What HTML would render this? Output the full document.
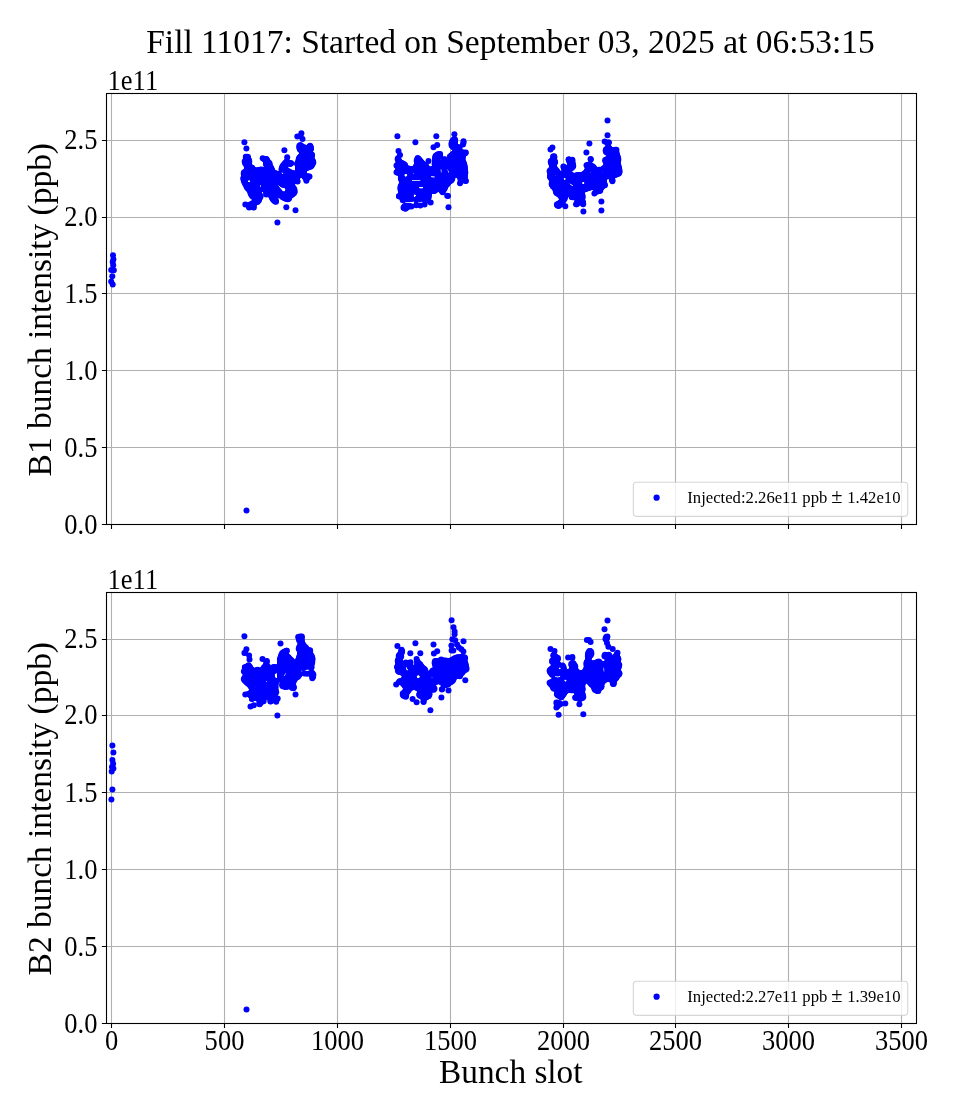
<!DOCTYPE html>
<html><head><meta charset="utf-8"><title>Fill 11017</title>
<style>html,body{margin:0;padding:0;background:#fff}svg{display:block;will-change:transform}text{font-family:"Liberation Serif",serif;fill:#000}</style>
</head><body>
<svg width="960" height="1120" viewBox="0 0 960 1120">
<rect width="960" height="1120" fill="#fff"/>
<text x="510.5" y="52.8" text-anchor="middle" font-size="33.48">Fill 11017: Started on September 03, 2025 at 06:53:15</text>
<path d="M111.5 93.5V524.5M224.5 93.5V524.5M337.5 93.5V524.5M450.5 93.5V524.5M563.5 93.5V524.5M675.5 93.5V524.5M788.5 93.5V524.5M901.5 93.5V524.5M106.5 447.5H916.5M106.5 370.5H916.5M106.5 293.5H916.5M106.5 217.5H916.5M106.5 140.5H916.5" stroke="#b0b0b0" stroke-width="1.1" fill="none"/>
<g fill="#0000ff"><circle cx="244.4" cy="142.3" r="3.00"/><circle cx="246.4" cy="148.4" r="3.00"/><circle cx="284.4" cy="150.3" r="3.00"/><circle cx="301.4" cy="133.2" r="3.00"/><circle cx="297.3" cy="136.4" r="3.00"/><circle cx="302.5" cy="139.1" r="3.00"/><circle cx="286.3" cy="207.3" r="3.00"/><circle cx="295.5" cy="210.3" r="3.00"/><circle cx="277.4" cy="222.5" r="3.00"/><circle cx="300.5" cy="136.0" r="3.00"/><circle cx="287.2" cy="157.3" r="3.00"/><circle cx="245.3" cy="204.5" r="3.00"/><circle cx="249.1" cy="207.5" r="3.00"/><circle cx="253.8" cy="207.5" r="3.00"/><circle cx="309.5" cy="176.4" r="3.00"/><circle cx="306.4" cy="180.8" r="3.00"/><circle cx="297.6" cy="181.5" r="3.00"/><circle cx="262.7" cy="158.3" r="3.00"/><circle cx="266.4" cy="158.9" r="3.00"/><circle cx="243.9" cy="172.6" r="3.00"/><circle cx="243.7" cy="173.8" r="3.00"/><circle cx="244.0" cy="175.1" r="3.00"/><circle cx="244.0" cy="176.4" r="3.00"/><circle cx="243.6" cy="177.6" r="3.00"/><circle cx="243.3" cy="178.8" r="3.00"/><circle cx="243.7" cy="180.1" r="3.00"/><circle cx="244.0" cy="181.3" r="3.00"/><circle cx="244.6" cy="182.5" r="3.00"/><circle cx="245.2" cy="183.7" r="3.00"/><circle cx="245.8" cy="184.8" r="3.00"/><circle cx="246.4" cy="186.0" r="3.00"/><circle cx="246.9" cy="187.2" r="3.00"/><circle cx="247.6" cy="188.2" r="3.00"/><circle cx="248.6" cy="189.2" r="3.00"/><circle cx="249.5" cy="190.1" r="3.00"/><circle cx="250.1" cy="191.2" r="3.00"/><circle cx="250.4" cy="192.5" r="3.00"/><circle cx="250.8" cy="193.7" r="3.00"/><circle cx="251.4" cy="194.8" r="3.00"/><circle cx="252.1" cy="195.9" r="3.00"/><circle cx="253.1" cy="196.8" r="3.00"/><circle cx="254.1" cy="197.6" r="3.00"/><circle cx="255.0" cy="198.6" r="3.00"/><circle cx="255.3" cy="199.8" r="3.00"/><circle cx="255.1" cy="201.1" r="3.00"/><circle cx="254.4" cy="202.2" r="3.00"/><circle cx="253.4" cy="202.9" r="3.00"/><circle cx="252.2" cy="203.6" r="3.00"/><circle cx="251.1" cy="204.2" r="3.00"/><circle cx="249.9" cy="204.7" r="3.00"/><circle cx="248.7" cy="205.2" r="3.00"/><circle cx="248.8" cy="205.9" r="3.00"/><circle cx="249.5" cy="207.1" r="3.00"/><circle cx="250.6" cy="207.0" r="3.00"/><circle cx="251.9" cy="206.9" r="3.00"/><circle cx="253.1" cy="207.3" r="3.00"/><circle cx="253.5" cy="206.1" r="3.00"/><circle cx="253.6" cy="204.8" r="3.00"/><circle cx="254.0" cy="203.6" r="3.00"/><circle cx="254.9" cy="202.7" r="3.00"/><circle cx="256.1" cy="202.2" r="3.00"/><circle cx="257.4" cy="201.9" r="3.00"/><circle cx="258.3" cy="201.0" r="3.00"/><circle cx="259.0" cy="199.9" r="3.00"/><circle cx="259.4" cy="198.7" r="3.00"/><circle cx="259.9" cy="197.5" r="3.00"/><circle cx="260.6" cy="196.4" r="3.00"/><circle cx="260.3" cy="195.7" r="3.00"/><circle cx="259.4" cy="194.7" r="3.00"/><circle cx="258.9" cy="193.5" r="3.00"/><circle cx="258.8" cy="192.2" r="3.00"/><circle cx="259.2" cy="191.0" r="3.00"/><circle cx="260.0" cy="189.9" r="3.00"/><circle cx="259.1" cy="189.6" r="3.00"/><circle cx="258.0" cy="189.0" r="3.00"/><circle cx="257.1" cy="188.0" r="3.00"/><circle cx="256.6" cy="186.8" r="3.00"/><circle cx="256.5" cy="185.5" r="3.00"/><circle cx="256.8" cy="184.3" r="3.00"/><circle cx="257.6" cy="183.2" r="3.00"/><circle cx="258.6" cy="182.5" r="3.00"/><circle cx="259.9" cy="182.1" r="3.00"/><circle cx="261.2" cy="182.2" r="3.00"/><circle cx="262.4" cy="182.7" r="3.00"/><circle cx="263.3" cy="183.6" r="3.00"/><circle cx="263.9" cy="184.7" r="3.00"/><circle cx="264.2" cy="186.0" r="3.00"/><circle cx="263.9" cy="187.2" r="3.00"/><circle cx="263.3" cy="188.4" r="3.00"/><circle cx="263.4" cy="188.9" r="3.00"/><circle cx="264.6" cy="189.4" r="3.00"/><circle cx="265.6" cy="190.2" r="3.00"/><circle cx="266.3" cy="191.4" r="3.00"/><circle cx="266.5" cy="192.6" r="3.00"/><circle cx="266.3" cy="193.9" r="3.00"/><circle cx="266.3" cy="194.4" r="3.00"/><circle cx="267.5" cy="193.8" r="3.00"/><circle cx="268.8" cy="193.8" r="3.00"/><circle cx="270.0" cy="194.3" r="3.00"/><circle cx="270.9" cy="195.2" r="3.00"/><circle cx="271.4" cy="196.4" r="3.00"/><circle cx="271.9" cy="197.6" r="3.00"/><circle cx="272.5" cy="198.7" r="3.00"/><circle cx="273.3" cy="199.8" r="3.00"/><circle cx="274.2" cy="200.7" r="3.00"/><circle cx="275.2" cy="201.5" r="3.00"/><circle cx="276.0" cy="201.8" r="3.00"/><circle cx="275.5" cy="200.5" r="3.00"/><circle cx="275.1" cy="199.3" r="3.00"/><circle cx="275.3" cy="198.0" r="3.00"/><circle cx="275.7" cy="196.8" r="3.00"/><circle cx="276.4" cy="195.7" r="3.00"/><circle cx="277.4" cy="194.9" r="3.00"/><circle cx="278.7" cy="194.7" r="3.00"/><circle cx="279.9" cy="195.0" r="3.00"/><circle cx="281.0" cy="195.7" r="3.00"/><circle cx="282.1" cy="196.4" r="3.00"/><circle cx="283.0" cy="197.3" r="3.00"/><circle cx="284.2" cy="197.9" r="3.00"/><circle cx="285.4" cy="198.4" r="3.00"/><circle cx="286.5" cy="198.9" r="3.00"/><circle cx="287.8" cy="199.2" r="3.00"/><circle cx="288.9" cy="198.8" r="3.00"/><circle cx="289.2" cy="197.6" r="3.00"/><circle cx="289.7" cy="196.4" r="3.00"/><circle cx="290.7" cy="195.5" r="3.00"/><circle cx="291.8" cy="194.8" r="3.00"/><circle cx="292.9" cy="194.1" r="3.00"/><circle cx="293.8" cy="193.2" r="3.00"/><circle cx="294.5" cy="192.2" r="3.00"/><circle cx="294.6" cy="190.9" r="3.00"/><circle cx="294.3" cy="189.6" r="3.00"/><circle cx="293.9" cy="188.4" r="3.00"/><circle cx="293.1" cy="187.4" r="3.00"/><circle cx="292.3" cy="186.3" r="3.00"/><circle cx="292.0" cy="185.1" r="3.00"/><circle cx="292.2" cy="183.8" r="3.00"/><circle cx="292.6" cy="182.6" r="3.00"/><circle cx="293.3" cy="181.5" r="3.00"/><circle cx="294.4" cy="180.8" r="3.00"/><circle cx="295.7" cy="180.6" r="3.00"/><circle cx="296.9" cy="181.0" r="3.00"/><circle cx="297.1" cy="180.6" r="3.00"/><circle cx="296.7" cy="179.4" r="3.00"/><circle cx="296.8" cy="178.1" r="3.00"/><circle cx="297.4" cy="176.9" r="3.00"/><circle cx="298.3" cy="176.0" r="3.00"/><circle cx="299.3" cy="175.1" r="3.00"/><circle cx="300.4" cy="174.6" r="3.00"/><circle cx="301.7" cy="174.6" r="3.00"/><circle cx="302.9" cy="175.1" r="3.00"/><circle cx="303.9" cy="176.0" r="3.00"/><circle cx="304.8" cy="176.9" r="3.00"/><circle cx="305.6" cy="177.9" r="3.00"/><circle cx="306.1" cy="179.1" r="3.00"/><circle cx="306.6" cy="178.7" r="3.00"/><circle cx="307.5" cy="177.8" r="3.00"/><circle cx="308.5" cy="176.9" r="3.00"/><circle cx="308.4" cy="176.4" r="3.00"/><circle cx="307.1" cy="176.3" r="3.00"/><circle cx="305.8" cy="176.1" r="3.00"/><circle cx="304.7" cy="175.5" r="3.00"/><circle cx="303.9" cy="174.4" r="3.00"/><circle cx="303.7" cy="173.1" r="3.00"/><circle cx="303.9" cy="171.8" r="3.00"/><circle cx="304.2" cy="170.6" r="3.00"/><circle cx="304.6" cy="169.4" r="3.00"/><circle cx="305.5" cy="168.4" r="3.00"/><circle cx="306.7" cy="167.9" r="3.00"/><circle cx="308.0" cy="167.5" r="3.00"/><circle cx="309.2" cy="167.1" r="3.00"/><circle cx="310.5" cy="166.7" r="3.00"/><circle cx="311.4" cy="166.1" r="3.00"/><circle cx="312.0" cy="164.9" r="3.00"/><circle cx="312.7" cy="163.8" r="3.00"/><circle cx="313.3" cy="162.6" r="3.00"/><circle cx="313.0" cy="161.4" r="3.00"/><circle cx="312.3" cy="160.3" r="3.00"/><circle cx="311.6" cy="159.2" r="3.00"/><circle cx="311.2" cy="158.0" r="3.00"/><circle cx="311.4" cy="156.7" r="3.00"/><circle cx="312.0" cy="155.6" r="3.00"/><circle cx="311.8" cy="154.6" r="3.00"/><circle cx="310.7" cy="153.9" r="3.00"/><circle cx="310.0" cy="152.8" r="3.00"/><circle cx="309.8" cy="151.6" r="3.00"/><circle cx="310.2" cy="150.3" r="3.00"/><circle cx="310.8" cy="149.2" r="3.00"/><circle cx="310.9" cy="148.0" r="3.00"/><circle cx="310.6" cy="146.7" r="3.00"/><circle cx="310.1" cy="145.7" r="3.00"/><circle cx="309.3" cy="146.8" r="3.00"/><circle cx="308.3" cy="147.7" r="3.00"/><circle cx="307.1" cy="148.1" r="3.00"/><circle cx="305.9" cy="148.0" r="3.00"/><circle cx="304.6" cy="147.6" r="3.00"/><circle cx="303.4" cy="147.2" r="3.00"/><circle cx="302.2" cy="146.7" r="3.00"/><circle cx="301.3" cy="145.7" r="3.00"/><circle cx="300.3" cy="145.0" r="3.00"/><circle cx="299.4" cy="145.7" r="3.00"/><circle cx="299.4" cy="147.0" r="3.00"/><circle cx="299.5" cy="148.2" r="3.00"/><circle cx="299.9" cy="149.5" r="3.00"/><circle cx="300.9" cy="150.3" r="3.00"/><circle cx="301.9" cy="151.1" r="3.00"/><circle cx="302.6" cy="152.3" r="3.00"/><circle cx="302.7" cy="153.5" r="3.00"/><circle cx="302.2" cy="154.8" r="3.00"/><circle cx="301.3" cy="155.7" r="3.00"/><circle cx="300.4" cy="156.6" r="3.00"/><circle cx="299.5" cy="157.6" r="3.00"/><circle cx="298.8" cy="158.7" r="3.00"/><circle cx="298.6" cy="159.9" r="3.00"/><circle cx="298.5" cy="161.2" r="3.00"/><circle cx="298.1" cy="162.5" r="3.00"/><circle cx="297.3" cy="163.5" r="3.00"/><circle cx="297.5" cy="164.4" r="3.00"/><circle cx="298.0" cy="165.6" r="3.00"/><circle cx="298.0" cy="166.9" r="3.00"/><circle cx="298.0" cy="168.2" r="3.00"/><circle cx="298.0" cy="169.5" r="3.00"/><circle cx="298.0" cy="170.8" r="3.00"/><circle cx="297.7" cy="172.0" r="3.00"/><circle cx="296.9" cy="173.0" r="3.00"/><circle cx="295.8" cy="173.6" r="3.00"/><circle cx="294.5" cy="173.7" r="3.00"/><circle cx="293.2" cy="173.3" r="3.00"/><circle cx="292.0" cy="172.9" r="3.00"/><circle cx="290.8" cy="172.5" r="3.00"/><circle cx="289.6" cy="171.9" r="3.00"/><circle cx="288.4" cy="171.3" r="3.00"/><circle cx="287.3" cy="170.8" r="3.00"/><circle cx="286.3" cy="170.0" r="3.00"/><circle cx="285.6" cy="168.9" r="3.00"/><circle cx="284.9" cy="167.8" r="3.00"/><circle cx="284.5" cy="166.5" r="3.00"/><circle cx="284.7" cy="165.2" r="3.00"/><circle cx="285.4" cy="164.2" r="3.00"/><circle cx="286.4" cy="163.4" r="3.00"/><circle cx="287.7" cy="163.3" r="3.00"/><circle cx="289.0" cy="163.6" r="3.00"/><circle cx="290.1" cy="163.9" r="3.00"/><circle cx="291.2" cy="163.2" r="3.00"/><circle cx="290.1" cy="163.0" r="3.00"/><circle cx="288.9" cy="162.7" r="3.00"/><circle cx="287.7" cy="162.2" r="3.00"/><circle cx="286.8" cy="161.3" r="3.00"/><circle cx="285.9" cy="162.3" r="3.00"/><circle cx="285.0" cy="163.2" r="3.00"/><circle cx="284.1" cy="164.2" r="3.00"/><circle cx="283.3" cy="165.2" r="3.00"/><circle cx="282.5" cy="166.2" r="3.00"/><circle cx="282.1" cy="167.5" r="3.00"/><circle cx="281.7" cy="168.7" r="3.00"/><circle cx="281.6" cy="169.6" r="3.00"/><circle cx="282.8" cy="169.4" r="3.00"/><circle cx="284.1" cy="169.7" r="3.00"/><circle cx="285.2" cy="170.3" r="3.00"/><circle cx="286.1" cy="171.3" r="3.00"/><circle cx="286.6" cy="172.5" r="3.00"/><circle cx="286.6" cy="173.8" r="3.00"/><circle cx="286.2" cy="175.0" r="3.00"/><circle cx="285.5" cy="176.1" r="3.00"/><circle cx="284.4" cy="176.8" r="3.00"/><circle cx="283.1" cy="177.1" r="3.00"/><circle cx="281.9" cy="177.0" r="3.00"/><circle cx="280.7" cy="176.5" r="3.00"/><circle cx="279.7" cy="175.6" r="3.00"/><circle cx="279.1" cy="174.4" r="3.00"/><circle cx="278.6" cy="173.7" r="3.00"/><circle cx="277.4" cy="173.9" r="3.00"/><circle cx="276.1" cy="173.6" r="3.00"/><circle cx="274.9" cy="173.1" r="3.00"/><circle cx="273.7" cy="172.6" r="3.00"/><circle cx="272.7" cy="171.8" r="3.00"/><circle cx="272.2" cy="170.6" r="3.00"/><circle cx="271.9" cy="169.4" r="3.00"/><circle cx="271.2" cy="168.3" r="3.00"/><circle cx="270.5" cy="167.2" r="3.00"/><circle cx="269.8" cy="166.1" r="3.00"/><circle cx="269.5" cy="164.8" r="3.00"/><circle cx="269.6" cy="163.5" r="3.00"/><circle cx="268.8" cy="162.6" r="3.00"/><circle cx="267.9" cy="161.7" r="3.00"/><circle cx="267.2" cy="160.6" r="3.00"/><circle cx="266.5" cy="159.5" r="3.00"/><circle cx="265.3" cy="159.0" r="3.00"/><circle cx="264.0" cy="158.9" r="3.00"/><circle cx="264.9" cy="159.4" r="3.00"/><circle cx="265.7" cy="160.4" r="3.00"/><circle cx="266.0" cy="161.7" r="3.00"/><circle cx="266.0" cy="163.0" r="3.00"/><circle cx="266.2" cy="164.3" r="3.00"/><circle cx="266.6" cy="165.5" r="3.00"/><circle cx="267.0" cy="166.7" r="3.00"/><circle cx="266.8" cy="168.0" r="3.00"/><circle cx="266.1" cy="169.1" r="3.00"/><circle cx="265.0" cy="169.8" r="3.00"/><circle cx="263.7" cy="170.0" r="3.00"/><circle cx="262.5" cy="169.7" r="3.00"/><circle cx="261.2" cy="169.4" r="3.00"/><circle cx="260.0" cy="169.7" r="3.00"/><circle cx="258.7" cy="170.1" r="3.00"/><circle cx="257.5" cy="170.4" r="3.00"/><circle cx="256.2" cy="170.4" r="3.00"/><circle cx="254.9" cy="170.2" r="3.00"/><circle cx="253.7" cy="169.7" r="3.00"/><circle cx="252.8" cy="168.8" r="3.00"/><circle cx="252.1" cy="167.7" r="3.00"/><circle cx="250.9" cy="167.3" r="3.00"/><circle cx="249.7" cy="166.7" r="3.00"/><circle cx="249.0" cy="165.6" r="3.00"/><circle cx="248.7" cy="164.4" r="3.00"/><circle cx="249.0" cy="163.1" r="3.00"/><circle cx="249.3" cy="161.9" r="3.00"/><circle cx="249.1" cy="160.6" r="3.00"/><circle cx="248.5" cy="159.5" r="3.00"/><circle cx="248.0" cy="158.3" r="3.00"/><circle cx="248.0" cy="157.0" r="3.00"/><circle cx="247.1" cy="156.7" r="3.00"/><circle cx="245.8" cy="156.8" r="3.00"/><circle cx="245.9" cy="158.0" r="3.00"/><circle cx="245.9" cy="159.3" r="3.00"/><circle cx="245.4" cy="160.5" r="3.00"/><circle cx="244.7" cy="161.6" r="3.00"/><circle cx="245.0" cy="162.9" r="3.00"/><circle cx="245.8" cy="163.9" r="3.00"/><circle cx="246.6" cy="164.9" r="3.00"/><circle cx="246.9" cy="166.2" r="3.00"/><circle cx="246.9" cy="167.5" r="3.00"/><circle cx="246.9" cy="168.8" r="3.00"/><circle cx="246.7" cy="170.1" r="3.00"/><circle cx="246.0" cy="171.2" r="3.00"/><circle cx="245.0" cy="171.9" r="3.00"/><circle cx="279.4" cy="191.9" r="3.00"/><circle cx="278.6" cy="190.9" r="3.00"/><circle cx="277.7" cy="189.9" r="3.00"/><circle cx="276.9" cy="188.9" r="3.00"/><circle cx="276.1" cy="187.9" r="3.00"/><circle cx="275.3" cy="186.8" r="3.00"/><circle cx="274.7" cy="185.6" r="3.00"/><circle cx="274.7" cy="184.3" r="3.00"/><circle cx="275.3" cy="183.1" r="3.00"/><circle cx="276.3" cy="182.3" r="3.00"/><circle cx="277.6" cy="182.0" r="3.00"/><circle cx="278.9" cy="182.2" r="3.00"/><circle cx="280.1" cy="182.7" r="3.00"/><circle cx="281.2" cy="183.4" r="3.00"/><circle cx="282.2" cy="184.3" r="3.00"/><circle cx="283.2" cy="184.8" r="3.00"/><circle cx="284.6" cy="184.9" r="3.00"/><circle cx="285.8" cy="185.3" r="3.00"/><circle cx="286.9" cy="186.0" r="3.00"/><circle cx="287.8" cy="187.0" r="3.00"/><circle cx="288.4" cy="188.1" r="3.00"/><circle cx="288.6" cy="189.4" r="3.00"/><circle cx="288.5" cy="190.8" r="3.00"/><circle cx="288.0" cy="192.0" r="3.00"/><circle cx="287.3" cy="193.1" r="3.00"/><circle cx="286.2" cy="193.9" r="3.00"/><circle cx="285.0" cy="194.4" r="3.00"/><circle cx="283.7" cy="194.6" r="3.00"/><circle cx="282.4" cy="194.4" r="3.00"/><circle cx="281.2" cy="193.8" r="3.00"/><circle cx="280.2" cy="193.0" r="3.00"/><circle cx="252.4" cy="183.8" r="3.00"/><circle cx="251.5" cy="184.7" r="3.00"/><circle cx="250.3" cy="185.3" r="3.00"/><circle cx="249.0" cy="185.5" r="3.00"/><circle cx="247.7" cy="185.2" r="3.00"/><circle cx="246.5" cy="184.6" r="3.00"/><circle cx="245.6" cy="183.6" r="3.00"/><circle cx="245.0" cy="182.5" r="3.00"/><circle cx="244.8" cy="181.1" r="3.00"/><circle cx="245.1" cy="179.9" r="3.00"/><circle cx="245.7" cy="178.7" r="3.00"/><circle cx="246.7" cy="177.8" r="3.00"/><circle cx="247.9" cy="177.2" r="3.00"/><circle cx="249.2" cy="177.0" r="3.00"/><circle cx="250.5" cy="177.3" r="3.00"/><circle cx="251.6" cy="177.9" r="3.00"/><circle cx="252.5" cy="178.9" r="3.00"/><circle cx="253.1" cy="180.0" r="3.00"/><circle cx="253.3" cy="181.4" r="3.00"/><circle cx="253.0" cy="182.6" r="3.00"/><circle cx="299.7" cy="147.1" r="3.00"/><circle cx="302.1" cy="147.1" r="3.00"/><circle cx="309.3" cy="147.1" r="3.00"/><circle cx="300.9" cy="149.1" r="3.00"/><circle cx="303.3" cy="149.1" r="3.00"/><circle cx="305.7" cy="149.1" r="3.00"/><circle cx="308.1" cy="149.1" r="3.00"/><circle cx="310.5" cy="149.1" r="3.00"/><circle cx="302.1" cy="151.2" r="3.00"/><circle cx="304.5" cy="151.2" r="3.00"/><circle cx="306.9" cy="151.2" r="3.00"/><circle cx="309.3" cy="151.2" r="3.00"/><circle cx="303.3" cy="153.3" r="3.00"/><circle cx="305.7" cy="153.3" r="3.00"/><circle cx="308.1" cy="153.3" r="3.00"/><circle cx="302.1" cy="155.4" r="3.00"/><circle cx="304.5" cy="155.4" r="3.00"/><circle cx="306.9" cy="155.4" r="3.00"/><circle cx="309.3" cy="155.4" r="3.00"/><circle cx="311.7" cy="155.4" r="3.00"/><circle cx="300.9" cy="157.4" r="3.00"/><circle cx="303.3" cy="157.4" r="3.00"/><circle cx="305.7" cy="157.4" r="3.00"/><circle cx="308.1" cy="157.4" r="3.00"/><circle cx="310.5" cy="157.4" r="3.00"/><circle cx="246.9" cy="159.5" r="3.00"/><circle cx="266.1" cy="159.5" r="3.00"/><circle cx="299.7" cy="159.5" r="3.00"/><circle cx="302.1" cy="159.5" r="3.00"/><circle cx="304.5" cy="159.5" r="3.00"/><circle cx="306.9" cy="159.5" r="3.00"/><circle cx="309.3" cy="159.5" r="3.00"/><circle cx="311.7" cy="159.5" r="3.00"/><circle cx="245.7" cy="161.6" r="3.00"/><circle cx="248.1" cy="161.6" r="3.00"/><circle cx="267.3" cy="161.6" r="3.00"/><circle cx="298.5" cy="161.6" r="3.00"/><circle cx="300.9" cy="161.6" r="3.00"/><circle cx="303.3" cy="161.6" r="3.00"/><circle cx="305.7" cy="161.6" r="3.00"/><circle cx="308.1" cy="161.6" r="3.00"/><circle cx="310.5" cy="161.6" r="3.00"/><circle cx="312.9" cy="161.6" r="3.00"/><circle cx="246.9" cy="163.7" r="3.00"/><circle cx="266.1" cy="163.7" r="3.00"/><circle cx="268.5" cy="163.7" r="3.00"/><circle cx="285.3" cy="163.7" r="3.00"/><circle cx="290.1" cy="163.7" r="3.00"/><circle cx="297.3" cy="163.7" r="3.00"/><circle cx="299.7" cy="163.7" r="3.00"/><circle cx="302.1" cy="163.7" r="3.00"/><circle cx="304.5" cy="163.7" r="3.00"/><circle cx="306.9" cy="163.7" r="3.00"/><circle cx="309.3" cy="163.7" r="3.00"/><circle cx="311.7" cy="163.7" r="3.00"/><circle cx="248.1" cy="165.8" r="3.00"/><circle cx="267.3" cy="165.8" r="3.00"/><circle cx="284.1" cy="165.8" r="3.00"/><circle cx="298.5" cy="165.8" r="3.00"/><circle cx="300.9" cy="165.8" r="3.00"/><circle cx="303.3" cy="165.8" r="3.00"/><circle cx="305.7" cy="165.8" r="3.00"/><circle cx="308.1" cy="165.8" r="3.00"/><circle cx="310.5" cy="165.8" r="3.00"/><circle cx="249.3" cy="167.8" r="3.00"/><circle cx="251.7" cy="167.8" r="3.00"/><circle cx="268.5" cy="167.8" r="3.00"/><circle cx="270.9" cy="167.8" r="3.00"/><circle cx="282.9" cy="167.8" r="3.00"/><circle cx="299.7" cy="167.8" r="3.00"/><circle cx="302.1" cy="167.8" r="3.00"/><circle cx="304.5" cy="167.8" r="3.00"/><circle cx="306.9" cy="167.8" r="3.00"/><circle cx="248.1" cy="169.9" r="3.00"/><circle cx="250.5" cy="169.9" r="3.00"/><circle cx="252.9" cy="169.9" r="3.00"/><circle cx="260.1" cy="169.9" r="3.00"/><circle cx="262.5" cy="169.9" r="3.00"/><circle cx="264.9" cy="169.9" r="3.00"/><circle cx="267.3" cy="169.9" r="3.00"/><circle cx="269.7" cy="169.9" r="3.00"/><circle cx="298.5" cy="169.9" r="3.00"/><circle cx="300.9" cy="169.9" r="3.00"/><circle cx="303.3" cy="169.9" r="3.00"/><circle cx="246.9" cy="172.0" r="3.00"/><circle cx="249.3" cy="172.0" r="3.00"/><circle cx="251.7" cy="172.0" r="3.00"/><circle cx="254.1" cy="172.0" r="3.00"/><circle cx="256.5" cy="172.0" r="3.00"/><circle cx="258.9" cy="172.0" r="3.00"/><circle cx="261.3" cy="172.0" r="3.00"/><circle cx="263.7" cy="172.0" r="3.00"/><circle cx="266.1" cy="172.0" r="3.00"/><circle cx="268.5" cy="172.0" r="3.00"/><circle cx="270.9" cy="172.0" r="3.00"/><circle cx="287.7" cy="172.0" r="3.00"/><circle cx="299.7" cy="172.0" r="3.00"/><circle cx="302.1" cy="172.0" r="3.00"/><circle cx="245.7" cy="174.1" r="3.00"/><circle cx="248.1" cy="174.1" r="3.00"/><circle cx="250.5" cy="174.1" r="3.00"/><circle cx="252.9" cy="174.1" r="3.00"/><circle cx="255.3" cy="174.1" r="3.00"/><circle cx="257.7" cy="174.1" r="3.00"/><circle cx="260.1" cy="174.1" r="3.00"/><circle cx="262.5" cy="174.1" r="3.00"/><circle cx="264.9" cy="174.1" r="3.00"/><circle cx="267.3" cy="174.1" r="3.00"/><circle cx="269.7" cy="174.1" r="3.00"/><circle cx="272.1" cy="174.1" r="3.00"/><circle cx="274.5" cy="174.1" r="3.00"/><circle cx="276.9" cy="174.1" r="3.00"/><circle cx="288.9" cy="174.1" r="3.00"/><circle cx="291.3" cy="174.1" r="3.00"/><circle cx="293.7" cy="174.1" r="3.00"/><circle cx="296.1" cy="174.1" r="3.00"/><circle cx="298.5" cy="174.1" r="3.00"/><circle cx="300.9" cy="174.1" r="3.00"/><circle cx="303.3" cy="174.1" r="3.00"/><circle cx="244.5" cy="176.1" r="3.00"/><circle cx="246.9" cy="176.1" r="3.00"/><circle cx="249.3" cy="176.1" r="3.00"/><circle cx="251.7" cy="176.1" r="3.00"/><circle cx="254.1" cy="176.1" r="3.00"/><circle cx="256.5" cy="176.1" r="3.00"/><circle cx="258.9" cy="176.1" r="3.00"/><circle cx="261.3" cy="176.1" r="3.00"/><circle cx="263.7" cy="176.1" r="3.00"/><circle cx="266.1" cy="176.1" r="3.00"/><circle cx="268.5" cy="176.1" r="3.00"/><circle cx="270.9" cy="176.1" r="3.00"/><circle cx="273.3" cy="176.1" r="3.00"/><circle cx="275.7" cy="176.1" r="3.00"/><circle cx="278.1" cy="176.1" r="3.00"/><circle cx="287.7" cy="176.1" r="3.00"/><circle cx="290.1" cy="176.1" r="3.00"/><circle cx="292.5" cy="176.1" r="3.00"/><circle cx="294.9" cy="176.1" r="3.00"/><circle cx="297.3" cy="176.1" r="3.00"/><circle cx="304.5" cy="176.1" r="3.00"/><circle cx="245.7" cy="178.2" r="3.00"/><circle cx="252.9" cy="178.2" r="3.00"/><circle cx="255.3" cy="178.2" r="3.00"/><circle cx="257.7" cy="178.2" r="3.00"/><circle cx="260.1" cy="178.2" r="3.00"/><circle cx="262.5" cy="178.2" r="3.00"/><circle cx="264.9" cy="178.2" r="3.00"/><circle cx="267.3" cy="178.2" r="3.00"/><circle cx="269.7" cy="178.2" r="3.00"/><circle cx="272.1" cy="178.2" r="3.00"/><circle cx="274.5" cy="178.2" r="3.00"/><circle cx="276.9" cy="178.2" r="3.00"/><circle cx="279.3" cy="178.2" r="3.00"/><circle cx="281.7" cy="178.2" r="3.00"/><circle cx="284.1" cy="178.2" r="3.00"/><circle cx="286.5" cy="178.2" r="3.00"/><circle cx="288.9" cy="178.2" r="3.00"/><circle cx="291.3" cy="178.2" r="3.00"/><circle cx="293.7" cy="178.2" r="3.00"/><circle cx="296.1" cy="178.2" r="3.00"/><circle cx="244.5" cy="180.3" r="3.00"/><circle cx="254.1" cy="180.3" r="3.00"/><circle cx="256.5" cy="180.3" r="3.00"/><circle cx="258.9" cy="180.3" r="3.00"/><circle cx="261.3" cy="180.3" r="3.00"/><circle cx="263.7" cy="180.3" r="3.00"/><circle cx="266.1" cy="180.3" r="3.00"/><circle cx="268.5" cy="180.3" r="3.00"/><circle cx="270.9" cy="180.3" r="3.00"/><circle cx="273.3" cy="180.3" r="3.00"/><circle cx="275.7" cy="180.3" r="3.00"/><circle cx="278.1" cy="180.3" r="3.00"/><circle cx="280.5" cy="180.3" r="3.00"/><circle cx="282.9" cy="180.3" r="3.00"/><circle cx="285.3" cy="180.3" r="3.00"/><circle cx="287.7" cy="180.3" r="3.00"/><circle cx="290.1" cy="180.3" r="3.00"/><circle cx="292.5" cy="180.3" r="3.00"/><circle cx="294.9" cy="180.3" r="3.00"/><circle cx="255.3" cy="182.4" r="3.00"/><circle cx="257.7" cy="182.4" r="3.00"/><circle cx="262.5" cy="182.4" r="3.00"/><circle cx="264.9" cy="182.4" r="3.00"/><circle cx="267.3" cy="182.4" r="3.00"/><circle cx="269.7" cy="182.4" r="3.00"/><circle cx="272.1" cy="182.4" r="3.00"/><circle cx="274.5" cy="182.4" r="3.00"/><circle cx="281.7" cy="182.4" r="3.00"/><circle cx="284.1" cy="182.4" r="3.00"/><circle cx="286.5" cy="182.4" r="3.00"/><circle cx="288.9" cy="182.4" r="3.00"/><circle cx="291.3" cy="182.4" r="3.00"/><circle cx="254.1" cy="184.5" r="3.00"/><circle cx="256.5" cy="184.5" r="3.00"/><circle cx="266.1" cy="184.5" r="3.00"/><circle cx="268.5" cy="184.5" r="3.00"/><circle cx="270.9" cy="184.5" r="3.00"/><circle cx="273.3" cy="184.5" r="3.00"/><circle cx="282.9" cy="184.5" r="3.00"/><circle cx="285.3" cy="184.5" r="3.00"/><circle cx="287.7" cy="184.5" r="3.00"/><circle cx="290.1" cy="184.5" r="3.00"/><circle cx="248.1" cy="186.5" r="3.00"/><circle cx="250.5" cy="186.5" r="3.00"/><circle cx="252.9" cy="186.5" r="3.00"/><circle cx="255.3" cy="186.5" r="3.00"/><circle cx="264.9" cy="186.5" r="3.00"/><circle cx="267.3" cy="186.5" r="3.00"/><circle cx="269.7" cy="186.5" r="3.00"/><circle cx="272.1" cy="186.5" r="3.00"/><circle cx="274.5" cy="186.5" r="3.00"/><circle cx="288.9" cy="186.5" r="3.00"/><circle cx="291.3" cy="186.5" r="3.00"/><circle cx="249.3" cy="188.6" r="3.00"/><circle cx="251.7" cy="188.6" r="3.00"/><circle cx="254.1" cy="188.6" r="3.00"/><circle cx="256.5" cy="188.6" r="3.00"/><circle cx="263.7" cy="188.6" r="3.00"/><circle cx="266.1" cy="188.6" r="3.00"/><circle cx="268.5" cy="188.6" r="3.00"/><circle cx="270.9" cy="188.6" r="3.00"/><circle cx="273.3" cy="188.6" r="3.00"/><circle cx="275.7" cy="188.6" r="3.00"/><circle cx="290.1" cy="188.6" r="3.00"/><circle cx="292.5" cy="188.6" r="3.00"/><circle cx="250.5" cy="190.7" r="3.00"/><circle cx="252.9" cy="190.7" r="3.00"/><circle cx="255.3" cy="190.7" r="3.00"/><circle cx="257.7" cy="190.7" r="3.00"/><circle cx="267.3" cy="190.7" r="3.00"/><circle cx="269.7" cy="190.7" r="3.00"/><circle cx="272.1" cy="190.7" r="3.00"/><circle cx="274.5" cy="190.7" r="3.00"/><circle cx="276.9" cy="190.7" r="3.00"/><circle cx="288.9" cy="190.7" r="3.00"/><circle cx="291.3" cy="190.7" r="3.00"/><circle cx="293.7" cy="190.7" r="3.00"/><circle cx="251.7" cy="192.8" r="3.00"/><circle cx="254.1" cy="192.8" r="3.00"/><circle cx="256.5" cy="192.8" r="3.00"/><circle cx="268.5" cy="192.8" r="3.00"/><circle cx="270.9" cy="192.8" r="3.00"/><circle cx="273.3" cy="192.8" r="3.00"/><circle cx="275.7" cy="192.8" r="3.00"/><circle cx="278.1" cy="192.8" r="3.00"/><circle cx="287.7" cy="192.8" r="3.00"/><circle cx="290.1" cy="192.8" r="3.00"/><circle cx="292.5" cy="192.8" r="3.00"/><circle cx="252.9" cy="194.9" r="3.00"/><circle cx="255.3" cy="194.9" r="3.00"/><circle cx="257.7" cy="194.9" r="3.00"/><circle cx="272.1" cy="194.9" r="3.00"/><circle cx="274.5" cy="194.9" r="3.00"/><circle cx="276.9" cy="194.9" r="3.00"/><circle cx="281.7" cy="194.9" r="3.00"/><circle cx="284.1" cy="194.9" r="3.00"/><circle cx="286.5" cy="194.9" r="3.00"/><circle cx="288.9" cy="194.9" r="3.00"/><circle cx="291.3" cy="194.9" r="3.00"/><circle cx="254.1" cy="196.9" r="3.00"/><circle cx="256.5" cy="196.9" r="3.00"/><circle cx="258.9" cy="196.9" r="3.00"/><circle cx="273.3" cy="196.9" r="3.00"/><circle cx="282.9" cy="196.9" r="3.00"/><circle cx="285.3" cy="196.9" r="3.00"/><circle cx="287.7" cy="196.9" r="3.00"/><circle cx="255.3" cy="199.0" r="3.00"/><circle cx="257.7" cy="199.0" r="3.00"/><circle cx="274.5" cy="199.0" r="3.00"/><circle cx="256.5" cy="201.1" r="3.00"/><circle cx="275.7" cy="201.1" r="3.00"/><circle cx="249.3" cy="205.2" r="3.00"/><circle cx="251.7" cy="205.2" r="3.00"/><circle cx="397.4" cy="136.3" r="3.00"/><circle cx="415.4" cy="142.2" r="3.00"/><circle cx="436.3" cy="136.3" r="3.00"/><circle cx="437.2" cy="145.0" r="3.00"/><circle cx="433.5" cy="147.3" r="3.00"/><circle cx="448.5" cy="207.3" r="3.00"/><circle cx="428.5" cy="160.9" r="3.00"/><circle cx="454.4" cy="134.2" r="3.00"/><circle cx="398.5" cy="151.1" r="3.00"/><circle cx="448.0" cy="195.9" r="3.00"/><circle cx="430.7" cy="202.6" r="3.00"/><circle cx="403.5" cy="207.8" r="3.00"/><circle cx="405.3" cy="208.7" r="3.00"/><circle cx="463.5" cy="141.2" r="3.00"/><circle cx="463.0" cy="144.5" r="3.00"/><circle cx="465.8" cy="152.5" r="3.00"/><circle cx="400.0" cy="155.0" r="3.00"/><circle cx="411.4" cy="206.4" r="3.00"/><circle cx="416.1" cy="205.2" r="3.00"/><circle cx="420.3" cy="205.4" r="3.00"/><circle cx="424.6" cy="204.5" r="3.00"/><circle cx="396.5" cy="172.2" r="3.00"/><circle cx="397.7" cy="172.7" r="3.00"/><circle cx="399.0" cy="173.0" r="3.00"/><circle cx="400.1" cy="173.5" r="3.00"/><circle cx="401.0" cy="174.5" r="3.00"/><circle cx="401.3" cy="174.6" r="3.00"/><circle cx="401.6" cy="173.4" r="3.00"/><circle cx="402.3" cy="172.3" r="3.00"/><circle cx="403.3" cy="171.4" r="3.00"/><circle cx="404.5" cy="170.9" r="3.00"/><circle cx="405.7" cy="170.7" r="3.00"/><circle cx="407.0" cy="170.8" r="3.00"/><circle cx="408.2" cy="171.3" r="3.00"/><circle cx="409.2" cy="172.2" r="3.00"/><circle cx="409.9" cy="172.7" r="3.00"/><circle cx="410.4" cy="171.5" r="3.00"/><circle cx="411.3" cy="170.6" r="3.00"/><circle cx="412.5" cy="170.1" r="3.00"/><circle cx="413.8" cy="170.0" r="3.00"/><circle cx="415.0" cy="170.4" r="3.00"/><circle cx="416.0" cy="171.3" r="3.00"/><circle cx="416.7" cy="172.4" r="3.00"/><circle cx="416.9" cy="173.7" r="3.00"/><circle cx="416.6" cy="174.9" r="3.00"/><circle cx="415.9" cy="176.0" r="3.00"/><circle cx="414.8" cy="176.8" r="3.00"/><circle cx="413.6" cy="177.1" r="3.00"/><circle cx="412.3" cy="177.0" r="3.00"/><circle cx="411.2" cy="176.4" r="3.00"/><circle cx="410.4" cy="175.8" r="3.00"/><circle cx="410.0" cy="177.0" r="3.00"/><circle cx="409.4" cy="178.1" r="3.00"/><circle cx="408.4" cy="179.0" r="3.00"/><circle cx="407.3" cy="179.6" r="3.00"/><circle cx="406.0" cy="179.8" r="3.00"/><circle cx="404.7" cy="179.7" r="3.00"/><circle cx="403.5" cy="179.2" r="3.00"/><circle cx="402.5" cy="178.4" r="3.00"/><circle cx="401.7" cy="177.3" r="3.00"/><circle cx="401.3" cy="176.1" r="3.00"/><circle cx="400.9" cy="177.3" r="3.00"/><circle cx="400.9" cy="178.5" r="3.00"/><circle cx="401.4" cy="179.8" r="3.00"/><circle cx="401.8" cy="181.0" r="3.00"/><circle cx="402.2" cy="182.2" r="3.00"/><circle cx="402.2" cy="183.5" r="3.00"/><circle cx="401.7" cy="184.7" r="3.00"/><circle cx="400.9" cy="185.7" r="3.00"/><circle cx="400.5" cy="187.0" r="3.00"/><circle cx="400.5" cy="188.2" r="3.00"/><circle cx="400.6" cy="189.5" r="3.00"/><circle cx="400.8" cy="190.8" r="3.00"/><circle cx="401.1" cy="192.1" r="3.00"/><circle cx="401.3" cy="193.4" r="3.00"/><circle cx="401.0" cy="194.6" r="3.00"/><circle cx="400.2" cy="195.6" r="3.00"/><circle cx="399.0" cy="196.2" r="3.00"/><circle cx="399.0" cy="196.3" r="3.00"/><circle cx="400.3" cy="196.4" r="3.00"/><circle cx="401.5" cy="196.9" r="3.00"/><circle cx="402.3" cy="197.9" r="3.00"/><circle cx="402.7" cy="199.1" r="3.00"/><circle cx="402.8" cy="200.3" r="3.00"/><circle cx="403.8" cy="199.8" r="3.00"/><circle cx="404.9" cy="199.1" r="3.00"/><circle cx="406.2" cy="199.0" r="3.00"/><circle cx="407.5" cy="199.0" r="3.00"/><circle cx="408.8" cy="199.0" r="3.00"/><circle cx="410.1" cy="199.0" r="3.00"/><circle cx="411.4" cy="199.0" r="3.00"/><circle cx="411.6" cy="198.5" r="3.00"/><circle cx="410.8" cy="197.5" r="3.00"/><circle cx="410.5" cy="196.2" r="3.00"/><circle cx="410.5" cy="194.9" r="3.00"/><circle cx="410.8" cy="193.7" r="3.00"/><circle cx="411.6" cy="192.6" r="3.00"/><circle cx="412.6" cy="191.8" r="3.00"/><circle cx="413.8" cy="191.4" r="3.00"/><circle cx="415.1" cy="191.3" r="3.00"/><circle cx="416.4" cy="191.6" r="3.00"/><circle cx="417.5" cy="192.3" r="3.00"/><circle cx="418.3" cy="193.3" r="3.00"/><circle cx="418.9" cy="194.4" r="3.00"/><circle cx="419.0" cy="195.7" r="3.00"/><circle cx="418.8" cy="197.0" r="3.00"/><circle cx="418.2" cy="198.1" r="3.00"/><circle cx="417.3" cy="199.1" r="3.00"/><circle cx="416.1" cy="199.7" r="3.00"/><circle cx="416.4" cy="200.2" r="3.00"/><circle cx="417.3" cy="199.3" r="3.00"/><circle cx="418.5" cy="198.8" r="3.00"/><circle cx="419.8" cy="198.8" r="3.00"/><circle cx="421.1" cy="198.8" r="3.00"/><circle cx="422.4" cy="198.8" r="3.00"/><circle cx="423.7" cy="198.8" r="3.00"/><circle cx="425.0" cy="199.1" r="3.00"/><circle cx="426.0" cy="199.9" r="3.00"/><circle cx="426.8" cy="200.6" r="3.00"/><circle cx="427.7" cy="200.3" r="3.00"/><circle cx="427.8" cy="199.0" r="3.00"/><circle cx="428.4" cy="197.8" r="3.00"/><circle cx="428.7" cy="196.7" r="3.00"/><circle cx="428.7" cy="195.4" r="3.00"/><circle cx="428.9" cy="194.2" r="3.00"/><circle cx="429.2" cy="192.9" r="3.00"/><circle cx="429.8" cy="191.7" r="3.00"/><circle cx="430.8" cy="191.0" r="3.00"/><circle cx="432.1" cy="190.7" r="3.00"/><circle cx="433.4" cy="191.0" r="3.00"/><circle cx="434.3" cy="191.1" r="3.00"/><circle cx="435.2" cy="190.2" r="3.00"/><circle cx="436.4" cy="189.6" r="3.00"/><circle cx="437.6" cy="189.0" r="3.00"/><circle cx="438.8" cy="188.9" r="3.00"/><circle cx="440.1" cy="189.2" r="3.00"/><circle cx="441.0" cy="190.1" r="3.00"/><circle cx="441.8" cy="191.1" r="3.00"/><circle cx="442.6" cy="192.2" r="3.00"/><circle cx="442.8" cy="191.0" r="3.00"/><circle cx="443.4" cy="189.9" r="3.00"/><circle cx="444.3" cy="189.0" r="3.00"/><circle cx="444.8" cy="187.8" r="3.00"/><circle cx="445.2" cy="186.6" r="3.00"/><circle cx="445.9" cy="185.5" r="3.00"/><circle cx="446.8" cy="184.6" r="3.00"/><circle cx="447.7" cy="183.6" r="3.00"/><circle cx="448.5" cy="182.6" r="3.00"/><circle cx="449.3" cy="181.6" r="3.00"/><circle cx="450.4" cy="180.9" r="3.00"/><circle cx="451.5" cy="180.2" r="3.00"/><circle cx="452.2" cy="179.1" r="3.00"/><circle cx="452.4" cy="177.8" r="3.00"/><circle cx="452.6" cy="176.5" r="3.00"/><circle cx="453.2" cy="175.4" r="3.00"/><circle cx="454.3" cy="174.6" r="3.00"/><circle cx="455.5" cy="174.3" r="3.00"/><circle cx="456.8" cy="174.6" r="3.00"/><circle cx="457.9" cy="175.2" r="3.00"/><circle cx="459.1" cy="175.8" r="3.00"/><circle cx="460.0" cy="176.7" r="3.00"/><circle cx="460.4" cy="178.0" r="3.00"/><circle cx="460.6" cy="179.3" r="3.00"/><circle cx="460.8" cy="180.5" r="3.00"/><circle cx="460.9" cy="181.4" r="3.00"/><circle cx="461.8" cy="180.4" r="3.00"/><circle cx="463.0" cy="180.0" r="3.00"/><circle cx="464.3" cy="180.1" r="3.00"/><circle cx="465.4" cy="180.7" r="3.00"/><circle cx="465.9" cy="181.1" r="3.00"/><circle cx="465.2" cy="180.0" r="3.00"/><circle cx="464.7" cy="178.8" r="3.00"/><circle cx="464.7" cy="177.5" r="3.00"/><circle cx="464.7" cy="176.2" r="3.00"/><circle cx="464.7" cy="174.9" r="3.00"/><circle cx="465.1" cy="173.6" r="3.00"/><circle cx="465.3" cy="172.4" r="3.00"/><circle cx="465.1" cy="171.1" r="3.00"/><circle cx="464.8" cy="169.8" r="3.00"/><circle cx="464.7" cy="168.5" r="3.00"/><circle cx="464.7" cy="167.2" r="3.00"/><circle cx="464.6" cy="165.9" r="3.00"/><circle cx="464.2" cy="164.7" r="3.00"/><circle cx="463.9" cy="163.4" r="3.00"/><circle cx="463.4" cy="162.2" r="3.00"/><circle cx="462.8" cy="161.1" r="3.00"/><circle cx="462.4" cy="159.8" r="3.00"/><circle cx="462.4" cy="158.6" r="3.00"/><circle cx="462.6" cy="157.3" r="3.00"/><circle cx="462.8" cy="156.0" r="3.00"/><circle cx="463.2" cy="154.7" r="3.00"/><circle cx="464.1" cy="153.8" r="3.00"/><circle cx="465.2" cy="153.2" r="3.00"/><circle cx="464.5" cy="152.7" r="3.00"/><circle cx="463.2" cy="152.4" r="3.00"/><circle cx="461.9" cy="152.2" r="3.00"/><circle cx="460.7" cy="151.9" r="3.00"/><circle cx="459.7" cy="151.0" r="3.00"/><circle cx="459.1" cy="149.9" r="3.00"/><circle cx="459.1" cy="148.6" r="3.00"/><circle cx="459.6" cy="147.4" r="3.00"/><circle cx="458.3" cy="147.2" r="3.00"/><circle cx="457.0" cy="146.9" r="3.00"/><circle cx="455.9" cy="146.3" r="3.00"/><circle cx="455.1" cy="145.3" r="3.00"/><circle cx="454.8" cy="144.0" r="3.00"/><circle cx="455.0" cy="142.7" r="3.00"/><circle cx="455.1" cy="141.4" r="3.00"/><circle cx="455.1" cy="140.1" r="3.00"/><circle cx="454.5" cy="139.0" r="3.00"/><circle cx="453.8" cy="139.6" r="3.00"/><circle cx="452.9" cy="140.6" r="3.00"/><circle cx="452.1" cy="141.6" r="3.00"/><circle cx="451.7" cy="142.8" r="3.00"/><circle cx="451.5" cy="144.1" r="3.00"/><circle cx="451.7" cy="145.4" r="3.00"/><circle cx="452.4" cy="146.3" r="3.00"/><circle cx="453.4" cy="147.2" r="3.00"/><circle cx="454.3" cy="148.1" r="3.00"/><circle cx="455.2" cy="149.0" r="3.00"/><circle cx="455.7" cy="150.2" r="3.00"/><circle cx="455.5" cy="151.5" r="3.00"/><circle cx="454.9" cy="152.6" r="3.00"/><circle cx="453.8" cy="153.4" r="3.00"/><circle cx="452.7" cy="153.9" r="3.00"/><circle cx="452.0" cy="155.0" r="3.00"/><circle cx="451.0" cy="155.8" r="3.00"/><circle cx="450.0" cy="156.6" r="3.00"/><circle cx="449.8" cy="157.3" r="3.00"/><circle cx="450.7" cy="158.1" r="3.00"/><circle cx="451.3" cy="159.3" r="3.00"/><circle cx="451.5" cy="160.6" r="3.00"/><circle cx="451.1" cy="161.8" r="3.00"/><circle cx="450.3" cy="162.8" r="3.00"/><circle cx="449.2" cy="163.5" r="3.00"/><circle cx="447.9" cy="163.7" r="3.00"/><circle cx="446.7" cy="163.4" r="3.00"/><circle cx="445.6" cy="162.7" r="3.00"/><circle cx="444.8" cy="161.7" r="3.00"/><circle cx="444.5" cy="160.4" r="3.00"/><circle cx="444.7" cy="159.2" r="3.00"/><circle cx="443.5" cy="159.7" r="3.00"/><circle cx="443.2" cy="160.9" r="3.00"/><circle cx="442.5" cy="162.0" r="3.00"/><circle cx="441.4" cy="162.7" r="3.00"/><circle cx="440.1" cy="163.0" r="3.00"/><circle cx="438.8" cy="162.8" r="3.00"/><circle cx="437.7" cy="162.1" r="3.00"/><circle cx="436.9" cy="161.1" r="3.00"/><circle cx="436.6" cy="159.8" r="3.00"/><circle cx="436.7" cy="158.5" r="3.00"/><circle cx="437.3" cy="157.4" r="3.00"/><circle cx="438.3" cy="156.5" r="3.00"/><circle cx="439.5" cy="156.1" r="3.00"/><circle cx="440.1" cy="155.2" r="3.00"/><circle cx="440.1" cy="154.0" r="3.00"/><circle cx="438.9" cy="154.1" r="3.00"/><circle cx="437.6" cy="154.6" r="3.00"/><circle cx="436.5" cy="155.2" r="3.00"/><circle cx="435.6" cy="156.0" r="3.00"/><circle cx="435.2" cy="157.3" r="3.00"/><circle cx="435.1" cy="158.5" r="3.00"/><circle cx="435.1" cy="159.8" r="3.00"/><circle cx="435.1" cy="161.1" r="3.00"/><circle cx="435.1" cy="162.4" r="3.00"/><circle cx="434.7" cy="163.7" r="3.00"/><circle cx="434.8" cy="164.9" r="3.00"/><circle cx="435.1" cy="166.1" r="3.00"/><circle cx="434.8" cy="167.4" r="3.00"/><circle cx="433.9" cy="168.4" r="3.00"/><circle cx="432.8" cy="169.0" r="3.00"/><circle cx="431.5" cy="169.2" r="3.00"/><circle cx="430.2" cy="169.5" r="3.00"/><circle cx="429.0" cy="169.4" r="3.00"/><circle cx="427.8" cy="168.8" r="3.00"/><circle cx="427.0" cy="167.8" r="3.00"/><circle cx="426.3" cy="166.7" r="3.00"/><circle cx="425.7" cy="165.6" r="3.00"/><circle cx="424.9" cy="164.8" r="3.00"/><circle cx="423.7" cy="164.5" r="3.00"/><circle cx="422.7" cy="163.7" r="3.00"/><circle cx="421.9" cy="162.7" r="3.00"/><circle cx="421.0" cy="161.7" r="3.00"/><circle cx="420.2" cy="160.7" r="3.00"/><circle cx="419.4" cy="159.7" r="3.00"/><circle cx="418.5" cy="158.7" r="3.00"/><circle cx="417.7" cy="158.0" r="3.00"/><circle cx="417.2" cy="159.2" r="3.00"/><circle cx="416.7" cy="160.4" r="3.00"/><circle cx="416.9" cy="161.7" r="3.00"/><circle cx="417.2" cy="162.9" r="3.00"/><circle cx="417.1" cy="164.2" r="3.00"/><circle cx="416.5" cy="165.4" r="3.00"/><circle cx="416.0" cy="166.6" r="3.00"/><circle cx="415.4" cy="167.7" r="3.00"/><circle cx="414.4" cy="168.6" r="3.00"/><circle cx="413.2" cy="169.0" r="3.00"/><circle cx="411.9" cy="169.0" r="3.00"/><circle cx="410.6" cy="168.9" r="3.00"/><circle cx="409.3" cy="168.8" r="3.00"/><circle cx="408.0" cy="168.6" r="3.00"/><circle cx="406.8" cy="168.3" r="3.00"/><circle cx="405.8" cy="167.4" r="3.00"/><circle cx="405.2" cy="166.3" r="3.00"/><circle cx="405.0" cy="165.0" r="3.00"/><circle cx="404.0" cy="164.2" r="3.00"/><circle cx="402.9" cy="163.6" r="3.00"/><circle cx="401.7" cy="163.1" r="3.00"/><circle cx="400.5" cy="162.5" r="3.00"/><circle cx="399.6" cy="161.6" r="3.00"/><circle cx="398.8" cy="160.5" r="3.00"/><circle cx="398.2" cy="159.4" r="3.00"/><circle cx="398.2" cy="158.1" r="3.00"/><circle cx="397.6" cy="159.0" r="3.00"/><circle cx="398.2" cy="160.2" r="3.00"/><circle cx="398.8" cy="161.3" r="3.00"/><circle cx="399.0" cy="162.6" r="3.00"/><circle cx="398.5" cy="163.8" r="3.00"/><circle cx="397.7" cy="164.8" r="3.00"/><circle cx="396.5" cy="165.4" r="3.00"/><circle cx="397.2" cy="166.2" r="3.00"/><circle cx="398.3" cy="166.9" r="3.00"/><circle cx="398.9" cy="168.1" r="3.00"/><circle cx="398.9" cy="169.4" r="3.00"/><circle cx="398.4" cy="170.6" r="3.00"/><circle cx="397.5" cy="171.5" r="3.00"/><circle cx="440.7" cy="176.1" r="3.00"/><circle cx="439.4" cy="175.8" r="3.00"/><circle cx="438.4" cy="175.0" r="3.00"/><circle cx="437.8" cy="173.8" r="3.00"/><circle cx="437.7" cy="172.5" r="3.00"/><circle cx="437.6" cy="171.2" r="3.00"/><circle cx="437.5" cy="169.9" r="3.00"/><circle cx="437.5" cy="168.6" r="3.00"/><circle cx="437.9" cy="167.4" r="3.00"/><circle cx="438.8" cy="166.4" r="3.00"/><circle cx="440.0" cy="165.9" r="3.00"/><circle cx="441.3" cy="165.9" r="3.00"/><circle cx="442.6" cy="166.2" r="3.00"/><circle cx="443.6" cy="167.0" r="3.00"/><circle cx="444.2" cy="168.2" r="3.00"/><circle cx="444.7" cy="167.4" r="3.00"/><circle cx="445.8" cy="166.6" r="3.00"/><circle cx="447.0" cy="166.3" r="3.00"/><circle cx="448.4" cy="166.4" r="3.00"/><circle cx="449.6" cy="166.8" r="3.00"/><circle cx="450.5" cy="167.7" r="3.00"/><circle cx="451.0" cy="168.9" r="3.00"/><circle cx="451.5" cy="170.2" r="3.00"/><circle cx="452.0" cy="171.4" r="3.00"/><circle cx="452.4" cy="172.6" r="3.00"/><circle cx="452.3" cy="173.9" r="3.00"/><circle cx="451.7" cy="175.1" r="3.00"/><circle cx="450.6" cy="175.8" r="3.00"/><circle cx="449.3" cy="176.1" r="3.00"/><circle cx="448.0" cy="176.1" r="3.00"/><circle cx="446.8" cy="175.6" r="3.00"/><circle cx="445.9" cy="174.6" r="3.00"/><circle cx="445.4" cy="173.4" r="3.00"/><circle cx="444.9" cy="172.2" r="3.00"/><circle cx="444.5" cy="170.9" r="3.00"/><circle cx="444.6" cy="172.2" r="3.00"/><circle cx="444.6" cy="173.5" r="3.00"/><circle cx="444.2" cy="174.7" r="3.00"/><circle cx="443.2" cy="175.6" r="3.00"/><circle cx="442.0" cy="176.1" r="3.00"/><circle cx="431.1" cy="180.5" r="3.00"/><circle cx="429.8" cy="180.2" r="3.00"/><circle cx="428.8" cy="179.3" r="3.00"/><circle cx="428.2" cy="178.1" r="3.00"/><circle cx="427.7" cy="176.9" r="3.00"/><circle cx="427.7" cy="175.5" r="3.00"/><circle cx="428.3" cy="174.3" r="3.00"/><circle cx="429.4" cy="173.5" r="3.00"/><circle cx="430.7" cy="173.2" r="3.00"/><circle cx="432.1" cy="173.2" r="3.00"/><circle cx="433.4" cy="173.3" r="3.00"/><circle cx="434.8" cy="173.4" r="3.00"/><circle cx="436.1" cy="173.6" r="3.00"/><circle cx="437.2" cy="174.5" r="3.00"/><circle cx="437.8" cy="175.6" r="3.00"/><circle cx="438.3" cy="176.9" r="3.00"/><circle cx="438.2" cy="178.3" r="3.00"/><circle cx="437.6" cy="179.5" r="3.00"/><circle cx="436.5" cy="180.3" r="3.00"/><circle cx="435.2" cy="180.5" r="3.00"/><circle cx="433.8" cy="180.5" r="3.00"/><circle cx="432.5" cy="180.5" r="3.00"/><circle cx="426.5" cy="187.4" r="3.00"/><circle cx="426.6" cy="188.7" r="3.00"/><circle cx="426.2" cy="190.0" r="3.00"/><circle cx="425.3" cy="190.9" r="3.00"/><circle cx="424.0" cy="191.3" r="3.00"/><circle cx="422.7" cy="191.4" r="3.00"/><circle cx="421.4" cy="191.5" r="3.00"/><circle cx="420.1" cy="191.5" r="3.00"/><circle cx="418.8" cy="191.5" r="3.00"/><circle cx="417.6" cy="191.0" r="3.00"/><circle cx="416.8" cy="190.0" r="3.00"/><circle cx="416.3" cy="188.7" r="3.00"/><circle cx="416.0" cy="187.5" r="3.00"/><circle cx="416.1" cy="186.2" r="3.00"/><circle cx="416.8" cy="185.1" r="3.00"/><circle cx="417.9" cy="184.3" r="3.00"/><circle cx="419.2" cy="184.1" r="3.00"/><circle cx="420.5" cy="184.1" r="3.00"/><circle cx="421.8" cy="184.0" r="3.00"/><circle cx="423.1" cy="184.0" r="3.00"/><circle cx="424.4" cy="184.2" r="3.00"/><circle cx="425.4" cy="185.0" r="3.00"/><circle cx="426.1" cy="186.2" r="3.00"/><circle cx="411.8" cy="183.9" r="3.00"/><circle cx="410.6" cy="183.6" r="3.00"/><circle cx="409.6" cy="182.7" r="3.00"/><circle cx="409.0" cy="181.6" r="3.00"/><circle cx="408.9" cy="180.3" r="3.00"/><circle cx="409.1" cy="179.0" r="3.00"/><circle cx="409.9" cy="177.9" r="3.00"/><circle cx="411.0" cy="177.3" r="3.00"/><circle cx="412.3" cy="177.1" r="3.00"/><circle cx="413.6" cy="177.2" r="3.00"/><circle cx="415.0" cy="177.2" r="3.00"/><circle cx="416.3" cy="177.2" r="3.00"/><circle cx="417.6" cy="177.2" r="3.00"/><circle cx="418.9" cy="177.3" r="3.00"/><circle cx="420.2" cy="177.3" r="3.00"/><circle cx="421.5" cy="177.4" r="3.00"/><circle cx="422.7" cy="178.0" r="3.00"/><circle cx="423.5" cy="179.0" r="3.00"/><circle cx="423.8" cy="180.3" r="3.00"/><circle cx="423.8" cy="181.6" r="3.00"/><circle cx="423.3" cy="182.8" r="3.00"/><circle cx="422.3" cy="183.7" r="3.00"/><circle cx="421.1" cy="184.1" r="3.00"/><circle cx="419.7" cy="184.0" r="3.00"/><circle cx="418.4" cy="184.0" r="3.00"/><circle cx="417.1" cy="184.0" r="3.00"/><circle cx="415.8" cy="184.0" r="3.00"/><circle cx="414.5" cy="183.9" r="3.00"/><circle cx="413.2" cy="183.9" r="3.00"/><circle cx="452.8" cy="140.9" r="3.00"/><circle cx="454.0" cy="142.9" r="3.00"/><circle cx="452.8" cy="145.0" r="3.00"/><circle cx="454.0" cy="147.1" r="3.00"/><circle cx="456.4" cy="147.1" r="3.00"/><circle cx="457.6" cy="149.2" r="3.00"/><circle cx="456.4" cy="151.2" r="3.00"/><circle cx="458.8" cy="151.2" r="3.00"/><circle cx="455.2" cy="153.3" r="3.00"/><circle cx="457.6" cy="153.3" r="3.00"/><circle cx="460.0" cy="153.3" r="3.00"/><circle cx="462.4" cy="153.3" r="3.00"/><circle cx="464.8" cy="153.3" r="3.00"/><circle cx="437.2" cy="155.4" r="3.00"/><circle cx="439.6" cy="155.4" r="3.00"/><circle cx="454.0" cy="155.4" r="3.00"/><circle cx="456.4" cy="155.4" r="3.00"/><circle cx="458.8" cy="155.4" r="3.00"/><circle cx="461.2" cy="155.4" r="3.00"/><circle cx="436.0" cy="157.5" r="3.00"/><circle cx="450.4" cy="157.5" r="3.00"/><circle cx="452.8" cy="157.5" r="3.00"/><circle cx="455.2" cy="157.5" r="3.00"/><circle cx="457.6" cy="157.5" r="3.00"/><circle cx="460.0" cy="157.5" r="3.00"/><circle cx="462.4" cy="157.5" r="3.00"/><circle cx="418.0" cy="159.6" r="3.00"/><circle cx="444.4" cy="159.6" r="3.00"/><circle cx="451.6" cy="159.6" r="3.00"/><circle cx="454.0" cy="159.6" r="3.00"/><circle cx="456.4" cy="159.6" r="3.00"/><circle cx="458.8" cy="159.6" r="3.00"/><circle cx="461.2" cy="159.6" r="3.00"/><circle cx="419.2" cy="161.6" r="3.00"/><circle cx="436.0" cy="161.6" r="3.00"/><circle cx="443.2" cy="161.6" r="3.00"/><circle cx="452.8" cy="161.6" r="3.00"/><circle cx="455.2" cy="161.6" r="3.00"/><circle cx="457.6" cy="161.6" r="3.00"/><circle cx="460.0" cy="161.6" r="3.00"/><circle cx="462.4" cy="161.6" r="3.00"/><circle cx="398.8" cy="163.7" r="3.00"/><circle cx="401.2" cy="163.7" r="3.00"/><circle cx="418.0" cy="163.7" r="3.00"/><circle cx="420.4" cy="163.7" r="3.00"/><circle cx="434.8" cy="163.7" r="3.00"/><circle cx="437.2" cy="163.7" r="3.00"/><circle cx="439.6" cy="163.7" r="3.00"/><circle cx="442.0" cy="163.7" r="3.00"/><circle cx="444.4" cy="163.7" r="3.00"/><circle cx="446.8" cy="163.7" r="3.00"/><circle cx="449.2" cy="163.7" r="3.00"/><circle cx="451.6" cy="163.7" r="3.00"/><circle cx="454.0" cy="163.7" r="3.00"/><circle cx="456.4" cy="163.7" r="3.00"/><circle cx="458.8" cy="163.7" r="3.00"/><circle cx="461.2" cy="163.7" r="3.00"/><circle cx="463.6" cy="163.7" r="3.00"/><circle cx="397.6" cy="165.8" r="3.00"/><circle cx="400.0" cy="165.8" r="3.00"/><circle cx="402.4" cy="165.8" r="3.00"/><circle cx="404.8" cy="165.8" r="3.00"/><circle cx="416.8" cy="165.8" r="3.00"/><circle cx="419.2" cy="165.8" r="3.00"/><circle cx="421.6" cy="165.8" r="3.00"/><circle cx="424.0" cy="165.8" r="3.00"/><circle cx="436.0" cy="165.8" r="3.00"/><circle cx="438.4" cy="165.8" r="3.00"/><circle cx="440.8" cy="165.8" r="3.00"/><circle cx="443.2" cy="165.8" r="3.00"/><circle cx="445.6" cy="165.8" r="3.00"/><circle cx="448.0" cy="165.8" r="3.00"/><circle cx="450.4" cy="165.8" r="3.00"/><circle cx="452.8" cy="165.8" r="3.00"/><circle cx="455.2" cy="165.8" r="3.00"/><circle cx="457.6" cy="165.8" r="3.00"/><circle cx="460.0" cy="165.8" r="3.00"/><circle cx="462.4" cy="165.8" r="3.00"/><circle cx="401.2" cy="167.9" r="3.00"/><circle cx="403.6" cy="167.9" r="3.00"/><circle cx="406.0" cy="167.9" r="3.00"/><circle cx="415.6" cy="167.9" r="3.00"/><circle cx="418.0" cy="167.9" r="3.00"/><circle cx="420.4" cy="167.9" r="3.00"/><circle cx="422.8" cy="167.9" r="3.00"/><circle cx="425.2" cy="167.9" r="3.00"/><circle cx="434.8" cy="167.9" r="3.00"/><circle cx="437.2" cy="167.9" r="3.00"/><circle cx="444.4" cy="167.9" r="3.00"/><circle cx="451.6" cy="167.9" r="3.00"/><circle cx="454.0" cy="167.9" r="3.00"/><circle cx="456.4" cy="167.9" r="3.00"/><circle cx="458.8" cy="167.9" r="3.00"/><circle cx="461.2" cy="167.9" r="3.00"/><circle cx="463.6" cy="167.9" r="3.00"/><circle cx="400.0" cy="169.9" r="3.00"/><circle cx="402.4" cy="169.9" r="3.00"/><circle cx="404.8" cy="169.9" r="3.00"/><circle cx="407.2" cy="169.9" r="3.00"/><circle cx="409.6" cy="169.9" r="3.00"/><circle cx="412.0" cy="169.9" r="3.00"/><circle cx="414.4" cy="169.9" r="3.00"/><circle cx="416.8" cy="169.9" r="3.00"/><circle cx="419.2" cy="169.9" r="3.00"/><circle cx="421.6" cy="169.9" r="3.00"/><circle cx="424.0" cy="169.9" r="3.00"/><circle cx="426.4" cy="169.9" r="3.00"/><circle cx="428.8" cy="169.9" r="3.00"/><circle cx="431.2" cy="169.9" r="3.00"/><circle cx="433.6" cy="169.9" r="3.00"/><circle cx="436.0" cy="169.9" r="3.00"/><circle cx="452.8" cy="169.9" r="3.00"/><circle cx="455.2" cy="169.9" r="3.00"/><circle cx="457.6" cy="169.9" r="3.00"/><circle cx="460.0" cy="169.9" r="3.00"/><circle cx="462.4" cy="169.9" r="3.00"/><circle cx="464.8" cy="169.9" r="3.00"/><circle cx="398.8" cy="172.0" r="3.00"/><circle cx="401.2" cy="172.0" r="3.00"/><circle cx="418.0" cy="172.0" r="3.00"/><circle cx="420.4" cy="172.0" r="3.00"/><circle cx="422.8" cy="172.0" r="3.00"/><circle cx="425.2" cy="172.0" r="3.00"/><circle cx="427.6" cy="172.0" r="3.00"/><circle cx="430.0" cy="172.0" r="3.00"/><circle cx="432.4" cy="172.0" r="3.00"/><circle cx="434.8" cy="172.0" r="3.00"/><circle cx="437.2" cy="172.0" r="3.00"/><circle cx="454.0" cy="172.0" r="3.00"/><circle cx="456.4" cy="172.0" r="3.00"/><circle cx="458.8" cy="172.0" r="3.00"/><circle cx="461.2" cy="172.0" r="3.00"/><circle cx="463.6" cy="172.0" r="3.00"/><circle cx="419.2" cy="174.1" r="3.00"/><circle cx="421.6" cy="174.1" r="3.00"/><circle cx="424.0" cy="174.1" r="3.00"/><circle cx="426.4" cy="174.1" r="3.00"/><circle cx="445.6" cy="174.1" r="3.00"/><circle cx="452.8" cy="174.1" r="3.00"/><circle cx="455.2" cy="174.1" r="3.00"/><circle cx="457.6" cy="174.1" r="3.00"/><circle cx="460.0" cy="174.1" r="3.00"/><circle cx="462.4" cy="174.1" r="3.00"/><circle cx="464.8" cy="174.1" r="3.00"/><circle cx="410.8" cy="176.2" r="3.00"/><circle cx="418.0" cy="176.2" r="3.00"/><circle cx="420.4" cy="176.2" r="3.00"/><circle cx="422.8" cy="176.2" r="3.00"/><circle cx="425.2" cy="176.2" r="3.00"/><circle cx="427.6" cy="176.2" r="3.00"/><circle cx="439.6" cy="176.2" r="3.00"/><circle cx="442.0" cy="176.2" r="3.00"/><circle cx="444.4" cy="176.2" r="3.00"/><circle cx="446.8" cy="176.2" r="3.00"/><circle cx="449.2" cy="176.2" r="3.00"/><circle cx="451.6" cy="176.2" r="3.00"/><circle cx="461.2" cy="176.2" r="3.00"/><circle cx="463.6" cy="176.2" r="3.00"/><circle cx="424.0" cy="178.3" r="3.00"/><circle cx="426.4" cy="178.3" r="3.00"/><circle cx="438.4" cy="178.3" r="3.00"/><circle cx="440.8" cy="178.3" r="3.00"/><circle cx="443.2" cy="178.3" r="3.00"/><circle cx="445.6" cy="178.3" r="3.00"/><circle cx="448.0" cy="178.3" r="3.00"/><circle cx="450.4" cy="178.3" r="3.00"/><circle cx="462.4" cy="178.3" r="3.00"/><circle cx="403.6" cy="180.3" r="3.00"/><circle cx="406.0" cy="180.3" r="3.00"/><circle cx="408.4" cy="180.3" r="3.00"/><circle cx="425.2" cy="180.3" r="3.00"/><circle cx="427.6" cy="180.3" r="3.00"/><circle cx="430.0" cy="180.3" r="3.00"/><circle cx="437.2" cy="180.3" r="3.00"/><circle cx="439.6" cy="180.3" r="3.00"/><circle cx="442.0" cy="180.3" r="3.00"/><circle cx="444.4" cy="180.3" r="3.00"/><circle cx="446.8" cy="180.3" r="3.00"/><circle cx="449.2" cy="180.3" r="3.00"/><circle cx="461.2" cy="180.3" r="3.00"/><circle cx="402.4" cy="182.4" r="3.00"/><circle cx="404.8" cy="182.4" r="3.00"/><circle cx="407.2" cy="182.4" r="3.00"/><circle cx="424.0" cy="182.4" r="3.00"/><circle cx="426.4" cy="182.4" r="3.00"/><circle cx="428.8" cy="182.4" r="3.00"/><circle cx="431.2" cy="182.4" r="3.00"/><circle cx="433.6" cy="182.4" r="3.00"/><circle cx="436.0" cy="182.4" r="3.00"/><circle cx="438.4" cy="182.4" r="3.00"/><circle cx="440.8" cy="182.4" r="3.00"/><circle cx="443.2" cy="182.4" r="3.00"/><circle cx="445.6" cy="182.4" r="3.00"/><circle cx="448.0" cy="182.4" r="3.00"/><circle cx="403.6" cy="184.5" r="3.00"/><circle cx="406.0" cy="184.5" r="3.00"/><circle cx="408.4" cy="184.5" r="3.00"/><circle cx="410.8" cy="184.5" r="3.00"/><circle cx="413.2" cy="184.5" r="3.00"/><circle cx="415.6" cy="184.5" r="3.00"/><circle cx="425.2" cy="184.5" r="3.00"/><circle cx="427.6" cy="184.5" r="3.00"/><circle cx="430.0" cy="184.5" r="3.00"/><circle cx="432.4" cy="184.5" r="3.00"/><circle cx="434.8" cy="184.5" r="3.00"/><circle cx="437.2" cy="184.5" r="3.00"/><circle cx="439.6" cy="184.5" r="3.00"/><circle cx="442.0" cy="184.5" r="3.00"/><circle cx="444.4" cy="184.5" r="3.00"/><circle cx="446.8" cy="184.5" r="3.00"/><circle cx="402.4" cy="186.6" r="3.00"/><circle cx="404.8" cy="186.6" r="3.00"/><circle cx="407.2" cy="186.6" r="3.00"/><circle cx="409.6" cy="186.6" r="3.00"/><circle cx="412.0" cy="186.6" r="3.00"/><circle cx="414.4" cy="186.6" r="3.00"/><circle cx="426.4" cy="186.6" r="3.00"/><circle cx="428.8" cy="186.6" r="3.00"/><circle cx="431.2" cy="186.6" r="3.00"/><circle cx="433.6" cy="186.6" r="3.00"/><circle cx="436.0" cy="186.6" r="3.00"/><circle cx="438.4" cy="186.6" r="3.00"/><circle cx="440.8" cy="186.6" r="3.00"/><circle cx="443.2" cy="186.6" r="3.00"/><circle cx="401.2" cy="188.7" r="3.00"/><circle cx="403.6" cy="188.7" r="3.00"/><circle cx="406.0" cy="188.7" r="3.00"/><circle cx="408.4" cy="188.7" r="3.00"/><circle cx="410.8" cy="188.7" r="3.00"/><circle cx="413.2" cy="188.7" r="3.00"/><circle cx="415.6" cy="188.7" r="3.00"/><circle cx="427.6" cy="188.7" r="3.00"/><circle cx="430.0" cy="188.7" r="3.00"/><circle cx="432.4" cy="188.7" r="3.00"/><circle cx="434.8" cy="188.7" r="3.00"/><circle cx="437.2" cy="188.7" r="3.00"/><circle cx="439.6" cy="188.7" r="3.00"/><circle cx="442.0" cy="188.7" r="3.00"/><circle cx="444.4" cy="188.7" r="3.00"/><circle cx="402.4" cy="190.7" r="3.00"/><circle cx="404.8" cy="190.7" r="3.00"/><circle cx="407.2" cy="190.7" r="3.00"/><circle cx="409.6" cy="190.7" r="3.00"/><circle cx="412.0" cy="190.7" r="3.00"/><circle cx="414.4" cy="190.7" r="3.00"/><circle cx="416.8" cy="190.7" r="3.00"/><circle cx="426.4" cy="190.7" r="3.00"/><circle cx="428.8" cy="190.7" r="3.00"/><circle cx="431.2" cy="190.7" r="3.00"/><circle cx="433.6" cy="190.7" r="3.00"/><circle cx="403.6" cy="192.8" r="3.00"/><circle cx="406.0" cy="192.8" r="3.00"/><circle cx="408.4" cy="192.8" r="3.00"/><circle cx="410.8" cy="192.8" r="3.00"/><circle cx="420.4" cy="192.8" r="3.00"/><circle cx="422.8" cy="192.8" r="3.00"/><circle cx="425.2" cy="192.8" r="3.00"/><circle cx="427.6" cy="192.8" r="3.00"/><circle cx="402.4" cy="194.9" r="3.00"/><circle cx="404.8" cy="194.9" r="3.00"/><circle cx="407.2" cy="194.9" r="3.00"/><circle cx="409.6" cy="194.9" r="3.00"/><circle cx="419.2" cy="194.9" r="3.00"/><circle cx="421.6" cy="194.9" r="3.00"/><circle cx="424.0" cy="194.9" r="3.00"/><circle cx="426.4" cy="194.9" r="3.00"/><circle cx="403.6" cy="197.0" r="3.00"/><circle cx="406.0" cy="197.0" r="3.00"/><circle cx="408.4" cy="197.0" r="3.00"/><circle cx="420.4" cy="197.0" r="3.00"/><circle cx="422.8" cy="197.0" r="3.00"/><circle cx="425.2" cy="197.0" r="3.00"/><circle cx="427.6" cy="197.0" r="3.00"/><circle cx="404.8" cy="199.0" r="3.00"/><circle cx="426.4" cy="199.0" r="3.00"/><circle cx="463.5" cy="142.7" r="3.00"/><circle cx="405.1" cy="205.7" r="3.00"/><circle cx="404.1" cy="206.7" r="3.00"/><circle cx="404.2" cy="207.9" r="3.00"/><circle cx="405.5" cy="208.3" r="3.00"/><circle cx="406.7" cy="207.7" r="3.00"/><circle cx="407.8" cy="206.9" r="3.00"/><circle cx="409.0" cy="206.1" r="3.00"/><circle cx="409.3" cy="205.8" r="3.00"/><circle cx="407.9" cy="205.8" r="3.00"/><circle cx="406.5" cy="205.8" r="3.00"/><circle cx="405.0" cy="207.8" r="3.00"/><circle cx="447.2" cy="195.7" r="3.00"/><circle cx="460.0" cy="183.2" r="3.00"/><circle cx="607.5" cy="120.4" r="3.00"/><circle cx="607.5" cy="135.2" r="3.00"/><circle cx="589.4" cy="143.4" r="3.00"/><circle cx="586.4" cy="152.5" r="3.00"/><circle cx="601.4" cy="201.5" r="3.00"/><circle cx="601.4" cy="210.4" r="3.00"/><circle cx="583.4" cy="211.4" r="3.00"/><circle cx="552.4" cy="147.4" r="3.00"/><circle cx="550.5" cy="149.5" r="3.00"/><circle cx="563.4" cy="166.4" r="3.00"/><circle cx="590.6" cy="158.9" r="3.00"/><circle cx="604.7" cy="141.5" r="3.00"/><circle cx="608.9" cy="142.5" r="3.00"/><circle cx="594.4" cy="193.4" r="3.00"/><circle cx="612.4" cy="181.2" r="3.00"/><circle cx="565.3" cy="206.2" r="3.00"/><circle cx="557.3" cy="205.3" r="3.00"/><circle cx="576.1" cy="204.3" r="3.00"/><circle cx="583.1" cy="204.3" r="3.00"/><circle cx="549.6" cy="170.9" r="3.00"/><circle cx="549.9" cy="172.1" r="3.00"/><circle cx="550.3" cy="173.4" r="3.00"/><circle cx="550.5" cy="174.7" r="3.00"/><circle cx="550.1" cy="175.9" r="3.00"/><circle cx="550.0" cy="177.1" r="3.00"/><circle cx="550.8" cy="178.1" r="3.00"/><circle cx="551.7" cy="179.0" r="3.00"/><circle cx="552.3" cy="180.2" r="3.00"/><circle cx="552.3" cy="181.5" r="3.00"/><circle cx="551.9" cy="182.7" r="3.00"/><circle cx="551.6" cy="183.9" r="3.00"/><circle cx="552.2" cy="185.1" r="3.00"/><circle cx="552.9" cy="186.2" r="3.00"/><circle cx="553.8" cy="187.1" r="3.00"/><circle cx="554.7" cy="188.1" r="3.00"/><circle cx="555.4" cy="189.1" r="3.00"/><circle cx="555.7" cy="190.4" r="3.00"/><circle cx="556.0" cy="191.7" r="3.00"/><circle cx="556.5" cy="192.9" r="3.00"/><circle cx="557.6" cy="193.6" r="3.00"/><circle cx="558.6" cy="194.3" r="3.00"/><circle cx="559.7" cy="195.1" r="3.00"/><circle cx="560.7" cy="195.9" r="3.00"/><circle cx="561.3" cy="197.1" r="3.00"/><circle cx="561.9" cy="198.3" r="3.00"/><circle cx="562.2" cy="199.5" r="3.00"/><circle cx="562.0" cy="200.8" r="3.00"/><circle cx="561.3" cy="201.8" r="3.00"/><circle cx="560.2" cy="202.6" r="3.00"/><circle cx="559.2" cy="203.4" r="3.00"/><circle cx="558.0" cy="204.0" r="3.00"/><circle cx="556.9" cy="204.5" r="3.00"/><circle cx="557.6" cy="205.5" r="3.00"/><circle cx="558.6" cy="206.1" r="3.00"/><circle cx="559.5" cy="205.1" r="3.00"/><circle cx="560.4" cy="204.2" r="3.00"/><circle cx="561.6" cy="203.7" r="3.00"/><circle cx="562.5" cy="203.5" r="3.00"/><circle cx="562.3" cy="202.2" r="3.00"/><circle cx="562.7" cy="201.0" r="3.00"/><circle cx="563.6" cy="200.0" r="3.00"/><circle cx="564.5" cy="199.1" r="3.00"/><circle cx="564.8" cy="197.8" r="3.00"/><circle cx="565.2" cy="196.6" r="3.00"/><circle cx="565.7" cy="195.4" r="3.00"/><circle cx="566.4" cy="194.3" r="3.00"/><circle cx="567.5" cy="193.6" r="3.00"/><circle cx="568.8" cy="193.4" r="3.00"/><circle cx="570.0" cy="193.8" r="3.00"/><circle cx="571.0" cy="194.6" r="3.00"/><circle cx="571.5" cy="195.8" r="3.00"/><circle cx="571.6" cy="197.1" r="3.00"/><circle cx="572.3" cy="197.3" r="3.00"/><circle cx="573.5" cy="197.1" r="3.00"/><circle cx="574.8" cy="197.4" r="3.00"/><circle cx="576.1" cy="197.7" r="3.00"/><circle cx="577.2" cy="198.4" r="3.00"/><circle cx="577.9" cy="199.5" r="3.00"/><circle cx="578.1" cy="200.7" r="3.00"/><circle cx="577.8" cy="202.0" r="3.00"/><circle cx="577.1" cy="203.1" r="3.00"/><circle cx="576.5" cy="204.3" r="3.00"/><circle cx="577.2" cy="203.7" r="3.00"/><circle cx="578.1" cy="202.7" r="3.00"/><circle cx="579.2" cy="202.0" r="3.00"/><circle cx="580.5" cy="201.8" r="3.00"/><circle cx="581.7" cy="202.2" r="3.00"/><circle cx="582.7" cy="203.0" r="3.00"/><circle cx="583.2" cy="203.6" r="3.00"/><circle cx="582.9" cy="202.3" r="3.00"/><circle cx="582.5" cy="201.1" r="3.00"/><circle cx="582.1" cy="199.9" r="3.00"/><circle cx="582.1" cy="198.6" r="3.00"/><circle cx="582.6" cy="197.4" r="3.00"/><circle cx="582.6" cy="196.1" r="3.00"/><circle cx="582.2" cy="194.9" r="3.00"/><circle cx="581.7" cy="193.7" r="3.00"/><circle cx="581.5" cy="192.4" r="3.00"/><circle cx="581.9" cy="191.2" r="3.00"/><circle cx="582.8" cy="190.2" r="3.00"/><circle cx="583.9" cy="189.6" r="3.00"/><circle cx="585.1" cy="189.2" r="3.00"/><circle cx="586.4" cy="188.7" r="3.00"/><circle cx="587.6" cy="188.3" r="3.00"/><circle cx="588.8" cy="187.9" r="3.00"/><circle cx="590.1" cy="187.5" r="3.00"/><circle cx="591.3" cy="187.0" r="3.00"/><circle cx="592.6" cy="186.8" r="3.00"/><circle cx="593.8" cy="187.1" r="3.00"/><circle cx="594.9" cy="187.9" r="3.00"/><circle cx="595.8" cy="188.8" r="3.00"/><circle cx="596.4" cy="190.0" r="3.00"/><circle cx="596.4" cy="191.3" r="3.00"/><circle cx="596.6" cy="191.7" r="3.00"/><circle cx="597.8" cy="191.3" r="3.00"/><circle cx="599.1" cy="191.0" r="3.00"/><circle cx="600.2" cy="190.7" r="3.00"/><circle cx="600.3" cy="189.4" r="3.00"/><circle cx="600.8" cy="188.2" r="3.00"/><circle cx="601.7" cy="187.2" r="3.00"/><circle cx="602.6" cy="186.3" r="3.00"/><circle cx="603.7" cy="185.6" r="3.00"/><circle cx="604.9" cy="185.3" r="3.00"/><circle cx="604.7" cy="184.4" r="3.00"/><circle cx="604.0" cy="183.3" r="3.00"/><circle cx="603.6" cy="182.1" r="3.00"/><circle cx="603.7" cy="180.8" r="3.00"/><circle cx="604.0" cy="179.5" r="3.00"/><circle cx="604.3" cy="178.3" r="3.00"/><circle cx="605.1" cy="177.2" r="3.00"/><circle cx="606.2" cy="176.5" r="3.00"/><circle cx="607.3" cy="175.8" r="3.00"/><circle cx="608.5" cy="175.6" r="3.00"/><circle cx="609.8" cy="175.9" r="3.00"/><circle cx="610.8" cy="176.7" r="3.00"/><circle cx="611.4" cy="177.9" r="3.00"/><circle cx="611.9" cy="179.1" r="3.00"/><circle cx="612.3" cy="180.3" r="3.00"/><circle cx="612.3" cy="179.7" r="3.00"/><circle cx="612.0" cy="178.5" r="3.00"/><circle cx="612.2" cy="177.2" r="3.00"/><circle cx="612.8" cy="176.0" r="3.00"/><circle cx="613.9" cy="175.3" r="3.00"/><circle cx="615.1" cy="175.0" r="3.00"/><circle cx="616.4" cy="174.6" r="3.00"/><circle cx="617.6" cy="174.1" r="3.00"/><circle cx="618.8" cy="173.6" r="3.00"/><circle cx="619.4" cy="172.6" r="3.00"/><circle cx="619.4" cy="171.3" r="3.00"/><circle cx="619.4" cy="170.0" r="3.00"/><circle cx="619.1" cy="168.7" r="3.00"/><circle cx="618.8" cy="167.5" r="3.00"/><circle cx="618.5" cy="166.2" r="3.00"/><circle cx="618.2" cy="164.9" r="3.00"/><circle cx="618.0" cy="163.7" r="3.00"/><circle cx="617.8" cy="162.4" r="3.00"/><circle cx="618.1" cy="161.1" r="3.00"/><circle cx="618.3" cy="159.8" r="3.00"/><circle cx="618.2" cy="158.5" r="3.00"/><circle cx="617.9" cy="157.3" r="3.00"/><circle cx="617.3" cy="156.1" r="3.00"/><circle cx="616.8" cy="154.9" r="3.00"/><circle cx="616.6" cy="153.6" r="3.00"/><circle cx="616.3" cy="152.3" r="3.00"/><circle cx="616.2" cy="151.0" r="3.00"/><circle cx="616.4" cy="149.7" r="3.00"/><circle cx="615.4" cy="149.8" r="3.00"/><circle cx="614.2" cy="150.2" r="3.00"/><circle cx="612.9" cy="150.0" r="3.00"/><circle cx="611.6" cy="149.7" r="3.00"/><circle cx="610.4" cy="149.4" r="3.00"/><circle cx="609.4" cy="148.5" r="3.00"/><circle cx="608.7" cy="147.4" r="3.00"/><circle cx="608.2" cy="147.8" r="3.00"/><circle cx="607.3" cy="148.7" r="3.00"/><circle cx="606.1" cy="149.3" r="3.00"/><circle cx="605.7" cy="150.5" r="3.00"/><circle cx="605.9" cy="151.7" r="3.00"/><circle cx="606.9" cy="152.4" r="3.00"/><circle cx="608.1" cy="152.9" r="3.00"/><circle cx="609.0" cy="153.8" r="3.00"/><circle cx="609.6" cy="155.0" r="3.00"/><circle cx="609.6" cy="156.3" r="3.00"/><circle cx="609.2" cy="157.5" r="3.00"/><circle cx="608.4" cy="158.6" r="3.00"/><circle cx="607.3" cy="159.2" r="3.00"/><circle cx="606.1" cy="159.6" r="3.00"/><circle cx="605.1" cy="160.3" r="3.00"/><circle cx="605.6" cy="161.5" r="3.00"/><circle cx="606.3" cy="162.5" r="3.00"/><circle cx="606.7" cy="163.8" r="3.00"/><circle cx="606.6" cy="165.0" r="3.00"/><circle cx="605.9" cy="166.2" r="3.00"/><circle cx="605.1" cy="167.2" r="3.00"/><circle cx="604.3" cy="168.2" r="3.00"/><circle cx="603.2" cy="168.8" r="3.00"/><circle cx="603.0" cy="169.2" r="3.00"/><circle cx="604.2" cy="169.6" r="3.00"/><circle cx="605.1" cy="170.5" r="3.00"/><circle cx="605.6" cy="171.7" r="3.00"/><circle cx="605.7" cy="173.0" r="3.00"/><circle cx="605.2" cy="174.2" r="3.00"/><circle cx="604.3" cy="175.2" r="3.00"/><circle cx="603.2" cy="175.7" r="3.00"/><circle cx="601.9" cy="175.8" r="3.00"/><circle cx="600.6" cy="175.4" r="3.00"/><circle cx="599.7" cy="174.5" r="3.00"/><circle cx="599.0" cy="173.9" r="3.00"/><circle cx="598.1" cy="174.8" r="3.00"/><circle cx="596.9" cy="175.3" r="3.00"/><circle cx="595.6" cy="175.3" r="3.00"/><circle cx="594.4" cy="174.8" r="3.00"/><circle cx="593.5" cy="173.9" r="3.00"/><circle cx="592.8" cy="174.7" r="3.00"/><circle cx="591.8" cy="175.5" r="3.00"/><circle cx="590.6" cy="175.9" r="3.00"/><circle cx="589.3" cy="175.8" r="3.00"/><circle cx="588.1" cy="175.3" r="3.00"/><circle cx="587.2" cy="174.3" r="3.00"/><circle cx="586.7" cy="173.1" r="3.00"/><circle cx="586.8" cy="171.8" r="3.00"/><circle cx="587.2" cy="170.6" r="3.00"/><circle cx="588.1" cy="169.7" r="3.00"/><circle cx="589.3" cy="169.1" r="3.00"/><circle cx="590.6" cy="169.0" r="3.00"/><circle cx="591.8" cy="169.4" r="3.00"/><circle cx="592.8" cy="170.3" r="3.00"/><circle cx="593.5" cy="170.0" r="3.00"/><circle cx="594.5" cy="169.1" r="3.00"/><circle cx="594.5" cy="168.4" r="3.00"/><circle cx="593.7" cy="167.4" r="3.00"/><circle cx="592.8" cy="166.6" r="3.00"/><circle cx="591.6" cy="166.0" r="3.00"/><circle cx="590.5" cy="165.3" r="3.00"/><circle cx="589.7" cy="164.3" r="3.00"/><circle cx="588.8" cy="164.7" r="3.00"/><circle cx="587.6" cy="165.1" r="3.00"/><circle cx="586.5" cy="165.2" r="3.00"/><circle cx="587.3" cy="166.2" r="3.00"/><circle cx="587.9" cy="167.4" r="3.00"/><circle cx="588.0" cy="168.7" r="3.00"/><circle cx="587.5" cy="169.9" r="3.00"/><circle cx="586.8" cy="171.0" r="3.00"/><circle cx="586.2" cy="172.1" r="3.00"/><circle cx="585.3" cy="173.1" r="3.00"/><circle cx="584.2" cy="173.7" r="3.00"/><circle cx="583.1" cy="174.4" r="3.00"/><circle cx="581.9" cy="174.9" r="3.00"/><circle cx="580.6" cy="175.0" r="3.00"/><circle cx="579.3" cy="175.0" r="3.00"/><circle cx="578.0" cy="175.0" r="3.00"/><circle cx="576.7" cy="175.3" r="3.00"/><circle cx="575.5" cy="175.7" r="3.00"/><circle cx="574.2" cy="175.9" r="3.00"/><circle cx="572.9" cy="175.6" r="3.00"/><circle cx="571.7" cy="175.2" r="3.00"/><circle cx="570.5" cy="174.7" r="3.00"/><circle cx="569.5" cy="173.8" r="3.00"/><circle cx="569.0" cy="172.7" r="3.00"/><circle cx="568.9" cy="171.4" r="3.00"/><circle cx="569.5" cy="170.2" r="3.00"/><circle cx="570.2" cy="169.1" r="3.00"/><circle cx="571.1" cy="168.2" r="3.00"/><circle cx="572.2" cy="167.5" r="3.00"/><circle cx="573.1" cy="166.6" r="3.00"/><circle cx="573.2" cy="165.4" r="3.00"/><circle cx="572.9" cy="164.1" r="3.00"/><circle cx="572.4" cy="162.9" r="3.00"/><circle cx="572.2" cy="161.6" r="3.00"/><circle cx="572.4" cy="160.4" r="3.00"/><circle cx="572.3" cy="159.7" r="3.00"/><circle cx="571.0" cy="160.0" r="3.00"/><circle cx="569.7" cy="159.8" r="3.00"/><circle cx="568.6" cy="159.6" r="3.00"/><circle cx="569.1" cy="160.8" r="3.00"/><circle cx="569.6" cy="162.0" r="3.00"/><circle cx="570.1" cy="163.2" r="3.00"/><circle cx="570.1" cy="164.5" r="3.00"/><circle cx="569.7" cy="165.7" r="3.00"/><circle cx="569.2" cy="166.9" r="3.00"/><circle cx="568.4" cy="168.0" r="3.00"/><circle cx="567.3" cy="168.5" r="3.00"/><circle cx="566.0" cy="168.6" r="3.00"/><circle cx="564.8" cy="168.1" r="3.00"/><circle cx="563.9" cy="167.1" r="3.00"/><circle cx="563.8" cy="167.7" r="3.00"/><circle cx="564.2" cy="168.9" r="3.00"/><circle cx="564.5" cy="170.1" r="3.00"/><circle cx="564.7" cy="171.4" r="3.00"/><circle cx="564.4" cy="172.7" r="3.00"/><circle cx="563.5" cy="173.7" r="3.00"/><circle cx="562.4" cy="174.2" r="3.00"/><circle cx="561.1" cy="174.2" r="3.00"/><circle cx="559.9" cy="173.7" r="3.00"/><circle cx="558.7" cy="173.2" r="3.00"/><circle cx="557.7" cy="172.3" r="3.00"/><circle cx="557.1" cy="171.2" r="3.00"/><circle cx="556.2" cy="170.2" r="3.00"/><circle cx="555.2" cy="169.4" r="3.00"/><circle cx="554.5" cy="168.3" r="3.00"/><circle cx="554.2" cy="167.1" r="3.00"/><circle cx="554.0" cy="165.8" r="3.00"/><circle cx="553.9" cy="164.5" r="3.00"/><circle cx="554.4" cy="163.3" r="3.00"/><circle cx="555.1" cy="162.2" r="3.00"/><circle cx="554.7" cy="161.0" r="3.00"/><circle cx="554.1" cy="159.9" r="3.00"/><circle cx="553.9" cy="158.6" r="3.00"/><circle cx="554.3" cy="157.4" r="3.00"/><circle cx="554.2" cy="156.3" r="3.00"/><circle cx="553.1" cy="156.5" r="3.00"/><circle cx="553.3" cy="157.8" r="3.00"/><circle cx="553.1" cy="159.1" r="3.00"/><circle cx="552.3" cy="160.2" r="3.00"/><circle cx="551.3" cy="160.9" r="3.00"/><circle cx="550.8" cy="162.0" r="3.00"/><circle cx="551.2" cy="163.2" r="3.00"/><circle cx="551.7" cy="164.4" r="3.00"/><circle cx="552.1" cy="165.7" r="3.00"/><circle cx="552.3" cy="166.9" r="3.00"/><circle cx="552.2" cy="168.2" r="3.00"/><circle cx="551.6" cy="169.3" r="3.00"/><circle cx="550.5" cy="170.1" r="3.00"/><circle cx="586.7" cy="185.7" r="3.00"/><circle cx="585.8" cy="186.6" r="3.00"/><circle cx="584.5" cy="187.2" r="3.00"/><circle cx="583.2" cy="187.4" r="3.00"/><circle cx="581.9" cy="187.1" r="3.00"/><circle cx="580.7" cy="186.5" r="3.00"/><circle cx="579.8" cy="185.5" r="3.00"/><circle cx="579.2" cy="184.3" r="3.00"/><circle cx="579.0" cy="183.0" r="3.00"/><circle cx="579.2" cy="181.6" r="3.00"/><circle cx="579.9" cy="180.4" r="3.00"/><circle cx="580.9" cy="179.5" r="3.00"/><circle cx="582.1" cy="178.9" r="3.00"/><circle cx="583.4" cy="178.8" r="3.00"/><circle cx="584.7" cy="179.0" r="3.00"/><circle cx="585.9" cy="179.6" r="3.00"/><circle cx="586.9" cy="180.6" r="3.00"/><circle cx="587.4" cy="181.8" r="3.00"/><circle cx="587.6" cy="183.2" r="3.00"/><circle cx="587.4" cy="184.5" r="3.00"/><circle cx="565.7" cy="182.8" r="3.00"/><circle cx="564.4" cy="183.0" r="3.00"/><circle cx="563.1" cy="182.7" r="3.00"/><circle cx="561.9" cy="182.0" r="3.00"/><circle cx="561.0" cy="181.1" r="3.00"/><circle cx="560.5" cy="179.9" r="3.00"/><circle cx="560.3" cy="178.6" r="3.00"/><circle cx="560.6" cy="177.3" r="3.00"/><circle cx="561.2" cy="176.1" r="3.00"/><circle cx="562.2" cy="175.3" r="3.00"/><circle cx="563.4" cy="174.7" r="3.00"/><circle cx="564.7" cy="174.5" r="3.00"/><circle cx="566.0" cy="174.8" r="3.00"/><circle cx="567.1" cy="175.4" r="3.00"/><circle cx="568.0" cy="176.4" r="3.00"/><circle cx="568.6" cy="177.6" r="3.00"/><circle cx="568.8" cy="178.9" r="3.00"/><circle cx="568.5" cy="180.1" r="3.00"/><circle cx="569.4" cy="180.5" r="3.00"/><circle cx="570.7" cy="180.7" r="3.00"/><circle cx="572.0" cy="181.1" r="3.00"/><circle cx="573.1" cy="181.8" r="3.00"/><circle cx="574.2" cy="182.6" r="3.00"/><circle cx="575.2" cy="183.3" r="3.00"/><circle cx="576.0" cy="184.4" r="3.00"/><circle cx="576.3" cy="185.7" r="3.00"/><circle cx="576.0" cy="186.9" r="3.00"/><circle cx="575.1" cy="187.9" r="3.00"/><circle cx="574.1" cy="188.7" r="3.00"/><circle cx="572.9" cy="189.2" r="3.00"/><circle cx="571.6" cy="189.1" r="3.00"/><circle cx="570.4" cy="188.5" r="3.00"/><circle cx="569.3" cy="187.7" r="3.00"/><circle cx="568.3" cy="187.0" r="3.00"/><circle cx="567.2" cy="186.2" r="3.00"/><circle cx="566.2" cy="185.3" r="3.00"/><circle cx="565.7" cy="184.1" r="3.00"/><circle cx="558.6" cy="177.3" r="3.00"/><circle cx="557.8" cy="178.3" r="3.00"/><circle cx="556.6" cy="179.0" r="3.00"/><circle cx="555.3" cy="179.2" r="3.00"/><circle cx="554.0" cy="178.9" r="3.00"/><circle cx="552.9" cy="178.1" r="3.00"/><circle cx="552.2" cy="176.9" r="3.00"/><circle cx="552.0" cy="175.6" r="3.00"/><circle cx="552.3" cy="174.2" r="3.00"/><circle cx="553.2" cy="173.2" r="3.00"/><circle cx="554.3" cy="172.5" r="3.00"/><circle cx="555.7" cy="172.3" r="3.00"/><circle cx="557.0" cy="172.6" r="3.00"/><circle cx="558.1" cy="173.4" r="3.00"/><circle cx="558.7" cy="174.6" r="3.00"/><circle cx="558.9" cy="175.9" r="3.00"/><circle cx="608.4" cy="149.1" r="3.00"/><circle cx="607.2" cy="151.2" r="3.00"/><circle cx="609.6" cy="151.2" r="3.00"/><circle cx="612.0" cy="151.2" r="3.00"/><circle cx="614.4" cy="151.2" r="3.00"/><circle cx="610.8" cy="153.2" r="3.00"/><circle cx="613.2" cy="153.2" r="3.00"/><circle cx="615.6" cy="153.2" r="3.00"/><circle cx="612.0" cy="155.3" r="3.00"/><circle cx="614.4" cy="155.3" r="3.00"/><circle cx="616.8" cy="155.3" r="3.00"/><circle cx="610.8" cy="157.4" r="3.00"/><circle cx="613.2" cy="157.4" r="3.00"/><circle cx="615.6" cy="157.4" r="3.00"/><circle cx="568.8" cy="159.5" r="3.00"/><circle cx="607.2" cy="159.5" r="3.00"/><circle cx="609.6" cy="159.5" r="3.00"/><circle cx="612.0" cy="159.5" r="3.00"/><circle cx="614.4" cy="159.5" r="3.00"/><circle cx="616.8" cy="159.5" r="3.00"/><circle cx="550.8" cy="161.5" r="3.00"/><circle cx="553.2" cy="161.5" r="3.00"/><circle cx="570.0" cy="161.5" r="3.00"/><circle cx="606.0" cy="161.5" r="3.00"/><circle cx="608.4" cy="161.5" r="3.00"/><circle cx="610.8" cy="161.5" r="3.00"/><circle cx="613.2" cy="161.5" r="3.00"/><circle cx="615.6" cy="161.5" r="3.00"/><circle cx="618.0" cy="161.5" r="3.00"/><circle cx="552.0" cy="163.6" r="3.00"/><circle cx="571.2" cy="163.6" r="3.00"/><circle cx="607.2" cy="163.6" r="3.00"/><circle cx="609.6" cy="163.6" r="3.00"/><circle cx="612.0" cy="163.6" r="3.00"/><circle cx="614.4" cy="163.6" r="3.00"/><circle cx="616.8" cy="163.6" r="3.00"/><circle cx="553.2" cy="165.7" r="3.00"/><circle cx="570.0" cy="165.7" r="3.00"/><circle cx="572.4" cy="165.7" r="3.00"/><circle cx="589.2" cy="165.7" r="3.00"/><circle cx="608.4" cy="165.7" r="3.00"/><circle cx="610.8" cy="165.7" r="3.00"/><circle cx="613.2" cy="165.7" r="3.00"/><circle cx="615.6" cy="165.7" r="3.00"/><circle cx="618.0" cy="165.7" r="3.00"/><circle cx="554.4" cy="167.8" r="3.00"/><circle cx="564.0" cy="167.8" r="3.00"/><circle cx="568.8" cy="167.8" r="3.00"/><circle cx="571.2" cy="167.8" r="3.00"/><circle cx="588.0" cy="167.8" r="3.00"/><circle cx="590.4" cy="167.8" r="3.00"/><circle cx="592.8" cy="167.8" r="3.00"/><circle cx="604.8" cy="167.8" r="3.00"/><circle cx="607.2" cy="167.8" r="3.00"/><circle cx="609.6" cy="167.8" r="3.00"/><circle cx="612.0" cy="167.8" r="3.00"/><circle cx="614.4" cy="167.8" r="3.00"/><circle cx="616.8" cy="167.8" r="3.00"/><circle cx="553.2" cy="169.9" r="3.00"/><circle cx="555.6" cy="169.9" r="3.00"/><circle cx="565.2" cy="169.9" r="3.00"/><circle cx="567.6" cy="169.9" r="3.00"/><circle cx="606.0" cy="169.9" r="3.00"/><circle cx="608.4" cy="169.9" r="3.00"/><circle cx="610.8" cy="169.9" r="3.00"/><circle cx="613.2" cy="169.9" r="3.00"/><circle cx="615.6" cy="169.9" r="3.00"/><circle cx="618.0" cy="169.9" r="3.00"/><circle cx="552.0" cy="171.9" r="3.00"/><circle cx="554.4" cy="171.9" r="3.00"/><circle cx="556.8" cy="171.9" r="3.00"/><circle cx="566.4" cy="171.9" r="3.00"/><circle cx="568.8" cy="171.9" r="3.00"/><circle cx="607.2" cy="171.9" r="3.00"/><circle cx="609.6" cy="171.9" r="3.00"/><circle cx="612.0" cy="171.9" r="3.00"/><circle cx="614.4" cy="171.9" r="3.00"/><circle cx="616.8" cy="171.9" r="3.00"/><circle cx="619.2" cy="171.9" r="3.00"/><circle cx="550.8" cy="174.0" r="3.00"/><circle cx="560.4" cy="174.0" r="3.00"/><circle cx="565.2" cy="174.0" r="3.00"/><circle cx="567.6" cy="174.0" r="3.00"/><circle cx="584.4" cy="174.0" r="3.00"/><circle cx="586.8" cy="174.0" r="3.00"/><circle cx="606.0" cy="174.0" r="3.00"/><circle cx="608.4" cy="174.0" r="3.00"/><circle cx="610.8" cy="174.0" r="3.00"/><circle cx="613.2" cy="174.0" r="3.00"/><circle cx="615.6" cy="174.0" r="3.00"/><circle cx="552.0" cy="176.1" r="3.00"/><circle cx="559.2" cy="176.1" r="3.00"/><circle cx="568.8" cy="176.1" r="3.00"/><circle cx="571.2" cy="176.1" r="3.00"/><circle cx="573.6" cy="176.1" r="3.00"/><circle cx="576.0" cy="176.1" r="3.00"/><circle cx="578.4" cy="176.1" r="3.00"/><circle cx="580.8" cy="176.1" r="3.00"/><circle cx="583.2" cy="176.1" r="3.00"/><circle cx="585.6" cy="176.1" r="3.00"/><circle cx="588.0" cy="176.1" r="3.00"/><circle cx="590.4" cy="176.1" r="3.00"/><circle cx="592.8" cy="176.1" r="3.00"/><circle cx="595.2" cy="176.1" r="3.00"/><circle cx="597.6" cy="176.1" r="3.00"/><circle cx="600.0" cy="176.1" r="3.00"/><circle cx="602.4" cy="176.1" r="3.00"/><circle cx="604.8" cy="176.1" r="3.00"/><circle cx="612.0" cy="176.1" r="3.00"/><circle cx="558.0" cy="178.2" r="3.00"/><circle cx="560.4" cy="178.2" r="3.00"/><circle cx="570.0" cy="178.2" r="3.00"/><circle cx="572.4" cy="178.2" r="3.00"/><circle cx="574.8" cy="178.2" r="3.00"/><circle cx="577.2" cy="178.2" r="3.00"/><circle cx="579.6" cy="178.2" r="3.00"/><circle cx="582.0" cy="178.2" r="3.00"/><circle cx="584.4" cy="178.2" r="3.00"/><circle cx="586.8" cy="178.2" r="3.00"/><circle cx="589.2" cy="178.2" r="3.00"/><circle cx="591.6" cy="178.2" r="3.00"/><circle cx="594.0" cy="178.2" r="3.00"/><circle cx="596.4" cy="178.2" r="3.00"/><circle cx="598.8" cy="178.2" r="3.00"/><circle cx="601.2" cy="178.2" r="3.00"/><circle cx="603.6" cy="178.2" r="3.00"/><circle cx="554.4" cy="180.3" r="3.00"/><circle cx="556.8" cy="180.3" r="3.00"/><circle cx="559.2" cy="180.3" r="3.00"/><circle cx="568.8" cy="180.3" r="3.00"/><circle cx="571.2" cy="180.3" r="3.00"/><circle cx="573.6" cy="180.3" r="3.00"/><circle cx="576.0" cy="180.3" r="3.00"/><circle cx="578.4" cy="180.3" r="3.00"/><circle cx="588.0" cy="180.3" r="3.00"/><circle cx="590.4" cy="180.3" r="3.00"/><circle cx="592.8" cy="180.3" r="3.00"/><circle cx="595.2" cy="180.3" r="3.00"/><circle cx="597.6" cy="180.3" r="3.00"/><circle cx="600.0" cy="180.3" r="3.00"/><circle cx="602.4" cy="180.3" r="3.00"/><circle cx="553.2" cy="182.3" r="3.00"/><circle cx="555.6" cy="182.3" r="3.00"/><circle cx="558.0" cy="182.3" r="3.00"/><circle cx="560.4" cy="182.3" r="3.00"/><circle cx="574.8" cy="182.3" r="3.00"/><circle cx="577.2" cy="182.3" r="3.00"/><circle cx="589.2" cy="182.3" r="3.00"/><circle cx="591.6" cy="182.3" r="3.00"/><circle cx="594.0" cy="182.3" r="3.00"/><circle cx="596.4" cy="182.3" r="3.00"/><circle cx="598.8" cy="182.3" r="3.00"/><circle cx="601.2" cy="182.3" r="3.00"/><circle cx="603.6" cy="182.3" r="3.00"/><circle cx="552.0" cy="184.4" r="3.00"/><circle cx="554.4" cy="184.4" r="3.00"/><circle cx="556.8" cy="184.4" r="3.00"/><circle cx="559.2" cy="184.4" r="3.00"/><circle cx="561.6" cy="184.4" r="3.00"/><circle cx="564.0" cy="184.4" r="3.00"/><circle cx="578.4" cy="184.4" r="3.00"/><circle cx="588.0" cy="184.4" r="3.00"/><circle cx="590.4" cy="184.4" r="3.00"/><circle cx="592.8" cy="184.4" r="3.00"/><circle cx="595.2" cy="184.4" r="3.00"/><circle cx="597.6" cy="184.4" r="3.00"/><circle cx="600.0" cy="184.4" r="3.00"/><circle cx="602.4" cy="184.4" r="3.00"/><circle cx="553.2" cy="186.5" r="3.00"/><circle cx="555.6" cy="186.5" r="3.00"/><circle cx="558.0" cy="186.5" r="3.00"/><circle cx="560.4" cy="186.5" r="3.00"/><circle cx="562.8" cy="186.5" r="3.00"/><circle cx="565.2" cy="186.5" r="3.00"/><circle cx="567.6" cy="186.5" r="3.00"/><circle cx="577.2" cy="186.5" r="3.00"/><circle cx="579.6" cy="186.5" r="3.00"/><circle cx="586.8" cy="186.5" r="3.00"/><circle cx="589.2" cy="186.5" r="3.00"/><circle cx="591.6" cy="186.5" r="3.00"/><circle cx="594.0" cy="186.5" r="3.00"/><circle cx="596.4" cy="186.5" r="3.00"/><circle cx="598.8" cy="186.5" r="3.00"/><circle cx="601.2" cy="186.5" r="3.00"/><circle cx="556.8" cy="188.6" r="3.00"/><circle cx="559.2" cy="188.6" r="3.00"/><circle cx="561.6" cy="188.6" r="3.00"/><circle cx="564.0" cy="188.6" r="3.00"/><circle cx="566.4" cy="188.6" r="3.00"/><circle cx="568.8" cy="188.6" r="3.00"/><circle cx="576.0" cy="188.6" r="3.00"/><circle cx="578.4" cy="188.6" r="3.00"/><circle cx="580.8" cy="188.6" r="3.00"/><circle cx="583.2" cy="188.6" r="3.00"/><circle cx="585.6" cy="188.6" r="3.00"/><circle cx="597.6" cy="188.6" r="3.00"/><circle cx="600.0" cy="188.6" r="3.00"/><circle cx="558.0" cy="190.6" r="3.00"/><circle cx="560.4" cy="190.6" r="3.00"/><circle cx="562.8" cy="190.6" r="3.00"/><circle cx="565.2" cy="190.6" r="3.00"/><circle cx="567.6" cy="190.6" r="3.00"/><circle cx="570.0" cy="190.6" r="3.00"/><circle cx="572.4" cy="190.6" r="3.00"/><circle cx="574.8" cy="190.6" r="3.00"/><circle cx="577.2" cy="190.6" r="3.00"/><circle cx="579.6" cy="190.6" r="3.00"/><circle cx="582.0" cy="190.6" r="3.00"/><circle cx="598.8" cy="190.6" r="3.00"/><circle cx="556.8" cy="192.7" r="3.00"/><circle cx="559.2" cy="192.7" r="3.00"/><circle cx="561.6" cy="192.7" r="3.00"/><circle cx="564.0" cy="192.7" r="3.00"/><circle cx="566.4" cy="192.7" r="3.00"/><circle cx="568.8" cy="192.7" r="3.00"/><circle cx="571.2" cy="192.7" r="3.00"/><circle cx="573.6" cy="192.7" r="3.00"/><circle cx="576.0" cy="192.7" r="3.00"/><circle cx="578.4" cy="192.7" r="3.00"/><circle cx="580.8" cy="192.7" r="3.00"/><circle cx="560.4" cy="194.8" r="3.00"/><circle cx="562.8" cy="194.8" r="3.00"/><circle cx="565.2" cy="194.8" r="3.00"/><circle cx="572.4" cy="194.8" r="3.00"/><circle cx="574.8" cy="194.8" r="3.00"/><circle cx="577.2" cy="194.8" r="3.00"/><circle cx="579.6" cy="194.8" r="3.00"/><circle cx="582.0" cy="194.8" r="3.00"/><circle cx="561.6" cy="196.9" r="3.00"/><circle cx="564.0" cy="196.9" r="3.00"/><circle cx="573.6" cy="196.9" r="3.00"/><circle cx="576.0" cy="196.9" r="3.00"/><circle cx="578.4" cy="196.9" r="3.00"/><circle cx="580.8" cy="196.9" r="3.00"/><circle cx="562.8" cy="199.0" r="3.00"/><circle cx="579.6" cy="199.0" r="3.00"/><circle cx="582.0" cy="199.0" r="3.00"/><circle cx="578.4" cy="201.0" r="3.00"/><circle cx="580.8" cy="201.0" r="3.00"/><circle cx="560.4" cy="203.1" r="3.00"/><circle cx="577.2" cy="203.1" r="3.00"/><circle cx="559.2" cy="205.2" r="3.00"/><circle cx="590.8" cy="159.6" r="3.00"/><circle cx="598.7" cy="169.7" r="3.00"/><circle cx="599.4" cy="170.8" r="3.00"/><circle cx="600.1" cy="169.8" r="3.00"/><circle cx="607.9" cy="144.0" r="3.00"/><circle cx="608.5" cy="142.6" r="3.00"/><circle cx="607.2" cy="142.7" r="3.00"/><circle cx="113.0" cy="255.3" r="3.00"/><circle cx="113.4" cy="259.3" r="3.00"/><circle cx="112.7" cy="262.0" r="3.00"/><circle cx="113.2" cy="265.3" r="3.00"/><circle cx="111.2" cy="270.0" r="3.00"/><circle cx="113.8" cy="270.2" r="3.00"/><circle cx="112.3" cy="276.2" r="3.00"/><circle cx="111.2" cy="281.4" r="3.00"/><circle cx="112.7" cy="284.5" r="3.00"/><circle cx="246.5" cy="510.5" r="3.00"/></g>
<rect x="633.3" y="482.3" width="274.4" height="34.1" rx="3.3" ry="3.3" fill="#fff" fill-opacity="0.8" stroke="#ccc" stroke-opacity="0.8" stroke-width="1.1"/>
<circle cx="656.6" cy="497.7" r="3.1" fill="#0000ff"/>
<text transform="translate(687.3 503.2) scale(1 1)" font-size="16.67">Injected:2.26e11 ppb <tspan font-size="20.5" dx="-0.2">±</tspan><tspan dx="0.6"> 1.42e10</tspan></text>
<path d="M111.5 524.5v4.6M224.5 524.5v4.6M337.5 524.5v4.6M450.5 524.5v4.6M563.5 524.5v4.6M675.5 524.5v4.6M788.5 524.5v4.6M901.5 524.5v4.6M106.5 524.5h-4.6M106.5 447.5h-4.6M106.5 370.5h-4.6M106.5 293.5h-4.6M106.5 217.5h-4.6M106.5 140.5h-4.6" stroke="#000" stroke-width="1.1" fill="none"/>
<rect x="106.5" y="93.5" width="810.0" height="431.0" fill="none" stroke="#000" stroke-width="1.1"/>
<text transform="translate(97.4 533.8) scale(0.955 1.04)" text-anchor="end" font-size="27.78">0.0</text>
<text transform="translate(97.4 456.9) scale(0.955 1.04)" text-anchor="end" font-size="27.78">0.5</text>
<text transform="translate(97.4 379.6) scale(0.955 1.04)" text-anchor="end" font-size="27.78">1.0</text>
<text transform="translate(97.4 302.9) scale(0.955 1.04)" text-anchor="end" font-size="27.78">1.5</text>
<text transform="translate(97.4 225.7) scale(0.955 1.04)" text-anchor="end" font-size="27.78">2.0</text>
<text transform="translate(97.4 148.7) scale(0.955 1.04)" text-anchor="end" font-size="27.78">2.5</text>
<text transform="translate(107.6 89.8) scale(0.955 1.04)" font-size="27.78">1e11</text>
<text transform="translate(51.2 309.7) rotate(-90)" text-anchor="middle" font-size="33.45">B1 bunch intensity (ppb)</text>
<path d="M111.5 592.5V1023.5M224.5 592.5V1023.5M337.5 592.5V1023.5M450.5 592.5V1023.5M563.5 592.5V1023.5M675.5 592.5V1023.5M788.5 592.5V1023.5M901.5 592.5V1023.5M106.5 946.5H916.5M106.5 869.5H916.5M106.5 792.5H916.5M106.5 715.5H916.5M106.5 639.5H916.5" stroke="#b0b0b0" stroke-width="1.1" fill="none"/>
<g fill="#0000ff"><circle cx="244.4" cy="636.3" r="3.00"/><circle cx="280.5" cy="643.4" r="3.00"/><circle cx="295.5" cy="694.5" r="3.00"/><circle cx="277.4" cy="715.5" r="3.00"/><circle cx="246.4" cy="649.2" r="3.00"/><circle cx="244.4" cy="652.9" r="3.00"/><circle cx="249.1" cy="655.5" r="3.00"/><circle cx="249.5" cy="659.5" r="3.00"/><circle cx="250.5" cy="706.4" r="3.00"/><circle cx="253.8" cy="705.2" r="3.00"/><circle cx="259.6" cy="704.3" r="3.00"/><circle cx="263.6" cy="701.2" r="3.00"/><circle cx="270.4" cy="701.5" r="3.00"/><circle cx="276.2" cy="701.7" r="3.00"/><circle cx="277.7" cy="698.4" r="3.00"/><circle cx="245.3" cy="694.4" r="3.00"/><circle cx="312.3" cy="678.2" r="3.00"/><circle cx="262.5" cy="659.0" r="3.00"/><circle cx="266.9" cy="660.9" r="3.00"/><circle cx="251.9" cy="698.9" r="3.00"/><circle cx="304.4" cy="673.4" r="3.00"/><circle cx="307.0" cy="673.8" r="3.00"/><circle cx="309.5" cy="673.6" r="3.00"/><circle cx="243.9" cy="671.4" r="3.00"/><circle cx="244.9" cy="672.2" r="3.00"/><circle cx="245.7" cy="673.2" r="3.00"/><circle cx="246.0" cy="674.5" r="3.00"/><circle cx="245.7" cy="675.8" r="3.00"/><circle cx="245.1" cy="676.9" r="3.00"/><circle cx="244.5" cy="678.1" r="3.00"/><circle cx="243.8" cy="679.1" r="3.00"/><circle cx="244.5" cy="680.2" r="3.00"/><circle cx="245.4" cy="681.1" r="3.00"/><circle cx="246.3" cy="682.0" r="3.00"/><circle cx="247.3" cy="682.9" r="3.00"/><circle cx="248.3" cy="683.7" r="3.00"/><circle cx="249.3" cy="684.6" r="3.00"/><circle cx="250.1" cy="685.6" r="3.00"/><circle cx="250.9" cy="686.6" r="3.00"/><circle cx="251.7" cy="687.6" r="3.00"/><circle cx="251.9" cy="686.3" r="3.00"/><circle cx="252.5" cy="685.2" r="3.00"/><circle cx="253.6" cy="684.4" r="3.00"/><circle cx="254.8" cy="684.0" r="3.00"/><circle cx="256.1" cy="684.1" r="3.00"/><circle cx="257.2" cy="684.7" r="3.00"/><circle cx="258.1" cy="685.6" r="3.00"/><circle cx="258.6" cy="686.8" r="3.00"/><circle cx="258.6" cy="688.1" r="3.00"/><circle cx="258.1" cy="689.3" r="3.00"/><circle cx="257.2" cy="690.3" r="3.00"/><circle cx="256.0" cy="690.8" r="3.00"/><circle cx="254.7" cy="690.9" r="3.00"/><circle cx="253.5" cy="690.5" r="3.00"/><circle cx="252.5" cy="689.6" r="3.00"/><circle cx="252.0" cy="689.5" r="3.00"/><circle cx="251.7" cy="690.8" r="3.00"/><circle cx="251.4" cy="692.0" r="3.00"/><circle cx="250.6" cy="693.1" r="3.00"/><circle cx="249.5" cy="693.8" r="3.00"/><circle cx="248.2" cy="694.0" r="3.00"/><circle cx="249.3" cy="694.5" r="3.00"/><circle cx="250.4" cy="695.2" r="3.00"/><circle cx="251.4" cy="696.1" r="3.00"/><circle cx="252.0" cy="697.2" r="3.00"/><circle cx="252.2" cy="698.5" r="3.00"/><circle cx="253.0" cy="698.2" r="3.00"/><circle cx="254.1" cy="697.5" r="3.00"/><circle cx="255.3" cy="697.3" r="3.00"/><circle cx="256.6" cy="697.6" r="3.00"/><circle cx="257.6" cy="698.4" r="3.00"/><circle cx="258.7" cy="699.2" r="3.00"/><circle cx="259.6" cy="700.1" r="3.00"/><circle cx="260.0" cy="701.3" r="3.00"/><circle cx="259.9" cy="702.6" r="3.00"/><circle cx="259.2" cy="703.7" r="3.00"/><circle cx="259.8" cy="703.7" r="3.00"/><circle cx="260.6" cy="702.7" r="3.00"/><circle cx="261.5" cy="701.8" r="3.00"/><circle cx="262.7" cy="701.2" r="3.00"/><circle cx="263.2" cy="700.1" r="3.00"/><circle cx="263.5" cy="698.8" r="3.00"/><circle cx="263.9" cy="697.6" r="3.00"/><circle cx="264.9" cy="696.8" r="3.00"/><circle cx="266.1" cy="696.4" r="3.00"/><circle cx="267.4" cy="696.5" r="3.00"/><circle cx="268.5" cy="697.2" r="3.00"/><circle cx="269.6" cy="697.9" r="3.00"/><circle cx="270.5" cy="698.9" r="3.00"/><circle cx="270.8" cy="700.1" r="3.00"/><circle cx="270.8" cy="701.3" r="3.00"/><circle cx="271.7" cy="700.4" r="3.00"/><circle cx="272.8" cy="699.7" r="3.00"/><circle cx="274.1" cy="699.7" r="3.00"/><circle cx="275.3" cy="700.1" r="3.00"/><circle cx="276.1" cy="700.0" r="3.00"/><circle cx="277.0" cy="699.1" r="3.00"/><circle cx="276.2" cy="698.5" r="3.00"/><circle cx="275.1" cy="697.8" r="3.00"/><circle cx="274.4" cy="696.7" r="3.00"/><circle cx="274.2" cy="695.4" r="3.00"/><circle cx="274.5" cy="694.2" r="3.00"/><circle cx="275.4" cy="693.2" r="3.00"/><circle cx="276.2" cy="692.2" r="3.00"/><circle cx="275.7" cy="691.0" r="3.00"/><circle cx="275.3" cy="689.8" r="3.00"/><circle cx="275.5" cy="688.5" r="3.00"/><circle cx="275.4" cy="687.3" r="3.00"/><circle cx="275.4" cy="686.0" r="3.00"/><circle cx="275.5" cy="684.7" r="3.00"/><circle cx="275.7" cy="683.4" r="3.00"/><circle cx="275.8" cy="682.1" r="3.00"/><circle cx="276.1" cy="680.9" r="3.00"/><circle cx="275.1" cy="680.8" r="3.00"/><circle cx="273.9" cy="680.4" r="3.00"/><circle cx="272.9" cy="679.6" r="3.00"/><circle cx="272.4" cy="678.4" r="3.00"/><circle cx="272.0" cy="677.2" r="3.00"/><circle cx="271.7" cy="675.9" r="3.00"/><circle cx="271.4" cy="674.6" r="3.00"/><circle cx="271.6" cy="673.4" r="3.00"/><circle cx="272.3" cy="672.3" r="3.00"/><circle cx="273.4" cy="671.5" r="3.00"/><circle cx="274.4" cy="670.7" r="3.00"/><circle cx="275.4" cy="669.9" r="3.00"/><circle cx="276.7" cy="669.6" r="3.00"/><circle cx="278.0" cy="669.9" r="3.00"/><circle cx="279.0" cy="670.7" r="3.00"/><circle cx="279.6" cy="671.8" r="3.00"/><circle cx="279.8" cy="673.1" r="3.00"/><circle cx="279.9" cy="674.4" r="3.00"/><circle cx="280.0" cy="675.7" r="3.00"/><circle cx="280.2" cy="677.0" r="3.00"/><circle cx="280.0" cy="678.3" r="3.00"/><circle cx="280.1" cy="679.0" r="3.00"/><circle cx="281.3" cy="679.5" r="3.00"/><circle cx="282.2" cy="680.5" r="3.00"/><circle cx="282.6" cy="681.7" r="3.00"/><circle cx="282.5" cy="683.0" r="3.00"/><circle cx="282.4" cy="684.3" r="3.00"/><circle cx="282.2" cy="685.6" r="3.00"/><circle cx="282.8" cy="686.3" r="3.00"/><circle cx="284.1" cy="686.5" r="3.00"/><circle cx="285.4" cy="686.9" r="3.00"/><circle cx="286.6" cy="686.8" r="3.00"/><circle cx="287.8" cy="686.4" r="3.00"/><circle cx="289.1" cy="686.0" r="3.00"/><circle cx="290.3" cy="686.2" r="3.00"/><circle cx="291.5" cy="686.9" r="3.00"/><circle cx="292.3" cy="687.9" r="3.00"/><circle cx="293.4" cy="688.3" r="3.00"/><circle cx="293.9" cy="687.5" r="3.00"/><circle cx="293.5" cy="686.3" r="3.00"/><circle cx="293.0" cy="685.0" r="3.00"/><circle cx="293.0" cy="683.7" r="3.00"/><circle cx="293.3" cy="682.5" r="3.00"/><circle cx="293.5" cy="681.2" r="3.00"/><circle cx="294.1" cy="680.0" r="3.00"/><circle cx="294.9" cy="679.0" r="3.00"/><circle cx="295.7" cy="678.0" r="3.00"/><circle cx="296.8" cy="677.3" r="3.00"/><circle cx="298.0" cy="676.8" r="3.00"/><circle cx="298.6" cy="675.6" r="3.00"/><circle cx="299.5" cy="674.7" r="3.00"/><circle cx="299.5" cy="673.8" r="3.00"/><circle cx="298.5" cy="673.0" r="3.00"/><circle cx="297.8" cy="671.9" r="3.00"/><circle cx="297.6" cy="670.6" r="3.00"/><circle cx="296.6" cy="671.1" r="3.00"/><circle cx="295.3" cy="671.3" r="3.00"/><circle cx="294.1" cy="671.0" r="3.00"/><circle cx="293.0" cy="670.3" r="3.00"/><circle cx="292.3" cy="669.2" r="3.00"/><circle cx="292.1" cy="667.9" r="3.00"/><circle cx="292.4" cy="666.6" r="3.00"/><circle cx="293.1" cy="665.6" r="3.00"/><circle cx="294.2" cy="664.8" r="3.00"/><circle cx="295.4" cy="664.6" r="3.00"/><circle cx="296.7" cy="664.8" r="3.00"/><circle cx="297.8" cy="665.5" r="3.00"/><circle cx="298.5" cy="666.5" r="3.00"/><circle cx="298.8" cy="667.8" r="3.00"/><circle cx="299.7" cy="667.6" r="3.00"/><circle cx="300.9" cy="667.3" r="3.00"/><circle cx="302.2" cy="667.5" r="3.00"/><circle cx="303.3" cy="668.1" r="3.00"/><circle cx="304.1" cy="667.5" r="3.00"/><circle cx="305.2" cy="666.8" r="3.00"/><circle cx="306.5" cy="666.6" r="3.00"/><circle cx="307.8" cy="666.6" r="3.00"/><circle cx="309.1" cy="666.6" r="3.00"/><circle cx="310.4" cy="666.9" r="3.00"/><circle cx="311.4" cy="667.7" r="3.00"/><circle cx="311.5" cy="666.8" r="3.00"/><circle cx="311.2" cy="665.5" r="3.00"/><circle cx="311.4" cy="664.2" r="3.00"/><circle cx="312.0" cy="663.1" r="3.00"/><circle cx="312.3" cy="661.9" r="3.00"/><circle cx="312.2" cy="660.6" r="3.00"/><circle cx="312.3" cy="659.3" r="3.00"/><circle cx="312.4" cy="658.0" r="3.00"/><circle cx="311.9" cy="656.8" r="3.00"/><circle cx="311.4" cy="655.6" r="3.00"/><circle cx="310.6" cy="654.5" r="3.00"/><circle cx="310.0" cy="653.4" r="3.00"/><circle cx="309.8" cy="652.1" r="3.00"/><circle cx="310.2" cy="650.9" r="3.00"/><circle cx="310.0" cy="650.2" r="3.00"/><circle cx="308.7" cy="650.3" r="3.00"/><circle cx="307.5" cy="649.9" r="3.00"/><circle cx="306.6" cy="649.0" r="3.00"/><circle cx="306.0" cy="647.8" r="3.00"/><circle cx="305.1" cy="646.9" r="3.00"/><circle cx="304.1" cy="646.1" r="3.00"/><circle cx="303.3" cy="645.0" r="3.00"/><circle cx="302.7" cy="643.9" r="3.00"/><circle cx="302.1" cy="642.8" r="3.00"/><circle cx="301.7" cy="641.5" r="3.00"/><circle cx="301.5" cy="640.2" r="3.00"/><circle cx="301.4" cy="638.9" r="3.00"/><circle cx="301.8" cy="637.7" r="3.00"/><circle cx="301.8" cy="636.6" r="3.00"/><circle cx="300.5" cy="636.6" r="3.00"/><circle cx="299.2" cy="636.7" r="3.00"/><circle cx="298.2" cy="636.9" r="3.00"/><circle cx="298.7" cy="638.1" r="3.00"/><circle cx="299.0" cy="639.4" r="3.00"/><circle cx="299.3" cy="640.6" r="3.00"/><circle cx="300.1" cy="641.6" r="3.00"/><circle cx="300.7" cy="642.8" r="3.00"/><circle cx="300.8" cy="644.1" r="3.00"/><circle cx="300.3" cy="645.3" r="3.00"/><circle cx="299.7" cy="646.4" r="3.00"/><circle cx="299.1" cy="647.6" r="3.00"/><circle cx="298.7" cy="648.8" r="3.00"/><circle cx="299.5" cy="649.8" r="3.00"/><circle cx="300.1" cy="650.9" r="3.00"/><circle cx="300.3" cy="652.2" r="3.00"/><circle cx="300.1" cy="653.5" r="3.00"/><circle cx="299.9" cy="654.8" r="3.00"/><circle cx="299.6" cy="656.0" r="3.00"/><circle cx="299.2" cy="657.3" r="3.00"/><circle cx="298.8" cy="658.5" r="3.00"/><circle cx="298.3" cy="659.7" r="3.00"/><circle cx="297.9" cy="660.9" r="3.00"/><circle cx="297.2" cy="662.0" r="3.00"/><circle cx="296.1" cy="662.8" r="3.00"/><circle cx="294.8" cy="663.0" r="3.00"/><circle cx="293.6" cy="662.6" r="3.00"/><circle cx="292.6" cy="661.8" r="3.00"/><circle cx="291.8" cy="660.7" r="3.00"/><circle cx="290.9" cy="659.8" r="3.00"/><circle cx="289.9" cy="659.1" r="3.00"/><circle cx="289.0" cy="658.1" r="3.00"/><circle cx="288.2" cy="657.0" r="3.00"/><circle cx="287.2" cy="656.2" r="3.00"/><circle cx="286.2" cy="655.4" r="3.00"/><circle cx="285.6" cy="654.3" r="3.00"/><circle cx="285.5" cy="653.0" r="3.00"/><circle cx="285.9" cy="651.8" r="3.00"/><circle cx="286.8" cy="650.8" r="3.00"/><circle cx="286.6" cy="650.7" r="3.00"/><circle cx="285.4" cy="651.3" r="3.00"/><circle cx="284.2" cy="651.8" r="3.00"/><circle cx="283.1" cy="652.5" r="3.00"/><circle cx="282.1" cy="653.3" r="3.00"/><circle cx="281.6" cy="654.5" r="3.00"/><circle cx="281.1" cy="655.7" r="3.00"/><circle cx="280.7" cy="657.0" r="3.00"/><circle cx="280.3" cy="658.2" r="3.00"/><circle cx="279.9" cy="659.4" r="3.00"/><circle cx="280.0" cy="660.7" r="3.00"/><circle cx="280.2" cy="662.0" r="3.00"/><circle cx="280.1" cy="663.3" r="3.00"/><circle cx="279.8" cy="664.6" r="3.00"/><circle cx="279.5" cy="665.8" r="3.00"/><circle cx="278.7" cy="666.9" r="3.00"/><circle cx="277.6" cy="667.5" r="3.00"/><circle cx="276.3" cy="667.6" r="3.00"/><circle cx="275.1" cy="667.2" r="3.00"/><circle cx="273.9" cy="667.0" r="3.00"/><circle cx="272.8" cy="667.6" r="3.00"/><circle cx="271.6" cy="668.1" r="3.00"/><circle cx="270.3" cy="668.0" r="3.00"/><circle cx="269.1" cy="667.5" r="3.00"/><circle cx="267.9" cy="666.9" r="3.00"/><circle cx="266.9" cy="666.1" r="3.00"/><circle cx="266.3" cy="665.0" r="3.00"/><circle cx="266.0" cy="664.7" r="3.00"/><circle cx="265.4" cy="665.9" r="3.00"/><circle cx="264.6" cy="666.9" r="3.00"/><circle cx="263.7" cy="667.9" r="3.00"/><circle cx="263.0" cy="668.9" r="3.00"/><circle cx="262.3" cy="670.0" r="3.00"/><circle cx="261.2" cy="670.7" r="3.00"/><circle cx="259.9" cy="670.9" r="3.00"/><circle cx="258.7" cy="670.6" r="3.00"/><circle cx="257.7" cy="669.8" r="3.00"/><circle cx="256.8" cy="670.1" r="3.00"/><circle cx="255.7" cy="670.8" r="3.00"/><circle cx="254.4" cy="670.9" r="3.00"/><circle cx="253.2" cy="670.5" r="3.00"/><circle cx="252.1" cy="669.8" r="3.00"/><circle cx="251.1" cy="669.0" r="3.00"/><circle cx="250.3" cy="667.9" r="3.00"/><circle cx="249.7" cy="666.8" r="3.00"/><circle cx="248.9" cy="665.7" r="3.00"/><circle cx="248.2" cy="665.4" r="3.00"/><circle cx="247.3" cy="666.4" r="3.00"/><circle cx="246.2" cy="667.0" r="3.00"/><circle cx="244.9" cy="667.2" r="3.00"/><circle cx="244.9" cy="667.9" r="3.00"/><circle cx="245.0" cy="669.1" r="3.00"/><circle cx="244.6" cy="670.4" r="3.00"/><circle cx="288.7" cy="670.9" r="3.00"/><circle cx="289.5" cy="672.0" r="3.00"/><circle cx="289.7" cy="673.3" r="3.00"/><circle cx="289.4" cy="674.6" r="3.00"/><circle cx="288.6" cy="675.6" r="3.00"/><circle cx="287.8" cy="676.6" r="3.00"/><circle cx="286.9" cy="677.7" r="3.00"/><circle cx="286.1" cy="678.7" r="3.00"/><circle cx="284.9" cy="679.4" r="3.00"/><circle cx="283.6" cy="679.5" r="3.00"/><circle cx="282.4" cy="679.1" r="3.00"/><circle cx="281.4" cy="678.2" r="3.00"/><circle cx="280.6" cy="677.2" r="3.00"/><circle cx="280.3" cy="675.9" r="3.00"/><circle cx="280.6" cy="674.6" r="3.00"/><circle cx="281.4" cy="673.5" r="3.00"/><circle cx="282.2" cy="672.5" r="3.00"/><circle cx="283.1" cy="671.5" r="3.00"/><circle cx="284.0" cy="670.5" r="3.00"/><circle cx="285.1" cy="669.8" r="3.00"/><circle cx="286.4" cy="669.6" r="3.00"/><circle cx="287.7" cy="670.1" r="3.00"/><circle cx="269.4" cy="683.4" r="3.00"/><circle cx="268.6" cy="684.4" r="3.00"/><circle cx="267.4" cy="684.9" r="3.00"/><circle cx="266.1" cy="685.1" r="3.00"/><circle cx="264.8" cy="684.7" r="3.00"/><circle cx="263.8" cy="683.9" r="3.00"/><circle cx="263.1" cy="682.8" r="3.00"/><circle cx="262.8" cy="681.6" r="3.00"/><circle cx="263.1" cy="680.3" r="3.00"/><circle cx="263.8" cy="679.1" r="3.00"/><circle cx="264.8" cy="678.4" r="3.00"/><circle cx="266.1" cy="678.0" r="3.00"/><circle cx="267.4" cy="678.1" r="3.00"/><circle cx="268.5" cy="678.7" r="3.00"/><circle cx="269.4" cy="679.6" r="3.00"/><circle cx="269.9" cy="680.9" r="3.00"/><circle cx="269.9" cy="682.2" r="3.00"/><circle cx="300.2" cy="638.5" r="3.00"/><circle cx="301.4" cy="640.6" r="3.00"/><circle cx="301.4" cy="644.7" r="3.00"/><circle cx="300.2" cy="646.8" r="3.00"/><circle cx="302.6" cy="646.8" r="3.00"/><circle cx="299.0" cy="648.9" r="3.00"/><circle cx="301.4" cy="648.9" r="3.00"/><circle cx="303.8" cy="648.9" r="3.00"/><circle cx="306.2" cy="648.9" r="3.00"/><circle cx="300.2" cy="651.0" r="3.00"/><circle cx="302.6" cy="651.0" r="3.00"/><circle cx="305.0" cy="651.0" r="3.00"/><circle cx="307.4" cy="651.0" r="3.00"/><circle cx="309.8" cy="651.0" r="3.00"/><circle cx="284.6" cy="653.0" r="3.00"/><circle cx="301.4" cy="653.0" r="3.00"/><circle cx="303.8" cy="653.0" r="3.00"/><circle cx="306.2" cy="653.0" r="3.00"/><circle cx="308.6" cy="653.0" r="3.00"/><circle cx="283.4" cy="655.1" r="3.00"/><circle cx="285.8" cy="655.1" r="3.00"/><circle cx="300.2" cy="655.1" r="3.00"/><circle cx="302.6" cy="655.1" r="3.00"/><circle cx="305.0" cy="655.1" r="3.00"/><circle cx="307.4" cy="655.1" r="3.00"/><circle cx="309.8" cy="655.1" r="3.00"/><circle cx="282.2" cy="657.2" r="3.00"/><circle cx="284.6" cy="657.2" r="3.00"/><circle cx="287.0" cy="657.2" r="3.00"/><circle cx="301.4" cy="657.2" r="3.00"/><circle cx="303.8" cy="657.2" r="3.00"/><circle cx="306.2" cy="657.2" r="3.00"/><circle cx="308.6" cy="657.2" r="3.00"/><circle cx="311.0" cy="657.2" r="3.00"/><circle cx="281.0" cy="659.3" r="3.00"/><circle cx="283.4" cy="659.3" r="3.00"/><circle cx="285.8" cy="659.3" r="3.00"/><circle cx="288.2" cy="659.3" r="3.00"/><circle cx="300.2" cy="659.3" r="3.00"/><circle cx="302.6" cy="659.3" r="3.00"/><circle cx="305.0" cy="659.3" r="3.00"/><circle cx="307.4" cy="659.3" r="3.00"/><circle cx="309.8" cy="659.3" r="3.00"/><circle cx="312.2" cy="659.3" r="3.00"/><circle cx="282.2" cy="661.4" r="3.00"/><circle cx="284.6" cy="661.4" r="3.00"/><circle cx="287.0" cy="661.4" r="3.00"/><circle cx="289.4" cy="661.4" r="3.00"/><circle cx="291.8" cy="661.4" r="3.00"/><circle cx="299.0" cy="661.4" r="3.00"/><circle cx="301.4" cy="661.4" r="3.00"/><circle cx="303.8" cy="661.4" r="3.00"/><circle cx="306.2" cy="661.4" r="3.00"/><circle cx="308.6" cy="661.4" r="3.00"/><circle cx="311.0" cy="661.4" r="3.00"/><circle cx="281.0" cy="663.4" r="3.00"/><circle cx="283.4" cy="663.4" r="3.00"/><circle cx="285.8" cy="663.4" r="3.00"/><circle cx="288.2" cy="663.4" r="3.00"/><circle cx="290.6" cy="663.4" r="3.00"/><circle cx="293.0" cy="663.4" r="3.00"/><circle cx="295.4" cy="663.4" r="3.00"/><circle cx="297.8" cy="663.4" r="3.00"/><circle cx="300.2" cy="663.4" r="3.00"/><circle cx="302.6" cy="663.4" r="3.00"/><circle cx="305.0" cy="663.4" r="3.00"/><circle cx="307.4" cy="663.4" r="3.00"/><circle cx="309.8" cy="663.4" r="3.00"/><circle cx="248.6" cy="665.5" r="3.00"/><circle cx="279.8" cy="665.5" r="3.00"/><circle cx="282.2" cy="665.5" r="3.00"/><circle cx="284.6" cy="665.5" r="3.00"/><circle cx="287.0" cy="665.5" r="3.00"/><circle cx="289.4" cy="665.5" r="3.00"/><circle cx="291.8" cy="665.5" r="3.00"/><circle cx="299.0" cy="665.5" r="3.00"/><circle cx="301.4" cy="665.5" r="3.00"/><circle cx="303.8" cy="665.5" r="3.00"/><circle cx="306.2" cy="665.5" r="3.00"/><circle cx="308.6" cy="665.5" r="3.00"/><circle cx="311.0" cy="665.5" r="3.00"/><circle cx="245.0" cy="667.6" r="3.00"/><circle cx="247.4" cy="667.6" r="3.00"/><circle cx="249.8" cy="667.6" r="3.00"/><circle cx="264.2" cy="667.6" r="3.00"/><circle cx="266.6" cy="667.6" r="3.00"/><circle cx="269.0" cy="667.6" r="3.00"/><circle cx="273.8" cy="667.6" r="3.00"/><circle cx="278.6" cy="667.6" r="3.00"/><circle cx="281.0" cy="667.6" r="3.00"/><circle cx="283.4" cy="667.6" r="3.00"/><circle cx="285.8" cy="667.6" r="3.00"/><circle cx="288.2" cy="667.6" r="3.00"/><circle cx="290.6" cy="667.6" r="3.00"/><circle cx="302.6" cy="667.6" r="3.00"/><circle cx="246.2" cy="669.7" r="3.00"/><circle cx="248.6" cy="669.7" r="3.00"/><circle cx="251.0" cy="669.7" r="3.00"/><circle cx="263.0" cy="669.7" r="3.00"/><circle cx="265.4" cy="669.7" r="3.00"/><circle cx="267.8" cy="669.7" r="3.00"/><circle cx="270.2" cy="669.7" r="3.00"/><circle cx="272.6" cy="669.7" r="3.00"/><circle cx="275.0" cy="669.7" r="3.00"/><circle cx="277.4" cy="669.7" r="3.00"/><circle cx="279.8" cy="669.7" r="3.00"/><circle cx="282.2" cy="669.7" r="3.00"/><circle cx="284.6" cy="669.7" r="3.00"/><circle cx="287.0" cy="669.7" r="3.00"/><circle cx="289.4" cy="669.7" r="3.00"/><circle cx="291.8" cy="669.7" r="3.00"/><circle cx="245.0" cy="671.8" r="3.00"/><circle cx="247.4" cy="671.8" r="3.00"/><circle cx="249.8" cy="671.8" r="3.00"/><circle cx="252.2" cy="671.8" r="3.00"/><circle cx="254.6" cy="671.8" r="3.00"/><circle cx="257.0" cy="671.8" r="3.00"/><circle cx="259.4" cy="671.8" r="3.00"/><circle cx="261.8" cy="671.8" r="3.00"/><circle cx="264.2" cy="671.8" r="3.00"/><circle cx="266.6" cy="671.8" r="3.00"/><circle cx="269.0" cy="671.8" r="3.00"/><circle cx="271.4" cy="671.8" r="3.00"/><circle cx="281.0" cy="671.8" r="3.00"/><circle cx="290.6" cy="671.8" r="3.00"/><circle cx="293.0" cy="671.8" r="3.00"/><circle cx="295.4" cy="671.8" r="3.00"/><circle cx="246.2" cy="673.8" r="3.00"/><circle cx="248.6" cy="673.8" r="3.00"/><circle cx="251.0" cy="673.8" r="3.00"/><circle cx="253.4" cy="673.8" r="3.00"/><circle cx="255.8" cy="673.8" r="3.00"/><circle cx="258.2" cy="673.8" r="3.00"/><circle cx="260.6" cy="673.8" r="3.00"/><circle cx="263.0" cy="673.8" r="3.00"/><circle cx="265.4" cy="673.8" r="3.00"/><circle cx="267.8" cy="673.8" r="3.00"/><circle cx="270.2" cy="673.8" r="3.00"/><circle cx="291.8" cy="673.8" r="3.00"/><circle cx="294.2" cy="673.8" r="3.00"/><circle cx="296.6" cy="673.8" r="3.00"/><circle cx="299.0" cy="673.8" r="3.00"/><circle cx="247.4" cy="675.9" r="3.00"/><circle cx="249.8" cy="675.9" r="3.00"/><circle cx="252.2" cy="675.9" r="3.00"/><circle cx="254.6" cy="675.9" r="3.00"/><circle cx="257.0" cy="675.9" r="3.00"/><circle cx="259.4" cy="675.9" r="3.00"/><circle cx="261.8" cy="675.9" r="3.00"/><circle cx="264.2" cy="675.9" r="3.00"/><circle cx="266.6" cy="675.9" r="3.00"/><circle cx="269.0" cy="675.9" r="3.00"/><circle cx="271.4" cy="675.9" r="3.00"/><circle cx="290.6" cy="675.9" r="3.00"/><circle cx="293.0" cy="675.9" r="3.00"/><circle cx="295.4" cy="675.9" r="3.00"/><circle cx="297.8" cy="675.9" r="3.00"/><circle cx="246.2" cy="678.0" r="3.00"/><circle cx="248.6" cy="678.0" r="3.00"/><circle cx="251.0" cy="678.0" r="3.00"/><circle cx="253.4" cy="678.0" r="3.00"/><circle cx="255.8" cy="678.0" r="3.00"/><circle cx="258.2" cy="678.0" r="3.00"/><circle cx="260.6" cy="678.0" r="3.00"/><circle cx="263.0" cy="678.0" r="3.00"/><circle cx="265.4" cy="678.0" r="3.00"/><circle cx="267.8" cy="678.0" r="3.00"/><circle cx="270.2" cy="678.0" r="3.00"/><circle cx="287.0" cy="678.0" r="3.00"/><circle cx="289.4" cy="678.0" r="3.00"/><circle cx="291.8" cy="678.0" r="3.00"/><circle cx="294.2" cy="678.0" r="3.00"/><circle cx="245.0" cy="680.1" r="3.00"/><circle cx="247.4" cy="680.1" r="3.00"/><circle cx="249.8" cy="680.1" r="3.00"/><circle cx="252.2" cy="680.1" r="3.00"/><circle cx="254.6" cy="680.1" r="3.00"/><circle cx="257.0" cy="680.1" r="3.00"/><circle cx="259.4" cy="680.1" r="3.00"/><circle cx="261.8" cy="680.1" r="3.00"/><circle cx="271.4" cy="680.1" r="3.00"/><circle cx="283.4" cy="680.1" r="3.00"/><circle cx="285.8" cy="680.1" r="3.00"/><circle cx="288.2" cy="680.1" r="3.00"/><circle cx="290.6" cy="680.1" r="3.00"/><circle cx="293.0" cy="680.1" r="3.00"/><circle cx="248.6" cy="682.1" r="3.00"/><circle cx="251.0" cy="682.1" r="3.00"/><circle cx="253.4" cy="682.1" r="3.00"/><circle cx="255.8" cy="682.1" r="3.00"/><circle cx="258.2" cy="682.1" r="3.00"/><circle cx="260.6" cy="682.1" r="3.00"/><circle cx="270.2" cy="682.1" r="3.00"/><circle cx="272.6" cy="682.1" r="3.00"/><circle cx="275.0" cy="682.1" r="3.00"/><circle cx="284.6" cy="682.1" r="3.00"/><circle cx="287.0" cy="682.1" r="3.00"/><circle cx="289.4" cy="682.1" r="3.00"/><circle cx="291.8" cy="682.1" r="3.00"/><circle cx="249.8" cy="684.2" r="3.00"/><circle cx="252.2" cy="684.2" r="3.00"/><circle cx="257.0" cy="684.2" r="3.00"/><circle cx="259.4" cy="684.2" r="3.00"/><circle cx="261.8" cy="684.2" r="3.00"/><circle cx="269.0" cy="684.2" r="3.00"/><circle cx="271.4" cy="684.2" r="3.00"/><circle cx="273.8" cy="684.2" r="3.00"/><circle cx="283.4" cy="684.2" r="3.00"/><circle cx="285.8" cy="684.2" r="3.00"/><circle cx="288.2" cy="684.2" r="3.00"/><circle cx="290.6" cy="684.2" r="3.00"/><circle cx="251.0" cy="686.3" r="3.00"/><circle cx="260.6" cy="686.3" r="3.00"/><circle cx="263.0" cy="686.3" r="3.00"/><circle cx="265.4" cy="686.3" r="3.00"/><circle cx="267.8" cy="686.3" r="3.00"/><circle cx="270.2" cy="686.3" r="3.00"/><circle cx="272.6" cy="686.3" r="3.00"/><circle cx="275.0" cy="686.3" r="3.00"/><circle cx="284.6" cy="686.3" r="3.00"/><circle cx="287.0" cy="686.3" r="3.00"/><circle cx="291.8" cy="686.3" r="3.00"/><circle cx="259.4" cy="688.4" r="3.00"/><circle cx="261.8" cy="688.4" r="3.00"/><circle cx="264.2" cy="688.4" r="3.00"/><circle cx="266.6" cy="688.4" r="3.00"/><circle cx="269.0" cy="688.4" r="3.00"/><circle cx="271.4" cy="688.4" r="3.00"/><circle cx="273.8" cy="688.4" r="3.00"/><circle cx="253.4" cy="690.5" r="3.00"/><circle cx="258.2" cy="690.5" r="3.00"/><circle cx="260.6" cy="690.5" r="3.00"/><circle cx="263.0" cy="690.5" r="3.00"/><circle cx="265.4" cy="690.5" r="3.00"/><circle cx="267.8" cy="690.5" r="3.00"/><circle cx="270.2" cy="690.5" r="3.00"/><circle cx="272.6" cy="690.5" r="3.00"/><circle cx="275.0" cy="690.5" r="3.00"/><circle cx="252.2" cy="692.5" r="3.00"/><circle cx="254.6" cy="692.5" r="3.00"/><circle cx="257.0" cy="692.5" r="3.00"/><circle cx="259.4" cy="692.5" r="3.00"/><circle cx="261.8" cy="692.5" r="3.00"/><circle cx="264.2" cy="692.5" r="3.00"/><circle cx="266.6" cy="692.5" r="3.00"/><circle cx="269.0" cy="692.5" r="3.00"/><circle cx="271.4" cy="692.5" r="3.00"/><circle cx="273.8" cy="692.5" r="3.00"/><circle cx="251.0" cy="694.6" r="3.00"/><circle cx="253.4" cy="694.6" r="3.00"/><circle cx="255.8" cy="694.6" r="3.00"/><circle cx="258.2" cy="694.6" r="3.00"/><circle cx="260.6" cy="694.6" r="3.00"/><circle cx="263.0" cy="694.6" r="3.00"/><circle cx="265.4" cy="694.6" r="3.00"/><circle cx="267.8" cy="694.6" r="3.00"/><circle cx="270.2" cy="694.6" r="3.00"/><circle cx="272.6" cy="694.6" r="3.00"/><circle cx="252.2" cy="696.7" r="3.00"/><circle cx="254.6" cy="696.7" r="3.00"/><circle cx="257.0" cy="696.7" r="3.00"/><circle cx="259.4" cy="696.7" r="3.00"/><circle cx="261.8" cy="696.7" r="3.00"/><circle cx="264.2" cy="696.7" r="3.00"/><circle cx="269.0" cy="696.7" r="3.00"/><circle cx="271.4" cy="696.7" r="3.00"/><circle cx="273.8" cy="696.7" r="3.00"/><circle cx="258.2" cy="698.8" r="3.00"/><circle cx="260.6" cy="698.8" r="3.00"/><circle cx="263.0" cy="698.8" r="3.00"/><circle cx="272.6" cy="698.8" r="3.00"/><circle cx="275.0" cy="698.8" r="3.00"/><circle cx="261.8" cy="700.8" r="3.00"/><circle cx="245.2" cy="652.7" r="3.00"/><circle cx="266.6" cy="662.6" r="3.00"/><circle cx="266.3" cy="661.4" r="3.00"/><circle cx="310.6" cy="673.3" r="3.00"/><circle cx="311.6" cy="674.3" r="3.00"/><circle cx="312.1" cy="675.5" r="3.00"/><circle cx="312.5" cy="676.8" r="3.00"/><circle cx="312.8" cy="677.0" r="3.00"/><circle cx="313.2" cy="675.7" r="3.00"/><circle cx="313.3" cy="674.4" r="3.00"/><circle cx="312.5" cy="673.3" r="3.00"/><circle cx="311.6" cy="672.4" r="3.00"/><circle cx="311.8" cy="674.4" r="3.00"/><circle cx="313.0" cy="676.5" r="3.00"/><circle cx="451.6" cy="620.3" r="3.00"/><circle cx="415.4" cy="643.3" r="3.00"/><circle cx="433.5" cy="644.4" r="3.00"/><circle cx="397.4" cy="646.1" r="3.00"/><circle cx="410.3" cy="653.3" r="3.00"/><circle cx="420.3" cy="653.3" r="3.00"/><circle cx="463.5" cy="641.2" r="3.00"/><circle cx="465.3" cy="680.3" r="3.00"/><circle cx="441.4" cy="697.4" r="3.00"/><circle cx="430.4" cy="710.3" r="3.00"/><circle cx="448.5" cy="690.4" r="3.00"/><circle cx="412.6" cy="699.1" r="3.00"/><circle cx="416.6" cy="702.3" r="3.00"/><circle cx="437.2" cy="651.2" r="3.00"/><circle cx="433.9" cy="653.6" r="3.00"/><circle cx="453.5" cy="627.2" r="3.00"/><circle cx="454.6" cy="631.5" r="3.00"/><circle cx="454.6" cy="634.3" r="3.00"/><circle cx="452.4" cy="639.2" r="3.00"/><circle cx="455.2" cy="640.3" r="3.00"/><circle cx="451.4" cy="645.6" r="3.00"/><circle cx="457.1" cy="644.6" r="3.00"/><circle cx="458.9" cy="647.6" r="3.00"/><circle cx="461.4" cy="649.3" r="3.00"/><circle cx="463.4" cy="651.4" r="3.00"/><circle cx="451.6" cy="650.4" r="3.00"/><circle cx="453.3" cy="650.6" r="3.00"/><circle cx="401.6" cy="649.8" r="3.00"/><circle cx="405.8" cy="662.5" r="3.00"/><circle cx="410.5" cy="662.3" r="3.00"/><circle cx="409.6" cy="666.2" r="3.00"/><circle cx="396.2" cy="684.5" r="3.00"/><circle cx="416.6" cy="658.9" r="3.00"/><circle cx="423.6" cy="701.9" r="3.00"/><circle cx="441.9" cy="689.5" r="3.00"/><circle cx="398.8" cy="682.2" r="3.00"/><circle cx="400.1" cy="682.0" r="3.00"/><circle cx="401.4" cy="682.3" r="3.00"/><circle cx="402.4" cy="683.1" r="3.00"/><circle cx="403.4" cy="684.0" r="3.00"/><circle cx="404.2" cy="684.9" r="3.00"/><circle cx="405.0" cy="686.0" r="3.00"/><circle cx="405.7" cy="687.1" r="3.00"/><circle cx="406.0" cy="688.3" r="3.00"/><circle cx="405.8" cy="689.6" r="3.00"/><circle cx="405.4" cy="690.9" r="3.00"/><circle cx="404.9" cy="692.0" r="3.00"/><circle cx="403.9" cy="692.8" r="3.00"/><circle cx="402.8" cy="693.5" r="3.00"/><circle cx="402.8" cy="694.8" r="3.00"/><circle cx="403.5" cy="695.8" r="3.00"/><circle cx="404.7" cy="696.3" r="3.00"/><circle cx="405.9" cy="696.7" r="3.00"/><circle cx="406.2" cy="695.6" r="3.00"/><circle cx="406.1" cy="694.3" r="3.00"/><circle cx="406.4" cy="693.0" r="3.00"/><circle cx="407.2" cy="692.0" r="3.00"/><circle cx="408.1" cy="691.1" r="3.00"/><circle cx="408.8" cy="689.9" r="3.00"/><circle cx="409.5" cy="688.8" r="3.00"/><circle cx="410.5" cy="688.0" r="3.00"/><circle cx="411.6" cy="687.4" r="3.00"/><circle cx="412.8" cy="686.8" r="3.00"/><circle cx="414.1" cy="686.7" r="3.00"/><circle cx="415.3" cy="687.1" r="3.00"/><circle cx="416.5" cy="687.7" r="3.00"/><circle cx="417.7" cy="688.3" r="3.00"/><circle cx="418.8" cy="689.0" r="3.00"/><circle cx="419.8" cy="689.8" r="3.00"/><circle cx="420.4" cy="690.9" r="3.00"/><circle cx="420.5" cy="692.2" r="3.00"/><circle cx="420.0" cy="693.4" r="3.00"/><circle cx="419.2" cy="694.4" r="3.00"/><circle cx="419.6" cy="695.4" r="3.00"/><circle cx="420.8" cy="695.9" r="3.00"/><circle cx="421.9" cy="696.6" r="3.00"/><circle cx="422.9" cy="697.4" r="3.00"/><circle cx="423.6" cy="698.5" r="3.00"/><circle cx="424.1" cy="698.5" r="3.00"/><circle cx="425.2" cy="697.7" r="3.00"/><circle cx="426.3" cy="697.2" r="3.00"/><circle cx="427.5" cy="696.6" r="3.00"/><circle cx="428.7" cy="696.1" r="3.00"/><circle cx="429.3" cy="695.0" r="3.00"/><circle cx="429.3" cy="693.7" r="3.00"/><circle cx="429.1" cy="692.5" r="3.00"/><circle cx="429.4" cy="691.2" r="3.00"/><circle cx="430.2" cy="690.2" r="3.00"/><circle cx="431.3" cy="689.6" r="3.00"/><circle cx="432.6" cy="689.6" r="3.00"/><circle cx="433.8" cy="689.7" r="3.00"/><circle cx="434.5" cy="688.8" r="3.00"/><circle cx="433.7" cy="687.8" r="3.00"/><circle cx="433.1" cy="686.7" r="3.00"/><circle cx="432.8" cy="685.4" r="3.00"/><circle cx="433.1" cy="684.2" r="3.00"/><circle cx="433.9" cy="683.1" r="3.00"/><circle cx="435.0" cy="682.4" r="3.00"/><circle cx="436.1" cy="681.8" r="3.00"/><circle cx="437.3" cy="681.2" r="3.00"/><circle cx="438.6" cy="681.1" r="3.00"/><circle cx="439.8" cy="681.5" r="3.00"/><circle cx="441.0" cy="682.1" r="3.00"/><circle cx="442.2" cy="682.7" r="3.00"/><circle cx="443.2" cy="683.5" r="3.00"/><circle cx="443.8" cy="684.6" r="3.00"/><circle cx="444.1" cy="685.6" r="3.00"/><circle cx="445.2" cy="685.0" r="3.00"/><circle cx="446.4" cy="684.7" r="3.00"/><circle cx="447.7" cy="684.4" r="3.00"/><circle cx="448.6" cy="683.5" r="3.00"/><circle cx="449.7" cy="682.7" r="3.00"/><circle cx="450.7" cy="681.9" r="3.00"/><circle cx="451.9" cy="681.4" r="3.00"/><circle cx="452.8" cy="680.6" r="3.00"/><circle cx="453.4" cy="679.4" r="3.00"/><circle cx="453.8" cy="678.2" r="3.00"/><circle cx="454.3" cy="677.0" r="3.00"/><circle cx="455.1" cy="676.0" r="3.00"/><circle cx="456.3" cy="675.5" r="3.00"/><circle cx="457.6" cy="675.5" r="3.00"/><circle cx="458.8" cy="676.1" r="3.00"/><circle cx="459.9" cy="676.2" r="3.00"/><circle cx="460.2" cy="675.0" r="3.00"/><circle cx="460.9" cy="673.9" r="3.00"/><circle cx="461.9" cy="673.0" r="3.00"/><circle cx="462.7" cy="672.0" r="3.00"/><circle cx="463.5" cy="670.9" r="3.00"/><circle cx="464.5" cy="670.1" r="3.00"/><circle cx="465.7" cy="669.7" r="3.00"/><circle cx="466.5" cy="669.0" r="3.00"/><circle cx="466.3" cy="667.7" r="3.00"/><circle cx="465.8" cy="666.5" r="3.00"/><circle cx="465.6" cy="665.2" r="3.00"/><circle cx="465.5" cy="663.9" r="3.00"/><circle cx="465.1" cy="662.7" r="3.00"/><circle cx="464.5" cy="661.5" r="3.00"/><circle cx="464.2" cy="660.3" r="3.00"/><circle cx="464.5" cy="659.0" r="3.00"/><circle cx="465.1" cy="657.9" r="3.00"/><circle cx="464.5" cy="657.2" r="3.00"/><circle cx="463.2" cy="657.2" r="3.00"/><circle cx="461.9" cy="657.1" r="3.00"/><circle cx="460.5" cy="657.1" r="3.00"/><circle cx="459.2" cy="657.2" r="3.00"/><circle cx="457.9" cy="657.3" r="3.00"/><circle cx="456.7" cy="657.5" r="3.00"/><circle cx="455.5" cy="658.0" r="3.00"/><circle cx="454.3" cy="658.6" r="3.00"/><circle cx="453.2" cy="659.3" r="3.00"/><circle cx="452.0" cy="659.9" r="3.00"/><circle cx="450.9" cy="660.4" r="3.00"/><circle cx="449.7" cy="661.0" r="3.00"/><circle cx="448.4" cy="661.3" r="3.00"/><circle cx="447.2" cy="661.0" r="3.00"/><circle cx="445.9" cy="660.5" r="3.00"/><circle cx="444.7" cy="660.8" r="3.00"/><circle cx="443.4" cy="660.7" r="3.00"/><circle cx="442.2" cy="660.1" r="3.00"/><circle cx="441.1" cy="659.6" r="3.00"/><circle cx="440.1" cy="660.5" r="3.00"/><circle cx="439.0" cy="661.2" r="3.00"/><circle cx="437.7" cy="661.2" r="3.00"/><circle cx="436.4" cy="661.1" r="3.00"/><circle cx="435.1" cy="661.1" r="3.00"/><circle cx="434.7" cy="662.2" r="3.00"/><circle cx="434.8" cy="663.5" r="3.00"/><circle cx="435.1" cy="664.7" r="3.00"/><circle cx="435.6" cy="665.9" r="3.00"/><circle cx="436.0" cy="667.2" r="3.00"/><circle cx="435.8" cy="668.4" r="3.00"/><circle cx="435.1" cy="669.5" r="3.00"/><circle cx="434.0" cy="670.2" r="3.00"/><circle cx="432.8" cy="670.6" r="3.00"/><circle cx="432.0" cy="671.6" r="3.00"/><circle cx="431.2" cy="672.7" r="3.00"/><circle cx="430.4" cy="673.7" r="3.00"/><circle cx="429.3" cy="674.3" r="3.00"/><circle cx="428.0" cy="674.4" r="3.00"/><circle cx="426.8" cy="673.9" r="3.00"/><circle cx="425.9" cy="672.9" r="3.00"/><circle cx="425.5" cy="671.7" r="3.00"/><circle cx="425.3" cy="670.4" r="3.00"/><circle cx="424.7" cy="669.3" r="3.00"/><circle cx="423.6" cy="668.5" r="3.00"/><circle cx="422.6" cy="667.7" r="3.00"/><circle cx="421.7" cy="666.8" r="3.00"/><circle cx="420.8" cy="665.8" r="3.00"/><circle cx="420.3" cy="664.6" r="3.00"/><circle cx="419.4" cy="663.8" r="3.00"/><circle cx="418.4" cy="662.9" r="3.00"/><circle cx="417.6" cy="661.8" r="3.00"/><circle cx="417.2" cy="661.6" r="3.00"/><circle cx="417.4" cy="662.9" r="3.00"/><circle cx="417.3" cy="664.2" r="3.00"/><circle cx="416.8" cy="665.4" r="3.00"/><circle cx="416.1" cy="666.5" r="3.00"/><circle cx="415.3" cy="667.5" r="3.00"/><circle cx="414.2" cy="668.2" r="3.00"/><circle cx="412.9" cy="668.3" r="3.00"/><circle cx="411.7" cy="667.8" r="3.00"/><circle cx="410.8" cy="666.9" r="3.00"/><circle cx="410.0" cy="665.9" r="3.00"/><circle cx="409.6" cy="664.7" r="3.00"/><circle cx="409.7" cy="663.4" r="3.00"/><circle cx="408.8" cy="663.5" r="3.00"/><circle cx="407.6" cy="663.6" r="3.00"/><circle cx="406.3" cy="663.1" r="3.00"/><circle cx="405.7" cy="663.3" r="3.00"/><circle cx="406.9" cy="663.7" r="3.00"/><circle cx="408.0" cy="664.4" r="3.00"/><circle cx="409.0" cy="665.2" r="3.00"/><circle cx="409.7" cy="666.3" r="3.00"/><circle cx="410.3" cy="667.5" r="3.00"/><circle cx="410.8" cy="668.7" r="3.00"/><circle cx="411.2" cy="669.9" r="3.00"/><circle cx="410.9" cy="671.2" r="3.00"/><circle cx="410.2" cy="672.2" r="3.00"/><circle cx="409.1" cy="673.0" r="3.00"/><circle cx="408.0" cy="673.7" r="3.00"/><circle cx="406.7" cy="673.9" r="3.00"/><circle cx="405.5" cy="673.6" r="3.00"/><circle cx="404.4" cy="672.8" r="3.00"/><circle cx="403.8" cy="671.7" r="3.00"/><circle cx="403.5" cy="670.4" r="3.00"/><circle cx="403.1" cy="669.2" r="3.00"/><circle cx="402.7" cy="667.9" r="3.00"/><circle cx="402.4" cy="666.7" r="3.00"/><circle cx="402.5" cy="665.4" r="3.00"/><circle cx="403.1" cy="664.3" r="3.00"/><circle cx="402.3" cy="664.0" r="3.00"/><circle cx="401.1" cy="663.6" r="3.00"/><circle cx="400.2" cy="662.6" r="3.00"/><circle cx="399.8" cy="661.4" r="3.00"/><circle cx="399.9" cy="660.1" r="3.00"/><circle cx="400.0" cy="658.8" r="3.00"/><circle cx="400.5" cy="657.6" r="3.00"/><circle cx="401.2" cy="656.5" r="3.00"/><circle cx="400.9" cy="655.2" r="3.00"/><circle cx="401.1" cy="653.9" r="3.00"/><circle cx="401.7" cy="652.8" r="3.00"/><circle cx="402.1" cy="651.5" r="3.00"/><circle cx="401.5" cy="650.5" r="3.00"/><circle cx="401.1" cy="651.6" r="3.00"/><circle cx="400.8" cy="652.9" r="3.00"/><circle cx="400.2" cy="654.1" r="3.00"/><circle cx="399.3" cy="655.0" r="3.00"/><circle cx="398.7" cy="656.1" r="3.00"/><circle cx="398.9" cy="657.4" r="3.00"/><circle cx="398.8" cy="658.7" r="3.00"/><circle cx="398.2" cy="659.8" r="3.00"/><circle cx="397.7" cy="661.0" r="3.00"/><circle cx="398.0" cy="662.2" r="3.00"/><circle cx="398.5" cy="663.4" r="3.00"/><circle cx="398.4" cy="664.7" r="3.00"/><circle cx="397.8" cy="665.8" r="3.00"/><circle cx="397.0" cy="666.9" r="3.00"/><circle cx="397.6" cy="668.0" r="3.00"/><circle cx="398.0" cy="669.2" r="3.00"/><circle cx="397.9" cy="670.5" r="3.00"/><circle cx="398.4" cy="671.5" r="3.00"/><circle cx="399.7" cy="671.9" r="3.00"/><circle cx="401.0" cy="672.2" r="3.00"/><circle cx="402.2" cy="672.6" r="3.00"/><circle cx="403.2" cy="673.4" r="3.00"/><circle cx="404.1" cy="674.4" r="3.00"/><circle cx="404.8" cy="675.4" r="3.00"/><circle cx="405.1" cy="676.7" r="3.00"/><circle cx="404.7" cy="677.9" r="3.00"/><circle cx="404.0" cy="679.0" r="3.00"/><circle cx="403.2" cy="680.1" r="3.00"/><circle cx="402.2" cy="680.8" r="3.00"/><circle cx="400.9" cy="681.0" r="3.00"/><circle cx="399.6" cy="681.3" r="3.00"/><circle cx="435.8" cy="677.9" r="3.00"/><circle cx="435.3" cy="679.1" r="3.00"/><circle cx="434.5" cy="680.1" r="3.00"/><circle cx="433.4" cy="680.8" r="3.00"/><circle cx="432.1" cy="681.1" r="3.00"/><circle cx="430.8" cy="680.9" r="3.00"/><circle cx="429.7" cy="680.2" r="3.00"/><circle cx="428.8" cy="679.2" r="3.00"/><circle cx="428.4" cy="678.0" r="3.00"/><circle cx="428.4" cy="676.7" r="3.00"/><circle cx="428.8" cy="675.5" r="3.00"/><circle cx="429.6" cy="674.5" r="3.00"/><circle cx="430.7" cy="673.8" r="3.00"/><circle cx="432.0" cy="673.6" r="3.00"/><circle cx="433.3" cy="673.8" r="3.00"/><circle cx="434.4" cy="674.4" r="3.00"/><circle cx="435.3" cy="675.4" r="3.00"/><circle cx="435.7" cy="676.6" r="3.00"/><circle cx="422.6" cy="678.4" r="3.00"/><circle cx="421.9" cy="679.6" r="3.00"/><circle cx="421.0" cy="680.5" r="3.00"/><circle cx="419.8" cy="681.1" r="3.00"/><circle cx="418.5" cy="681.4" r="3.00"/><circle cx="417.2" cy="681.3" r="3.00"/><circle cx="415.9" cy="680.9" r="3.00"/><circle cx="414.9" cy="680.0" r="3.00"/><circle cx="414.1" cy="679.0" r="3.00"/><circle cx="413.6" cy="677.7" r="3.00"/><circle cx="413.5" cy="676.4" r="3.00"/><circle cx="413.8" cy="675.1" r="3.00"/><circle cx="414.4" cy="673.9" r="3.00"/><circle cx="415.4" cy="673.0" r="3.00"/><circle cx="416.6" cy="672.4" r="3.00"/><circle cx="417.9" cy="672.1" r="3.00"/><circle cx="419.2" cy="672.2" r="3.00"/><circle cx="420.5" cy="672.6" r="3.00"/><circle cx="421.5" cy="673.5" r="3.00"/><circle cx="422.3" cy="674.5" r="3.00"/><circle cx="422.8" cy="675.8" r="3.00"/><circle cx="422.9" cy="677.1" r="3.00"/><circle cx="400.6" cy="656.7" r="3.00"/><circle cx="399.4" cy="658.8" r="3.00"/><circle cx="454.6" cy="658.8" r="3.00"/><circle cx="457.0" cy="658.8" r="3.00"/><circle cx="459.4" cy="658.8" r="3.00"/><circle cx="461.8" cy="658.8" r="3.00"/><circle cx="464.2" cy="658.8" r="3.00"/><circle cx="398.2" cy="660.9" r="3.00"/><circle cx="441.4" cy="660.9" r="3.00"/><circle cx="443.8" cy="660.9" r="3.00"/><circle cx="446.2" cy="660.9" r="3.00"/><circle cx="451.0" cy="660.9" r="3.00"/><circle cx="453.4" cy="660.9" r="3.00"/><circle cx="455.8" cy="660.9" r="3.00"/><circle cx="458.2" cy="660.9" r="3.00"/><circle cx="460.6" cy="660.9" r="3.00"/><circle cx="463.0" cy="660.9" r="3.00"/><circle cx="399.4" cy="662.9" r="3.00"/><circle cx="435.4" cy="662.9" r="3.00"/><circle cx="437.8" cy="662.9" r="3.00"/><circle cx="440.2" cy="662.9" r="3.00"/><circle cx="442.6" cy="662.9" r="3.00"/><circle cx="445.0" cy="662.9" r="3.00"/><circle cx="447.4" cy="662.9" r="3.00"/><circle cx="449.8" cy="662.9" r="3.00"/><circle cx="452.2" cy="662.9" r="3.00"/><circle cx="454.6" cy="662.9" r="3.00"/><circle cx="457.0" cy="662.9" r="3.00"/><circle cx="459.4" cy="662.9" r="3.00"/><circle cx="461.8" cy="662.9" r="3.00"/><circle cx="464.2" cy="662.9" r="3.00"/><circle cx="400.6" cy="665.0" r="3.00"/><circle cx="417.4" cy="665.0" r="3.00"/><circle cx="419.8" cy="665.0" r="3.00"/><circle cx="436.6" cy="665.0" r="3.00"/><circle cx="439.0" cy="665.0" r="3.00"/><circle cx="441.4" cy="665.0" r="3.00"/><circle cx="443.8" cy="665.0" r="3.00"/><circle cx="446.2" cy="665.0" r="3.00"/><circle cx="448.6" cy="665.0" r="3.00"/><circle cx="451.0" cy="665.0" r="3.00"/><circle cx="453.4" cy="665.0" r="3.00"/><circle cx="455.8" cy="665.0" r="3.00"/><circle cx="458.2" cy="665.0" r="3.00"/><circle cx="460.6" cy="665.0" r="3.00"/><circle cx="463.0" cy="665.0" r="3.00"/><circle cx="465.4" cy="665.0" r="3.00"/><circle cx="399.4" cy="667.1" r="3.00"/><circle cx="401.8" cy="667.1" r="3.00"/><circle cx="416.2" cy="667.1" r="3.00"/><circle cx="418.6" cy="667.1" r="3.00"/><circle cx="421.0" cy="667.1" r="3.00"/><circle cx="437.8" cy="667.1" r="3.00"/><circle cx="440.2" cy="667.1" r="3.00"/><circle cx="442.6" cy="667.1" r="3.00"/><circle cx="445.0" cy="667.1" r="3.00"/><circle cx="447.4" cy="667.1" r="3.00"/><circle cx="449.8" cy="667.1" r="3.00"/><circle cx="452.2" cy="667.1" r="3.00"/><circle cx="454.6" cy="667.1" r="3.00"/><circle cx="457.0" cy="667.1" r="3.00"/><circle cx="459.4" cy="667.1" r="3.00"/><circle cx="461.8" cy="667.1" r="3.00"/><circle cx="464.2" cy="667.1" r="3.00"/><circle cx="398.2" cy="669.2" r="3.00"/><circle cx="400.6" cy="669.2" r="3.00"/><circle cx="403.0" cy="669.2" r="3.00"/><circle cx="412.6" cy="669.2" r="3.00"/><circle cx="415.0" cy="669.2" r="3.00"/><circle cx="417.4" cy="669.2" r="3.00"/><circle cx="419.8" cy="669.2" r="3.00"/><circle cx="422.2" cy="669.2" r="3.00"/><circle cx="436.6" cy="669.2" r="3.00"/><circle cx="439.0" cy="669.2" r="3.00"/><circle cx="441.4" cy="669.2" r="3.00"/><circle cx="443.8" cy="669.2" r="3.00"/><circle cx="446.2" cy="669.2" r="3.00"/><circle cx="448.6" cy="669.2" r="3.00"/><circle cx="451.0" cy="669.2" r="3.00"/><circle cx="453.4" cy="669.2" r="3.00"/><circle cx="455.8" cy="669.2" r="3.00"/><circle cx="458.2" cy="669.2" r="3.00"/><circle cx="460.6" cy="669.2" r="3.00"/><circle cx="463.0" cy="669.2" r="3.00"/><circle cx="465.4" cy="669.2" r="3.00"/><circle cx="399.4" cy="671.2" r="3.00"/><circle cx="401.8" cy="671.2" r="3.00"/><circle cx="411.4" cy="671.2" r="3.00"/><circle cx="413.8" cy="671.2" r="3.00"/><circle cx="416.2" cy="671.2" r="3.00"/><circle cx="418.6" cy="671.2" r="3.00"/><circle cx="421.0" cy="671.2" r="3.00"/><circle cx="423.4" cy="671.2" r="3.00"/><circle cx="433.0" cy="671.2" r="3.00"/><circle cx="435.4" cy="671.2" r="3.00"/><circle cx="437.8" cy="671.2" r="3.00"/><circle cx="440.2" cy="671.2" r="3.00"/><circle cx="442.6" cy="671.2" r="3.00"/><circle cx="445.0" cy="671.2" r="3.00"/><circle cx="447.4" cy="671.2" r="3.00"/><circle cx="449.8" cy="671.2" r="3.00"/><circle cx="452.2" cy="671.2" r="3.00"/><circle cx="454.6" cy="671.2" r="3.00"/><circle cx="457.0" cy="671.2" r="3.00"/><circle cx="459.4" cy="671.2" r="3.00"/><circle cx="461.8" cy="671.2" r="3.00"/><circle cx="410.2" cy="673.3" r="3.00"/><circle cx="412.6" cy="673.3" r="3.00"/><circle cx="415.0" cy="673.3" r="3.00"/><circle cx="422.2" cy="673.3" r="3.00"/><circle cx="424.6" cy="673.3" r="3.00"/><circle cx="431.8" cy="673.3" r="3.00"/><circle cx="434.2" cy="673.3" r="3.00"/><circle cx="436.6" cy="673.3" r="3.00"/><circle cx="439.0" cy="673.3" r="3.00"/><circle cx="441.4" cy="673.3" r="3.00"/><circle cx="443.8" cy="673.3" r="3.00"/><circle cx="446.2" cy="673.3" r="3.00"/><circle cx="448.6" cy="673.3" r="3.00"/><circle cx="451.0" cy="673.3" r="3.00"/><circle cx="453.4" cy="673.3" r="3.00"/><circle cx="455.8" cy="673.3" r="3.00"/><circle cx="458.2" cy="673.3" r="3.00"/><circle cx="460.6" cy="673.3" r="3.00"/><circle cx="406.6" cy="675.4" r="3.00"/><circle cx="409.0" cy="675.4" r="3.00"/><circle cx="411.4" cy="675.4" r="3.00"/><circle cx="423.4" cy="675.4" r="3.00"/><circle cx="425.8" cy="675.4" r="3.00"/><circle cx="428.2" cy="675.4" r="3.00"/><circle cx="435.4" cy="675.4" r="3.00"/><circle cx="437.8" cy="675.4" r="3.00"/><circle cx="440.2" cy="675.4" r="3.00"/><circle cx="442.6" cy="675.4" r="3.00"/><circle cx="445.0" cy="675.4" r="3.00"/><circle cx="447.4" cy="675.4" r="3.00"/><circle cx="449.8" cy="675.4" r="3.00"/><circle cx="452.2" cy="675.4" r="3.00"/><circle cx="454.6" cy="675.4" r="3.00"/><circle cx="457.0" cy="675.4" r="3.00"/><circle cx="459.4" cy="675.4" r="3.00"/><circle cx="405.4" cy="677.5" r="3.00"/><circle cx="407.8" cy="677.5" r="3.00"/><circle cx="410.2" cy="677.5" r="3.00"/><circle cx="412.6" cy="677.5" r="3.00"/><circle cx="424.6" cy="677.5" r="3.00"/><circle cx="427.0" cy="677.5" r="3.00"/><circle cx="436.6" cy="677.5" r="3.00"/><circle cx="439.0" cy="677.5" r="3.00"/><circle cx="441.4" cy="677.5" r="3.00"/><circle cx="443.8" cy="677.5" r="3.00"/><circle cx="446.2" cy="677.5" r="3.00"/><circle cx="448.6" cy="677.5" r="3.00"/><circle cx="451.0" cy="677.5" r="3.00"/><circle cx="453.4" cy="677.5" r="3.00"/><circle cx="404.2" cy="679.6" r="3.00"/><circle cx="406.6" cy="679.6" r="3.00"/><circle cx="409.0" cy="679.6" r="3.00"/><circle cx="411.4" cy="679.6" r="3.00"/><circle cx="413.8" cy="679.6" r="3.00"/><circle cx="423.4" cy="679.6" r="3.00"/><circle cx="425.8" cy="679.6" r="3.00"/><circle cx="428.2" cy="679.6" r="3.00"/><circle cx="435.4" cy="679.6" r="3.00"/><circle cx="437.8" cy="679.6" r="3.00"/><circle cx="440.2" cy="679.6" r="3.00"/><circle cx="442.6" cy="679.6" r="3.00"/><circle cx="445.0" cy="679.6" r="3.00"/><circle cx="447.4" cy="679.6" r="3.00"/><circle cx="449.8" cy="679.6" r="3.00"/><circle cx="452.2" cy="679.6" r="3.00"/><circle cx="400.6" cy="681.6" r="3.00"/><circle cx="403.0" cy="681.6" r="3.00"/><circle cx="405.4" cy="681.6" r="3.00"/><circle cx="407.8" cy="681.6" r="3.00"/><circle cx="410.2" cy="681.6" r="3.00"/><circle cx="412.6" cy="681.6" r="3.00"/><circle cx="415.0" cy="681.6" r="3.00"/><circle cx="417.4" cy="681.6" r="3.00"/><circle cx="419.8" cy="681.6" r="3.00"/><circle cx="422.2" cy="681.6" r="3.00"/><circle cx="424.6" cy="681.6" r="3.00"/><circle cx="427.0" cy="681.6" r="3.00"/><circle cx="429.4" cy="681.6" r="3.00"/><circle cx="431.8" cy="681.6" r="3.00"/><circle cx="434.2" cy="681.6" r="3.00"/><circle cx="441.4" cy="681.6" r="3.00"/><circle cx="443.8" cy="681.6" r="3.00"/><circle cx="446.2" cy="681.6" r="3.00"/><circle cx="448.6" cy="681.6" r="3.00"/><circle cx="451.0" cy="681.6" r="3.00"/><circle cx="404.2" cy="683.7" r="3.00"/><circle cx="406.6" cy="683.7" r="3.00"/><circle cx="409.0" cy="683.7" r="3.00"/><circle cx="411.4" cy="683.7" r="3.00"/><circle cx="413.8" cy="683.7" r="3.00"/><circle cx="416.2" cy="683.7" r="3.00"/><circle cx="418.6" cy="683.7" r="3.00"/><circle cx="421.0" cy="683.7" r="3.00"/><circle cx="423.4" cy="683.7" r="3.00"/><circle cx="425.8" cy="683.7" r="3.00"/><circle cx="428.2" cy="683.7" r="3.00"/><circle cx="430.6" cy="683.7" r="3.00"/><circle cx="433.0" cy="683.7" r="3.00"/><circle cx="445.0" cy="683.7" r="3.00"/><circle cx="447.4" cy="683.7" r="3.00"/><circle cx="405.4" cy="685.8" r="3.00"/><circle cx="407.8" cy="685.8" r="3.00"/><circle cx="410.2" cy="685.8" r="3.00"/><circle cx="412.6" cy="685.8" r="3.00"/><circle cx="415.0" cy="685.8" r="3.00"/><circle cx="417.4" cy="685.8" r="3.00"/><circle cx="419.8" cy="685.8" r="3.00"/><circle cx="422.2" cy="685.8" r="3.00"/><circle cx="424.6" cy="685.8" r="3.00"/><circle cx="427.0" cy="685.8" r="3.00"/><circle cx="429.4" cy="685.8" r="3.00"/><circle cx="431.8" cy="685.8" r="3.00"/><circle cx="406.6" cy="687.9" r="3.00"/><circle cx="409.0" cy="687.9" r="3.00"/><circle cx="418.6" cy="687.9" r="3.00"/><circle cx="421.0" cy="687.9" r="3.00"/><circle cx="423.4" cy="687.9" r="3.00"/><circle cx="425.8" cy="687.9" r="3.00"/><circle cx="428.2" cy="687.9" r="3.00"/><circle cx="430.6" cy="687.9" r="3.00"/><circle cx="433.0" cy="687.9" r="3.00"/><circle cx="407.8" cy="690.0" r="3.00"/><circle cx="422.2" cy="690.0" r="3.00"/><circle cx="424.6" cy="690.0" r="3.00"/><circle cx="427.0" cy="690.0" r="3.00"/><circle cx="429.4" cy="690.0" r="3.00"/><circle cx="406.6" cy="692.0" r="3.00"/><circle cx="421.0" cy="692.0" r="3.00"/><circle cx="423.4" cy="692.0" r="3.00"/><circle cx="425.8" cy="692.0" r="3.00"/><circle cx="428.2" cy="692.0" r="3.00"/><circle cx="403.0" cy="694.1" r="3.00"/><circle cx="405.4" cy="694.1" r="3.00"/><circle cx="419.8" cy="694.1" r="3.00"/><circle cx="422.2" cy="694.1" r="3.00"/><circle cx="424.6" cy="694.1" r="3.00"/><circle cx="427.0" cy="694.1" r="3.00"/><circle cx="429.4" cy="694.1" r="3.00"/><circle cx="423.4" cy="696.2" r="3.00"/><circle cx="425.8" cy="696.2" r="3.00"/><circle cx="428.2" cy="696.2" r="3.00"/><circle cx="442.2" cy="688.9" r="3.00"/><circle cx="423.5" cy="701.2" r="3.00"/><circle cx="607.5" cy="620.4" r="3.00"/><circle cx="604.5" cy="629.3" r="3.00"/><circle cx="579.4" cy="704.3" r="3.00"/><circle cx="583.3" cy="714.2" r="3.00"/><circle cx="558.6" cy="714.7" r="3.00"/><circle cx="586.9" cy="640.1" r="3.00"/><circle cx="589.0" cy="640.0" r="3.00"/><circle cx="590.6" cy="642.0" r="3.00"/><circle cx="589.7" cy="650.9" r="3.00"/><circle cx="589.4" cy="654.7" r="3.00"/><circle cx="550.5" cy="649.0" r="3.00"/><circle cx="554.5" cy="650.9" r="3.00"/><circle cx="607.3" cy="636.4" r="3.00"/><circle cx="605.6" cy="639.2" r="3.00"/><circle cx="607.0" cy="642.9" r="3.00"/><circle cx="608.4" cy="646.7" r="3.00"/><circle cx="612.7" cy="649.0" r="3.00"/><circle cx="613.6" cy="684.0" r="3.00"/><circle cx="556.4" cy="702.5" r="3.00"/><circle cx="560.2" cy="704.3" r="3.00"/><circle cx="556.4" cy="707.6" r="3.00"/><circle cx="565.3" cy="703.4" r="3.00"/><circle cx="568.1" cy="657.5" r="3.00"/><circle cx="572.3" cy="657.0" r="3.00"/><circle cx="549.6" cy="682.8" r="3.00"/><circle cx="550.4" cy="683.8" r="3.00"/><circle cx="551.3" cy="684.7" r="3.00"/><circle cx="552.2" cy="685.6" r="3.00"/><circle cx="552.8" cy="686.8" r="3.00"/><circle cx="553.2" cy="688.0" r="3.00"/><circle cx="554.1" cy="688.7" r="3.00"/><circle cx="555.4" cy="688.8" r="3.00"/><circle cx="556.5" cy="689.5" r="3.00"/><circle cx="557.3" cy="690.5" r="3.00"/><circle cx="557.5" cy="691.8" r="3.00"/><circle cx="557.2" cy="693.0" r="3.00"/><circle cx="556.9" cy="694.3" r="3.00"/><circle cx="557.7" cy="695.3" r="3.00"/><circle cx="558.9" cy="695.7" r="3.00"/><circle cx="560.1" cy="696.3" r="3.00"/><circle cx="560.9" cy="697.3" r="3.00"/><circle cx="561.6" cy="696.9" r="3.00"/><circle cx="562.3" cy="695.8" r="3.00"/><circle cx="563.2" cy="694.8" r="3.00"/><circle cx="563.9" cy="693.8" r="3.00"/><circle cx="564.5" cy="692.6" r="3.00"/><circle cx="565.4" cy="691.6" r="3.00"/><circle cx="566.3" cy="690.8" r="3.00"/><circle cx="567.4" cy="690.1" r="3.00"/><circle cx="568.7" cy="689.8" r="3.00"/><circle cx="569.9" cy="690.1" r="3.00"/><circle cx="571.2" cy="690.3" r="3.00"/><circle cx="572.5" cy="690.2" r="3.00"/><circle cx="573.8" cy="690.1" r="3.00"/><circle cx="575.1" cy="690.4" r="3.00"/><circle cx="576.1" cy="691.2" r="3.00"/><circle cx="576.8" cy="692.3" r="3.00"/><circle cx="577.5" cy="693.4" r="3.00"/><circle cx="577.7" cy="694.7" r="3.00"/><circle cx="577.3" cy="695.9" r="3.00"/><circle cx="576.5" cy="696.9" r="3.00"/><circle cx="575.3" cy="697.4" r="3.00"/><circle cx="575.4" cy="697.8" r="3.00"/><circle cx="576.6" cy="697.9" r="3.00"/><circle cx="577.9" cy="698.3" r="3.00"/><circle cx="579.1" cy="698.8" r="3.00"/><circle cx="580.2" cy="698.9" r="3.00"/><circle cx="581.3" cy="698.2" r="3.00"/><circle cx="582.5" cy="697.9" r="3.00"/><circle cx="583.3" cy="697.0" r="3.00"/><circle cx="582.9" cy="695.8" r="3.00"/><circle cx="582.5" cy="694.5" r="3.00"/><circle cx="582.3" cy="693.2" r="3.00"/><circle cx="582.0" cy="692.0" r="3.00"/><circle cx="582.2" cy="690.7" r="3.00"/><circle cx="582.6" cy="689.4" r="3.00"/><circle cx="582.5" cy="688.2" r="3.00"/><circle cx="582.2" cy="686.9" r="3.00"/><circle cx="582.3" cy="685.6" r="3.00"/><circle cx="582.4" cy="684.3" r="3.00"/><circle cx="582.7" cy="683.0" r="3.00"/><circle cx="583.4" cy="682.0" r="3.00"/><circle cx="584.5" cy="681.2" r="3.00"/><circle cx="585.6" cy="680.5" r="3.00"/><circle cx="586.8" cy="680.3" r="3.00"/><circle cx="588.1" cy="680.6" r="3.00"/><circle cx="589.1" cy="681.4" r="3.00"/><circle cx="589.9" cy="682.4" r="3.00"/><circle cx="590.7" cy="683.5" r="3.00"/><circle cx="591.5" cy="684.5" r="3.00"/><circle cx="592.5" cy="685.3" r="3.00"/><circle cx="593.5" cy="686.1" r="3.00"/><circle cx="594.0" cy="687.3" r="3.00"/><circle cx="594.3" cy="688.6" r="3.00"/><circle cx="594.9" cy="689.7" r="3.00"/><circle cx="596.0" cy="690.3" r="3.00"/><circle cx="597.2" cy="690.9" r="3.00"/><circle cx="598.3" cy="690.9" r="3.00"/><circle cx="598.6" cy="689.6" r="3.00"/><circle cx="599.3" cy="688.6" r="3.00"/><circle cx="600.4" cy="687.8" r="3.00"/><circle cx="601.4" cy="687.1" r="3.00"/><circle cx="601.4" cy="685.8" r="3.00"/><circle cx="601.2" cy="684.5" r="3.00"/><circle cx="601.6" cy="683.3" r="3.00"/><circle cx="602.3" cy="682.2" r="3.00"/><circle cx="603.1" cy="681.2" r="3.00"/><circle cx="604.0" cy="680.3" r="3.00"/><circle cx="605.2" cy="679.7" r="3.00"/><circle cx="606.4" cy="679.2" r="3.00"/><circle cx="607.6" cy="678.9" r="3.00"/><circle cx="608.9" cy="679.0" r="3.00"/><circle cx="610.2" cy="679.3" r="3.00"/><circle cx="611.4" cy="679.7" r="3.00"/><circle cx="612.3" cy="680.6" r="3.00"/><circle cx="612.8" cy="681.8" r="3.00"/><circle cx="612.8" cy="683.1" r="3.00"/><circle cx="613.1" cy="684.0" r="3.00"/><circle cx="613.8" cy="682.9" r="3.00"/><circle cx="613.9" cy="681.6" r="3.00"/><circle cx="614.1" cy="680.3" r="3.00"/><circle cx="614.8" cy="679.3" r="3.00"/><circle cx="615.7" cy="678.4" r="3.00"/><circle cx="616.5" cy="677.4" r="3.00"/><circle cx="617.1" cy="676.2" r="3.00"/><circle cx="617.9" cy="675.2" r="3.00"/><circle cx="619.0" cy="674.6" r="3.00"/><circle cx="619.5" cy="673.5" r="3.00"/><circle cx="618.8" cy="672.4" r="3.00"/><circle cx="618.1" cy="671.3" r="3.00"/><circle cx="617.8" cy="670.1" r="3.00"/><circle cx="618.1" cy="668.8" r="3.00"/><circle cx="618.5" cy="667.5" r="3.00"/><circle cx="619.0" cy="666.3" r="3.00"/><circle cx="619.3" cy="665.1" r="3.00"/><circle cx="618.6" cy="664.0" r="3.00"/><circle cx="617.9" cy="663.0" r="3.00"/><circle cx="617.6" cy="661.7" r="3.00"/><circle cx="617.9" cy="660.4" r="3.00"/><circle cx="618.4" cy="659.2" r="3.00"/><circle cx="618.0" cy="658.1" r="3.00"/><circle cx="617.1" cy="657.1" r="3.00"/><circle cx="616.7" cy="655.9" r="3.00"/><circle cx="616.9" cy="654.6" r="3.00"/><circle cx="616.8" cy="654.5" r="3.00"/><circle cx="616.1" cy="655.6" r="3.00"/><circle cx="615.4" cy="656.7" r="3.00"/><circle cx="614.5" cy="657.7" r="3.00"/><circle cx="613.3" cy="658.2" r="3.00"/><circle cx="612.0" cy="658.1" r="3.00"/><circle cx="610.8" cy="657.5" r="3.00"/><circle cx="609.9" cy="656.6" r="3.00"/><circle cx="609.2" cy="655.6" r="3.00"/><circle cx="608.8" cy="654.8" r="3.00"/><circle cx="607.6" cy="655.3" r="3.00"/><circle cx="606.3" cy="655.2" r="3.00"/><circle cx="605.0" cy="654.8" r="3.00"/><circle cx="604.4" cy="655.9" r="3.00"/><circle cx="605.0" cy="656.4" r="3.00"/><circle cx="606.2" cy="656.8" r="3.00"/><circle cx="607.2" cy="657.7" r="3.00"/><circle cx="607.8" cy="658.8" r="3.00"/><circle cx="608.1" cy="660.1" r="3.00"/><circle cx="608.0" cy="661.3" r="3.00"/><circle cx="607.3" cy="662.4" r="3.00"/><circle cx="606.2" cy="663.1" r="3.00"/><circle cx="605.0" cy="663.7" r="3.00"/><circle cx="603.8" cy="664.3" r="3.00"/><circle cx="605.1" cy="664.5" r="3.00"/><circle cx="606.2" cy="665.1" r="3.00"/><circle cx="607.0" cy="666.2" r="3.00"/><circle cx="607.2" cy="667.4" r="3.00"/><circle cx="607.3" cy="668.7" r="3.00"/><circle cx="607.4" cy="670.0" r="3.00"/><circle cx="607.5" cy="671.3" r="3.00"/><circle cx="607.4" cy="672.6" r="3.00"/><circle cx="606.9" cy="673.8" r="3.00"/><circle cx="605.9" cy="674.6" r="3.00"/><circle cx="604.7" cy="675.0" r="3.00"/><circle cx="603.4" cy="675.0" r="3.00"/><circle cx="602.1" cy="674.6" r="3.00"/><circle cx="601.2" cy="673.8" r="3.00"/><circle cx="600.6" cy="672.6" r="3.00"/><circle cx="600.5" cy="671.3" r="3.00"/><circle cx="600.4" cy="670.0" r="3.00"/><circle cx="600.4" cy="668.7" r="3.00"/><circle cx="600.3" cy="667.4" r="3.00"/><circle cx="600.5" cy="666.1" r="3.00"/><circle cx="601.3" cy="665.1" r="3.00"/><circle cx="602.3" cy="664.5" r="3.00"/><circle cx="601.1" cy="664.0" r="3.00"/><circle cx="600.2" cy="663.0" r="3.00"/><circle cx="599.4" cy="662.0" r="3.00"/><circle cx="598.7" cy="661.4" r="3.00"/><circle cx="597.6" cy="662.0" r="3.00"/><circle cx="596.4" cy="662.6" r="3.00"/><circle cx="595.2" cy="663.1" r="3.00"/><circle cx="594.0" cy="663.5" r="3.00"/><circle cx="592.7" cy="663.5" r="3.00"/><circle cx="591.4" cy="663.3" r="3.00"/><circle cx="590.1" cy="663.0" r="3.00"/><circle cx="589.1" cy="662.2" r="3.00"/><circle cx="588.5" cy="661.1" r="3.00"/><circle cx="588.4" cy="659.8" r="3.00"/><circle cx="588.5" cy="658.5" r="3.00"/><circle cx="588.8" cy="657.2" r="3.00"/><circle cx="589.6" cy="656.2" r="3.00"/><circle cx="590.5" cy="655.3" r="3.00"/><circle cx="591.2" cy="654.3" r="3.00"/><circle cx="591.4" cy="653.0" r="3.00"/><circle cx="591.0" cy="651.8" r="3.00"/><circle cx="590.2" cy="650.9" r="3.00"/><circle cx="589.1" cy="651.5" r="3.00"/><circle cx="588.5" cy="652.6" r="3.00"/><circle cx="588.1" cy="653.8" r="3.00"/><circle cx="587.9" cy="655.1" r="3.00"/><circle cx="587.9" cy="656.4" r="3.00"/><circle cx="588.2" cy="657.6" r="3.00"/><circle cx="588.5" cy="658.9" r="3.00"/><circle cx="588.2" cy="660.2" r="3.00"/><circle cx="587.4" cy="661.2" r="3.00"/><circle cx="586.7" cy="662.3" r="3.00"/><circle cx="586.4" cy="663.6" r="3.00"/><circle cx="586.6" cy="664.9" r="3.00"/><circle cx="586.9" cy="666.1" r="3.00"/><circle cx="586.7" cy="667.4" r="3.00"/><circle cx="586.3" cy="668.7" r="3.00"/><circle cx="585.9" cy="669.9" r="3.00"/><circle cx="585.1" cy="671.0" r="3.00"/><circle cx="584.3" cy="671.9" r="3.00"/><circle cx="583.3" cy="672.8" r="3.00"/><circle cx="582.1" cy="673.3" r="3.00"/><circle cx="580.8" cy="673.2" r="3.00"/><circle cx="579.6" cy="673.0" r="3.00"/><circle cx="578.3" cy="672.7" r="3.00"/><circle cx="577.2" cy="672.0" r="3.00"/><circle cx="576.4" cy="671.0" r="3.00"/><circle cx="575.5" cy="670.0" r="3.00"/><circle cx="575.0" cy="668.8" r="3.00"/><circle cx="575.1" cy="667.5" r="3.00"/><circle cx="575.2" cy="666.3" r="3.00"/><circle cx="574.5" cy="665.2" r="3.00"/><circle cx="573.8" cy="664.1" r="3.00"/><circle cx="573.0" cy="663.0" r="3.00"/><circle cx="572.2" cy="663.2" r="3.00"/><circle cx="571.2" cy="664.1" r="3.00"/><circle cx="571.6" cy="665.3" r="3.00"/><circle cx="572.1" cy="666.5" r="3.00"/><circle cx="572.2" cy="667.8" r="3.00"/><circle cx="571.8" cy="669.0" r="3.00"/><circle cx="571.3" cy="670.2" r="3.00"/><circle cx="570.6" cy="671.3" r="3.00"/><circle cx="569.4" cy="671.9" r="3.00"/><circle cx="568.2" cy="672.1" r="3.00"/><circle cx="566.9" cy="672.2" r="3.00"/><circle cx="565.6" cy="671.8" r="3.00"/><circle cx="564.7" cy="670.9" r="3.00"/><circle cx="564.2" cy="669.7" r="3.00"/><circle cx="563.8" cy="668.8" r="3.00"/><circle cx="563.5" cy="670.1" r="3.00"/><circle cx="562.9" cy="671.2" r="3.00"/><circle cx="561.9" cy="672.0" r="3.00"/><circle cx="560.7" cy="672.5" r="3.00"/><circle cx="559.4" cy="672.6" r="3.00"/><circle cx="558.1" cy="672.3" r="3.00"/><circle cx="557.0" cy="671.7" r="3.00"/><circle cx="556.2" cy="670.7" r="3.00"/><circle cx="555.7" cy="669.5" r="3.00"/><circle cx="555.6" cy="668.2" r="3.00"/><circle cx="555.9" cy="666.9" r="3.00"/><circle cx="556.6" cy="665.8" r="3.00"/><circle cx="557.6" cy="665.0" r="3.00"/><circle cx="558.7" cy="664.5" r="3.00"/><circle cx="557.6" cy="663.8" r="3.00"/><circle cx="556.9" cy="662.7" r="3.00"/><circle cx="556.7" cy="661.5" r="3.00"/><circle cx="557.1" cy="660.2" r="3.00"/><circle cx="557.8" cy="659.2" r="3.00"/><circle cx="557.9" cy="658.1" r="3.00"/><circle cx="556.7" cy="657.5" r="3.00"/><circle cx="555.7" cy="656.7" r="3.00"/><circle cx="554.7" cy="655.9" r="3.00"/><circle cx="553.9" cy="654.9" r="3.00"/><circle cx="553.3" cy="655.2" r="3.00"/><circle cx="553.7" cy="656.4" r="3.00"/><circle cx="554.0" cy="657.7" r="3.00"/><circle cx="553.9" cy="658.9" r="3.00"/><circle cx="553.2" cy="660.0" r="3.00"/><circle cx="552.1" cy="660.8" r="3.00"/><circle cx="552.1" cy="661.8" r="3.00"/><circle cx="553.1" cy="662.6" r="3.00"/><circle cx="553.9" cy="663.6" r="3.00"/><circle cx="554.2" cy="664.8" r="3.00"/><circle cx="554.0" cy="666.1" r="3.00"/><circle cx="553.3" cy="667.2" r="3.00"/><circle cx="552.4" cy="668.1" r="3.00"/><circle cx="551.4" cy="669.0" r="3.00"/><circle cx="550.3" cy="669.7" r="3.00"/><circle cx="549.6" cy="670.8" r="3.00"/><circle cx="550.0" cy="672.0" r="3.00"/><circle cx="550.9" cy="672.9" r="3.00"/><circle cx="551.7" cy="674.0" r="3.00"/><circle cx="552.4" cy="675.1" r="3.00"/><circle cx="552.8" cy="674.3" r="3.00"/><circle cx="553.7" cy="673.3" r="3.00"/><circle cx="554.9" cy="672.8" r="3.00"/><circle cx="556.2" cy="672.8" r="3.00"/><circle cx="557.3" cy="673.4" r="3.00"/><circle cx="558.5" cy="673.2" r="3.00"/><circle cx="559.8" cy="672.8" r="3.00"/><circle cx="561.1" cy="672.9" r="3.00"/><circle cx="562.2" cy="673.5" r="3.00"/><circle cx="562.9" cy="674.6" r="3.00"/><circle cx="563.3" cy="675.8" r="3.00"/><circle cx="563.6" cy="676.9" r="3.00"/><circle cx="564.8" cy="676.5" r="3.00"/><circle cx="566.1" cy="676.5" r="3.00"/><circle cx="567.3" cy="676.8" r="3.00"/><circle cx="568.4" cy="677.6" r="3.00"/><circle cx="569.2" cy="678.6" r="3.00"/><circle cx="569.6" cy="679.8" r="3.00"/><circle cx="569.7" cy="681.1" r="3.00"/><circle cx="569.3" cy="682.4" r="3.00"/><circle cx="568.6" cy="683.4" r="3.00"/><circle cx="567.6" cy="684.3" r="3.00"/><circle cx="566.4" cy="684.7" r="3.00"/><circle cx="565.1" cy="684.8" r="3.00"/><circle cx="563.9" cy="684.5" r="3.00"/><circle cx="562.8" cy="683.8" r="3.00"/><circle cx="561.9" cy="682.9" r="3.00"/><circle cx="561.4" cy="681.7" r="3.00"/><circle cx="561.3" cy="680.4" r="3.00"/><circle cx="561.0" cy="679.7" r="3.00"/><circle cx="559.8" cy="680.2" r="3.00"/><circle cx="558.6" cy="680.6" r="3.00"/><circle cx="557.3" cy="680.8" r="3.00"/><circle cx="556.1" cy="680.4" r="3.00"/><circle cx="554.9" cy="680.0" r="3.00"/><circle cx="554.0" cy="680.2" r="3.00"/><circle cx="553.2" cy="681.3" r="3.00"/><circle cx="552.1" cy="681.9" r="3.00"/><circle cx="550.9" cy="682.3" r="3.00"/><circle cx="589.2" cy="652.9" r="3.00"/><circle cx="588.0" cy="655.0" r="3.00"/><circle cx="590.4" cy="655.0" r="3.00"/><circle cx="555.6" cy="657.1" r="3.00"/><circle cx="608.4" cy="657.1" r="3.00"/><circle cx="615.6" cy="657.1" r="3.00"/><circle cx="554.4" cy="659.2" r="3.00"/><circle cx="556.8" cy="659.2" r="3.00"/><circle cx="609.6" cy="659.2" r="3.00"/><circle cx="612.0" cy="659.2" r="3.00"/><circle cx="614.4" cy="659.2" r="3.00"/><circle cx="616.8" cy="659.2" r="3.00"/><circle cx="553.2" cy="661.2" r="3.00"/><circle cx="555.6" cy="661.2" r="3.00"/><circle cx="608.4" cy="661.2" r="3.00"/><circle cx="610.8" cy="661.2" r="3.00"/><circle cx="613.2" cy="661.2" r="3.00"/><circle cx="615.6" cy="661.2" r="3.00"/><circle cx="554.4" cy="663.3" r="3.00"/><circle cx="556.8" cy="663.3" r="3.00"/><circle cx="588.0" cy="663.3" r="3.00"/><circle cx="590.4" cy="663.3" r="3.00"/><circle cx="595.2" cy="663.3" r="3.00"/><circle cx="597.6" cy="663.3" r="3.00"/><circle cx="600.0" cy="663.3" r="3.00"/><circle cx="607.2" cy="663.3" r="3.00"/><circle cx="609.6" cy="663.3" r="3.00"/><circle cx="612.0" cy="663.3" r="3.00"/><circle cx="614.4" cy="663.3" r="3.00"/><circle cx="616.8" cy="663.3" r="3.00"/><circle cx="555.6" cy="665.4" r="3.00"/><circle cx="572.4" cy="665.4" r="3.00"/><circle cx="586.8" cy="665.4" r="3.00"/><circle cx="589.2" cy="665.4" r="3.00"/><circle cx="591.6" cy="665.4" r="3.00"/><circle cx="594.0" cy="665.4" r="3.00"/><circle cx="596.4" cy="665.4" r="3.00"/><circle cx="598.8" cy="665.4" r="3.00"/><circle cx="608.4" cy="665.4" r="3.00"/><circle cx="610.8" cy="665.4" r="3.00"/><circle cx="613.2" cy="665.4" r="3.00"/><circle cx="615.6" cy="665.4" r="3.00"/><circle cx="618.0" cy="665.4" r="3.00"/><circle cx="554.4" cy="667.5" r="3.00"/><circle cx="573.6" cy="667.5" r="3.00"/><circle cx="588.0" cy="667.5" r="3.00"/><circle cx="590.4" cy="667.5" r="3.00"/><circle cx="592.8" cy="667.5" r="3.00"/><circle cx="595.2" cy="667.5" r="3.00"/><circle cx="597.6" cy="667.5" r="3.00"/><circle cx="600.0" cy="667.5" r="3.00"/><circle cx="609.6" cy="667.5" r="3.00"/><circle cx="612.0" cy="667.5" r="3.00"/><circle cx="614.4" cy="667.5" r="3.00"/><circle cx="616.8" cy="667.5" r="3.00"/><circle cx="550.8" cy="669.6" r="3.00"/><circle cx="553.2" cy="669.6" r="3.00"/><circle cx="555.6" cy="669.6" r="3.00"/><circle cx="572.4" cy="669.6" r="3.00"/><circle cx="574.8" cy="669.6" r="3.00"/><circle cx="586.8" cy="669.6" r="3.00"/><circle cx="589.2" cy="669.6" r="3.00"/><circle cx="591.6" cy="669.6" r="3.00"/><circle cx="594.0" cy="669.6" r="3.00"/><circle cx="596.4" cy="669.6" r="3.00"/><circle cx="598.8" cy="669.6" r="3.00"/><circle cx="608.4" cy="669.6" r="3.00"/><circle cx="610.8" cy="669.6" r="3.00"/><circle cx="613.2" cy="669.6" r="3.00"/><circle cx="615.6" cy="669.6" r="3.00"/><circle cx="552.0" cy="671.6" r="3.00"/><circle cx="554.4" cy="671.6" r="3.00"/><circle cx="556.8" cy="671.6" r="3.00"/><circle cx="564.0" cy="671.6" r="3.00"/><circle cx="571.2" cy="671.6" r="3.00"/><circle cx="573.6" cy="671.6" r="3.00"/><circle cx="576.0" cy="671.6" r="3.00"/><circle cx="585.6" cy="671.6" r="3.00"/><circle cx="588.0" cy="671.6" r="3.00"/><circle cx="590.4" cy="671.6" r="3.00"/><circle cx="592.8" cy="671.6" r="3.00"/><circle cx="595.2" cy="671.6" r="3.00"/><circle cx="597.6" cy="671.6" r="3.00"/><circle cx="600.0" cy="671.6" r="3.00"/><circle cx="609.6" cy="671.6" r="3.00"/><circle cx="612.0" cy="671.6" r="3.00"/><circle cx="614.4" cy="671.6" r="3.00"/><circle cx="616.8" cy="671.6" r="3.00"/><circle cx="553.2" cy="673.7" r="3.00"/><circle cx="562.8" cy="673.7" r="3.00"/><circle cx="565.2" cy="673.7" r="3.00"/><circle cx="567.6" cy="673.7" r="3.00"/><circle cx="570.0" cy="673.7" r="3.00"/><circle cx="572.4" cy="673.7" r="3.00"/><circle cx="574.8" cy="673.7" r="3.00"/><circle cx="577.2" cy="673.7" r="3.00"/><circle cx="579.6" cy="673.7" r="3.00"/><circle cx="582.0" cy="673.7" r="3.00"/><circle cx="584.4" cy="673.7" r="3.00"/><circle cx="586.8" cy="673.7" r="3.00"/><circle cx="589.2" cy="673.7" r="3.00"/><circle cx="591.6" cy="673.7" r="3.00"/><circle cx="594.0" cy="673.7" r="3.00"/><circle cx="596.4" cy="673.7" r="3.00"/><circle cx="598.8" cy="673.7" r="3.00"/><circle cx="608.4" cy="673.7" r="3.00"/><circle cx="610.8" cy="673.7" r="3.00"/><circle cx="613.2" cy="673.7" r="3.00"/><circle cx="615.6" cy="673.7" r="3.00"/><circle cx="618.0" cy="673.7" r="3.00"/><circle cx="564.0" cy="675.8" r="3.00"/><circle cx="566.4" cy="675.8" r="3.00"/><circle cx="568.8" cy="675.8" r="3.00"/><circle cx="571.2" cy="675.8" r="3.00"/><circle cx="573.6" cy="675.8" r="3.00"/><circle cx="576.0" cy="675.8" r="3.00"/><circle cx="578.4" cy="675.8" r="3.00"/><circle cx="580.8" cy="675.8" r="3.00"/><circle cx="583.2" cy="675.8" r="3.00"/><circle cx="585.6" cy="675.8" r="3.00"/><circle cx="588.0" cy="675.8" r="3.00"/><circle cx="590.4" cy="675.8" r="3.00"/><circle cx="592.8" cy="675.8" r="3.00"/><circle cx="595.2" cy="675.8" r="3.00"/><circle cx="597.6" cy="675.8" r="3.00"/><circle cx="600.0" cy="675.8" r="3.00"/><circle cx="602.4" cy="675.8" r="3.00"/><circle cx="604.8" cy="675.8" r="3.00"/><circle cx="607.2" cy="675.8" r="3.00"/><circle cx="609.6" cy="675.8" r="3.00"/><circle cx="612.0" cy="675.8" r="3.00"/><circle cx="614.4" cy="675.8" r="3.00"/><circle cx="616.8" cy="675.8" r="3.00"/><circle cx="570.0" cy="677.9" r="3.00"/><circle cx="572.4" cy="677.9" r="3.00"/><circle cx="574.8" cy="677.9" r="3.00"/><circle cx="577.2" cy="677.9" r="3.00"/><circle cx="579.6" cy="677.9" r="3.00"/><circle cx="582.0" cy="677.9" r="3.00"/><circle cx="584.4" cy="677.9" r="3.00"/><circle cx="586.8" cy="677.9" r="3.00"/><circle cx="589.2" cy="677.9" r="3.00"/><circle cx="591.6" cy="677.9" r="3.00"/><circle cx="594.0" cy="677.9" r="3.00"/><circle cx="596.4" cy="677.9" r="3.00"/><circle cx="598.8" cy="677.9" r="3.00"/><circle cx="601.2" cy="677.9" r="3.00"/><circle cx="603.6" cy="677.9" r="3.00"/><circle cx="606.0" cy="677.9" r="3.00"/><circle cx="608.4" cy="677.9" r="3.00"/><circle cx="610.8" cy="677.9" r="3.00"/><circle cx="613.2" cy="677.9" r="3.00"/><circle cx="615.6" cy="677.9" r="3.00"/><circle cx="554.4" cy="679.9" r="3.00"/><circle cx="571.2" cy="679.9" r="3.00"/><circle cx="573.6" cy="679.9" r="3.00"/><circle cx="576.0" cy="679.9" r="3.00"/><circle cx="578.4" cy="679.9" r="3.00"/><circle cx="580.8" cy="679.9" r="3.00"/><circle cx="583.2" cy="679.9" r="3.00"/><circle cx="585.6" cy="679.9" r="3.00"/><circle cx="588.0" cy="679.9" r="3.00"/><circle cx="590.4" cy="679.9" r="3.00"/><circle cx="592.8" cy="679.9" r="3.00"/><circle cx="595.2" cy="679.9" r="3.00"/><circle cx="597.6" cy="679.9" r="3.00"/><circle cx="600.0" cy="679.9" r="3.00"/><circle cx="602.4" cy="679.9" r="3.00"/><circle cx="612.0" cy="679.9" r="3.00"/><circle cx="553.2" cy="682.0" r="3.00"/><circle cx="555.6" cy="682.0" r="3.00"/><circle cx="558.0" cy="682.0" r="3.00"/><circle cx="560.4" cy="682.0" r="3.00"/><circle cx="570.0" cy="682.0" r="3.00"/><circle cx="572.4" cy="682.0" r="3.00"/><circle cx="574.8" cy="682.0" r="3.00"/><circle cx="577.2" cy="682.0" r="3.00"/><circle cx="579.6" cy="682.0" r="3.00"/><circle cx="582.0" cy="682.0" r="3.00"/><circle cx="591.6" cy="682.0" r="3.00"/><circle cx="594.0" cy="682.0" r="3.00"/><circle cx="596.4" cy="682.0" r="3.00"/><circle cx="598.8" cy="682.0" r="3.00"/><circle cx="601.2" cy="682.0" r="3.00"/><circle cx="613.2" cy="682.0" r="3.00"/><circle cx="552.0" cy="684.1" r="3.00"/><circle cx="554.4" cy="684.1" r="3.00"/><circle cx="556.8" cy="684.1" r="3.00"/><circle cx="559.2" cy="684.1" r="3.00"/><circle cx="561.6" cy="684.1" r="3.00"/><circle cx="568.8" cy="684.1" r="3.00"/><circle cx="571.2" cy="684.1" r="3.00"/><circle cx="573.6" cy="684.1" r="3.00"/><circle cx="576.0" cy="684.1" r="3.00"/><circle cx="578.4" cy="684.1" r="3.00"/><circle cx="580.8" cy="684.1" r="3.00"/><circle cx="592.8" cy="684.1" r="3.00"/><circle cx="595.2" cy="684.1" r="3.00"/><circle cx="597.6" cy="684.1" r="3.00"/><circle cx="600.0" cy="684.1" r="3.00"/><circle cx="553.2" cy="686.2" r="3.00"/><circle cx="555.6" cy="686.2" r="3.00"/><circle cx="558.0" cy="686.2" r="3.00"/><circle cx="560.4" cy="686.2" r="3.00"/><circle cx="562.8" cy="686.2" r="3.00"/><circle cx="565.2" cy="686.2" r="3.00"/><circle cx="567.6" cy="686.2" r="3.00"/><circle cx="570.0" cy="686.2" r="3.00"/><circle cx="572.4" cy="686.2" r="3.00"/><circle cx="574.8" cy="686.2" r="3.00"/><circle cx="577.2" cy="686.2" r="3.00"/><circle cx="579.6" cy="686.2" r="3.00"/><circle cx="582.0" cy="686.2" r="3.00"/><circle cx="594.0" cy="686.2" r="3.00"/><circle cx="596.4" cy="686.2" r="3.00"/><circle cx="598.8" cy="686.2" r="3.00"/><circle cx="601.2" cy="686.2" r="3.00"/><circle cx="554.4" cy="688.3" r="3.00"/><circle cx="556.8" cy="688.3" r="3.00"/><circle cx="559.2" cy="688.3" r="3.00"/><circle cx="561.6" cy="688.3" r="3.00"/><circle cx="564.0" cy="688.3" r="3.00"/><circle cx="566.4" cy="688.3" r="3.00"/><circle cx="568.8" cy="688.3" r="3.00"/><circle cx="571.2" cy="688.3" r="3.00"/><circle cx="573.6" cy="688.3" r="3.00"/><circle cx="576.0" cy="688.3" r="3.00"/><circle cx="578.4" cy="688.3" r="3.00"/><circle cx="580.8" cy="688.3" r="3.00"/><circle cx="595.2" cy="688.3" r="3.00"/><circle cx="597.6" cy="688.3" r="3.00"/><circle cx="558.0" cy="690.3" r="3.00"/><circle cx="560.4" cy="690.3" r="3.00"/><circle cx="562.8" cy="690.3" r="3.00"/><circle cx="565.2" cy="690.3" r="3.00"/><circle cx="577.2" cy="690.3" r="3.00"/><circle cx="579.6" cy="690.3" r="3.00"/><circle cx="582.0" cy="690.3" r="3.00"/><circle cx="596.4" cy="690.3" r="3.00"/><circle cx="559.2" cy="692.4" r="3.00"/><circle cx="561.6" cy="692.4" r="3.00"/><circle cx="564.0" cy="692.4" r="3.00"/><circle cx="578.4" cy="692.4" r="3.00"/><circle cx="580.8" cy="692.4" r="3.00"/><circle cx="558.0" cy="694.5" r="3.00"/><circle cx="560.4" cy="694.5" r="3.00"/><circle cx="562.8" cy="694.5" r="3.00"/><circle cx="579.6" cy="694.5" r="3.00"/><circle cx="582.0" cy="694.5" r="3.00"/><circle cx="561.6" cy="696.6" r="3.00"/><circle cx="578.4" cy="696.6" r="3.00"/><circle cx="580.8" cy="696.6" r="3.00"/><circle cx="579.6" cy="698.7" r="3.00"/><circle cx="562.5" cy="665.5" r="3.00"/><circle cx="563.4" cy="666.8" r="3.00"/><circle cx="572.3" cy="657.9" r="3.00"/><circle cx="617.5" cy="652.8" r="3.00"/><circle cx="560.0" cy="703.2" r="3.00"/><circle cx="558.6" cy="703.2" r="3.00"/><circle cx="557.3" cy="702.8" r="3.00"/><circle cx="556.7" cy="703.9" r="3.00"/><circle cx="557.0" cy="705.2" r="3.00"/><circle cx="557.0" cy="706.6" r="3.00"/><circle cx="557.3" cy="706.3" r="3.00"/><circle cx="558.2" cy="705.2" r="3.00"/><circle cx="559.3" cy="704.4" r="3.00"/><circle cx="557.9" cy="704.9" r="3.00"/><circle cx="606.3" cy="639.4" r="3.00"/><circle cx="606.8" cy="638.2" r="3.00"/><circle cx="607.2" cy="636.9" r="3.00"/><circle cx="606.2" cy="637.0" r="3.00"/><circle cx="605.7" cy="638.2" r="3.00"/><circle cx="112.4" cy="745.4" r="3.00"/><circle cx="113.4" cy="752.5" r="3.00"/><circle cx="112.4" cy="760.1" r="3.00"/><circle cx="113.1" cy="763.8" r="3.00"/><circle cx="112.0" cy="767.1" r="3.00"/><circle cx="113.4" cy="768.5" r="3.00"/><circle cx="111.7" cy="771.5" r="3.00"/><circle cx="112.4" cy="789.4" r="3.00"/><circle cx="111.4" cy="799.4" r="3.00"/><circle cx="246.5" cy="1009.5" r="3.00"/></g>
<rect x="633.3" y="981.3" width="274.4" height="34.1" rx="3.3" ry="3.3" fill="#fff" fill-opacity="0.8" stroke="#ccc" stroke-opacity="0.8" stroke-width="1.1"/>
<circle cx="656.6" cy="996.7" r="3.1" fill="#0000ff"/>
<text transform="translate(687.3 1002.2) scale(1 1)" font-size="16.67">Injected:2.27e11 ppb <tspan font-size="20.5" dx="-0.2">±</tspan><tspan dx="0.6"> 1.39e10</tspan></text>
<path d="M111.5 1023.5v4.6M224.5 1023.5v4.6M337.5 1023.5v4.6M450.5 1023.5v4.6M563.5 1023.5v4.6M675.5 1023.5v4.6M788.5 1023.5v4.6M901.5 1023.5v4.6M106.5 1023.5h-4.6M106.5 946.5h-4.6M106.5 869.5h-4.6M106.5 792.5h-4.6M106.5 715.5h-4.6M106.5 639.5h-4.6" stroke="#000" stroke-width="1.1" fill="none"/>
<rect x="106.5" y="592.5" width="810.0" height="431.0" fill="none" stroke="#000" stroke-width="1.1"/>
<text transform="translate(97.4 1032.8) scale(0.955 1.04)" text-anchor="end" font-size="27.78">0.0</text>
<text transform="translate(97.4 955.8) scale(0.955 1.04)" text-anchor="end" font-size="27.78">0.5</text>
<text transform="translate(97.4 878.8) scale(0.955 1.04)" text-anchor="end" font-size="27.78">1.0</text>
<text transform="translate(97.4 801.8) scale(0.955 1.04)" text-anchor="end" font-size="27.78">1.5</text>
<text transform="translate(97.4 724.3) scale(0.955 1.04)" text-anchor="end" font-size="27.78">2.0</text>
<text transform="translate(97.4 647.9) scale(0.955 1.04)" text-anchor="end" font-size="27.78">2.5</text>
<text transform="translate(107.6 588.8) scale(0.955 1.04)" font-size="27.78">1e11</text>
<text transform="translate(51.2 808.7) rotate(-90)" text-anchor="middle" font-size="33.45">B2 bunch intensity (ppb)</text>
<text transform="translate(111.5 1049.7) scale(0.955 1.04)" text-anchor="middle" font-size="27.78">0</text>
<text transform="translate(224.5 1049.7) scale(0.955 1.04)" text-anchor="middle" font-size="27.78">500</text>
<text transform="translate(337.5 1049.7) scale(0.955 1.04)" text-anchor="middle" font-size="27.78">1000</text>
<text transform="translate(450.5 1049.7) scale(0.955 1.04)" text-anchor="middle" font-size="27.78">1500</text>
<text transform="translate(563.5 1049.7) scale(0.955 1.04)" text-anchor="middle" font-size="27.78">2000</text>
<text transform="translate(675.5 1049.7) scale(0.955 1.04)" text-anchor="middle" font-size="27.78">2500</text>
<text transform="translate(788.5 1049.7) scale(0.955 1.04)" text-anchor="middle" font-size="27.78">3000</text>
<text transform="translate(901.5 1049.7) scale(0.955 1.04)" text-anchor="middle" font-size="27.78">3500</text>
<text x="510.8" y="1083.1" text-anchor="middle" font-size="33.33">Bunch slot</text>
</svg>
</body></html>
